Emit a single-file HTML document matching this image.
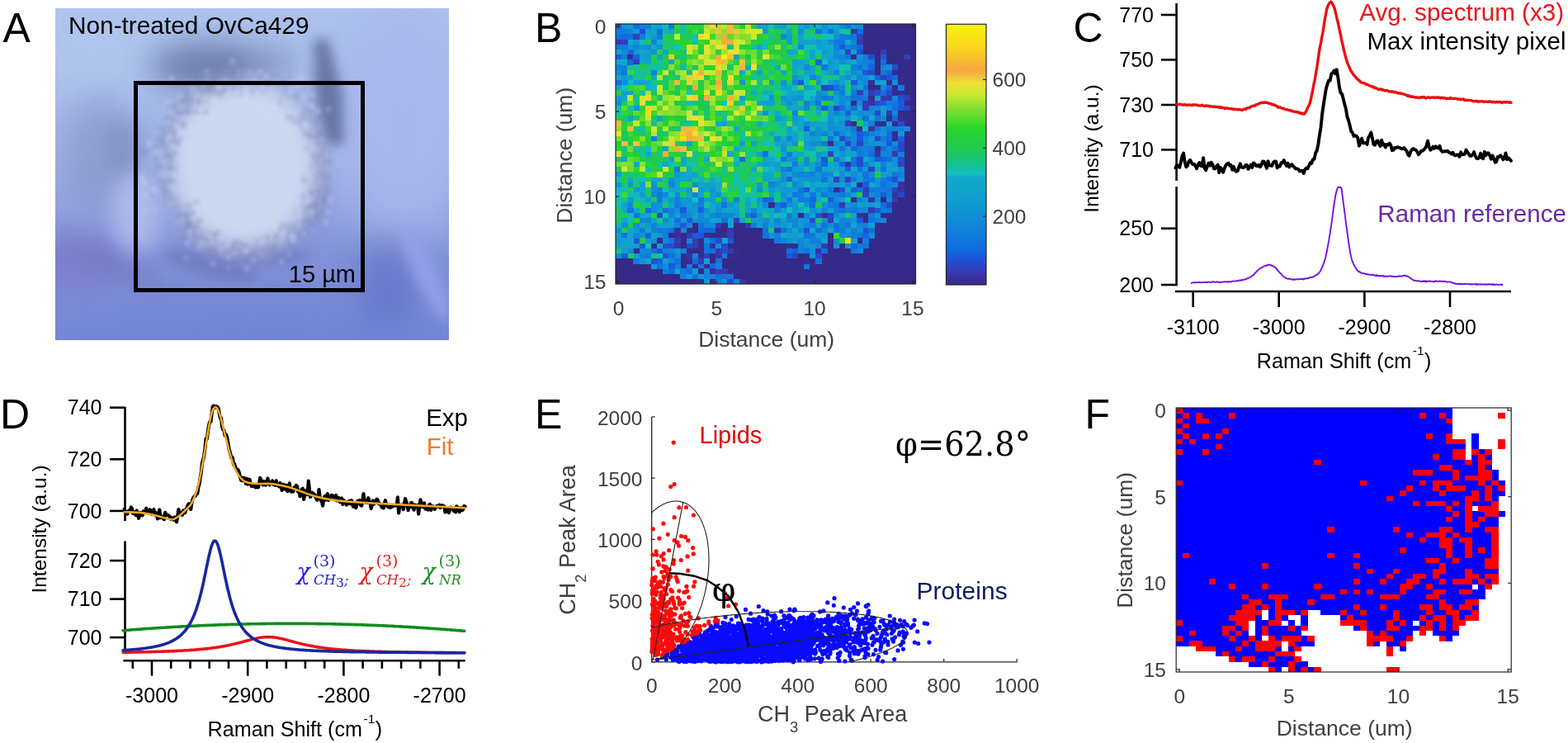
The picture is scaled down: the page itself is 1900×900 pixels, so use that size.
<!DOCTYPE html>
<html><head><meta charset="utf-8"><title>Figure</title>
<style>html,body{margin:0;padding:0;background:#fff;} svg{display:block;}</style>
</head><body>
<svg width="1900" height="900" viewBox="0 0 1900 900">
<rect width="1900" height="900" fill="#fff"/>
<defs><linearGradient id="agv" x1="0" y1="0" x2="0" y2="1"><stop offset="0" stop-color="rgb(172,195,236)"/><stop offset="0.45" stop-color="rgb(160,178,230)"/><stop offset="0.75" stop-color="rgb(130,145,216)"/><stop offset="1" stop-color="rgb(114,134,212)"/></linearGradient><filter id="b30" x="-50%" y="-50%" width="200%" height="200%"><feGaussianBlur stdDeviation="30"/></filter><filter id="b18" x="-50%" y="-50%" width="200%" height="200%"><feGaussianBlur stdDeviation="18"/></filter><filter id="b12" x="-50%" y="-50%" width="200%" height="200%"><feGaussianBlur stdDeviation="12"/></filter><filter id="b7" x="-50%" y="-50%" width="200%" height="200%"><feGaussianBlur stdDeviation="7"/></filter><filter id="b3" x="-50%" y="-50%" width="200%" height="200%"><feGaussianBlur stdDeviation="2.5"/></filter><clipPath id="aclip"><rect x="67" y="10" width="477" height="402"/></clipPath></defs>
<g clip-path="url(#aclip)">
<rect x="67" y="10" width="477" height="402" fill="url(#agv)"/>
<ellipse cx="490" cy="140" rx="80" ry="150" fill="rgb(170,184,238)" opacity="0.9" filter="url(#b30)"/>
<ellipse cx="115" cy="65" rx="90" ry="70" fill="rgb(178,198,238)" opacity="0.75" filter="url(#b30)"/>
<ellipse cx="95" cy="318" rx="70" ry="30" fill="rgb(124,116,202)" opacity="0.7" filter="url(#b18)"/>
<ellipse cx="320" cy="395" rx="170" ry="30" fill="rgb(112,130,212)" opacity="0.5" filter="url(#b30)"/>
<ellipse cx="112" cy="185" rx="40" ry="60" fill="rgb(146,160,210)" opacity="0.55" filter="url(#b18)"/>
<ellipse cx="125" cy="190" rx="42" ry="75" fill="rgb(134,148,200)" opacity="0.5" filter="url(#b18)"/>
<ellipse cx="384" cy="225" rx="12" ry="48" fill="rgb(120,130,182)" opacity="0.6" filter="url(#b7)"/>
<ellipse cx="150" cy="180" rx="20" ry="36" fill="rgb(122,134,188)" opacity="0.55" filter="url(#b12)"/>
<ellipse cx="252" cy="80" rx="70" ry="26" fill="rgb(98,110,158)" opacity="0.85" filter="url(#b18)"/>
<ellipse cx="330" cy="75" rx="30" ry="18" fill="rgb(130,140,185)" opacity="0.5" filter="url(#b12)"/>
<path d="M380,48 L398,48 L416,116 L417,174 L392,176 L382,118 Z" fill="rgb(92,102,150)" opacity="0.8" filter="url(#b7)"/>
<ellipse cx="135" cy="318" rx="75" ry="13" fill="rgb(112,120,186)" opacity="0.5" filter="url(#b12)" transform="rotate(24 135 318)"/>
<ellipse cx="255" cy="322" rx="60" ry="14" fill="rgb(106,114,182)" opacity="0.6" filter="url(#b7)" transform="rotate(14 255 322)"/>
<ellipse cx="315" cy="310" rx="60" ry="11" fill="rgb(104,112,180)" opacity="0.6" filter="url(#b7)"/>
<ellipse cx="470" cy="345" rx="38" ry="55" fill="rgb(100,114,198)" opacity="0.7" filter="url(#b18)"/>
<ellipse cx="296" cy="205" rx="102" ry="112" fill="rgb(158,168,212)" opacity="0.5" filter="url(#b7)"/>
<ellipse cx="295" cy="200" rx="88" ry="100" fill="rgb(208,218,242)" opacity="0.95" filter="url(#b12)"/>
<ellipse cx="515" cy="330" rx="14" ry="65" fill="rgb(150,160,236)" opacity="0.85" filter="url(#b7)" transform="rotate(-25 515 330)"/>
<ellipse cx="165" cy="258" rx="30" ry="48" fill="rgb(182,192,236)" opacity="0.8" filter="url(#b12)"/>
<g fill="rgb(112,122,172)" opacity="0.45" filter="url(#b3)"><circle cx="255.7" cy="117.5" r="2.1"/><circle cx="191.7" cy="219.7" r="1.9"/><circle cx="205.8" cy="187.8" r="1.3"/><circle cx="294.8" cy="93.8" r="1.6"/><circle cx="188.5" cy="177.8" r="2.8"/><circle cx="259.6" cy="104.1" r="2.1"/><circle cx="229.5" cy="129.7" r="2.2"/><circle cx="201.5" cy="221.5" r="1.3"/><circle cx="222.7" cy="121.5" r="1.6"/><circle cx="272.7" cy="107.4" r="1.2"/><circle cx="232.0" cy="121.4" r="2.1"/><circle cx="208.8" cy="181.6" r="1.8"/><circle cx="256.0" cy="117.6" r="1.5"/><circle cx="224.4" cy="115.7" r="2.6"/><circle cx="201.2" cy="231.1" r="2.6"/><circle cx="205.0" cy="162.6" r="1.6"/><circle cx="232.0" cy="275.6" r="1.4"/><circle cx="257.4" cy="97.7" r="2.9"/><circle cx="206.0" cy="190.0" r="2.2"/><circle cx="184.8" cy="235.1" r="2.4"/><circle cx="223.5" cy="120.4" r="1.6"/><circle cx="213.1" cy="126.3" r="2.4"/><circle cx="220.5" cy="134.8" r="2.6"/><circle cx="207.6" cy="239.8" r="2.6"/><circle cx="205.8" cy="194.5" r="2.3"/><circle cx="282.5" cy="107.1" r="2.5"/><circle cx="253.0" cy="109.9" r="2.5"/><circle cx="258.9" cy="99.9" r="2.2"/><circle cx="198.7" cy="167.9" r="1.8"/><circle cx="199.6" cy="188.6" r="2.0"/><circle cx="211.6" cy="128.4" r="2.9"/><circle cx="213.4" cy="206.4" r="1.5"/><circle cx="253.9" cy="103.6" r="1.9"/><circle cx="225.4" cy="262.5" r="2.7"/><circle cx="214.7" cy="251.0" r="1.7"/><circle cx="200.6" cy="165.1" r="1.4"/><circle cx="262.9" cy="98.9" r="2.0"/><circle cx="223.5" cy="269.6" r="1.6"/><circle cx="206.7" cy="203.6" r="2.8"/><circle cx="205.7" cy="170.0" r="2.4"/><circle cx="265.7" cy="111.8" r="2.6"/><circle cx="207.6" cy="190.3" r="2.5"/><circle cx="201.7" cy="162.9" r="2.5"/><circle cx="228.6" cy="283.3" r="1.5"/><circle cx="201.5" cy="237.0" r="1.3"/><circle cx="200.0" cy="236.6" r="2.8"/><circle cx="206.1" cy="201.8" r="2.0"/><circle cx="223.9" cy="122.4" r="2.9"/><circle cx="210.4" cy="195.8" r="1.8"/><circle cx="258.4" cy="113.6" r="2.8"/><circle cx="218.3" cy="168.6" r="2.2"/><circle cx="187.2" cy="211.7" r="1.3"/><circle cx="227.4" cy="270.6" r="2.1"/><circle cx="256.2" cy="102.9" r="2.2"/><circle cx="210.9" cy="169.2" r="2.5"/><circle cx="211.9" cy="161.0" r="2.1"/><circle cx="205.2" cy="129.1" r="2.2"/><circle cx="221.0" cy="122.3" r="3.0"/><circle cx="241.7" cy="119.1" r="1.7"/><circle cx="202.0" cy="178.4" r="1.3"/><circle cx="220.6" cy="288.4" r="2.8"/><circle cx="215.9" cy="243.8" r="1.6"/><circle cx="228.1" cy="262.6" r="2.4"/><circle cx="201.4" cy="162.6" r="2.0"/><circle cx="207.6" cy="219.4" r="2.9"/><circle cx="192.3" cy="244.4" r="1.7"/><circle cx="214.0" cy="237.1" r="1.4"/><circle cx="282.5" cy="114.8" r="1.5"/><circle cx="227.3" cy="287.3" r="1.6"/><circle cx="193.9" cy="183.7" r="3.0"/><circle cx="266.0" cy="85.4" r="2.3"/><circle cx="276.2" cy="95.2" r="2.7"/><circle cx="200.1" cy="190.2" r="1.8"/><circle cx="219.4" cy="137.0" r="1.4"/><circle cx="236.4" cy="104.6" r="2.1"/><circle cx="190.2" cy="191.4" r="1.9"/><circle cx="265.2" cy="93.6" r="1.9"/><circle cx="190.8" cy="198.8" r="1.7"/><circle cx="206.4" cy="230.9" r="2.2"/><circle cx="197.6" cy="177.8" r="1.5"/><circle cx="276.1" cy="98.5" r="1.9"/><circle cx="282.2" cy="85.8" r="1.9"/><circle cx="250.7" cy="109.2" r="1.3"/><circle cx="277.8" cy="92.2" r="1.7"/><circle cx="215.3" cy="173.2" r="2.8"/><circle cx="283.6" cy="99.8" r="2.1"/><circle cx="205.3" cy="243.7" r="2.5"/><circle cx="226.4" cy="112.0" r="1.8"/><circle cx="200.7" cy="182.9" r="2.4"/><circle cx="245.4" cy="105.6" r="2.0"/><circle cx="232.5" cy="257.9" r="2.9"/><circle cx="199.8" cy="161.9" r="2.3"/><circle cx="206.3" cy="145.9" r="1.7"/><circle cx="198.6" cy="210.4" r="2.1"/><circle cx="285.7" cy="97.9" r="2.6"/><circle cx="193.4" cy="168.0" r="2.8"/><circle cx="212.7" cy="255.0" r="1.6"/><circle cx="194.9" cy="203.8" r="1.9"/><circle cx="246.4" cy="109.6" r="3.0"/><circle cx="285.3" cy="104.8" r="1.6"/><circle cx="228.8" cy="135.6" r="1.9"/><circle cx="223.1" cy="278.1" r="1.5"/><circle cx="200.1" cy="246.9" r="1.6"/><circle cx="255.4" cy="105.8" r="1.3"/><circle cx="220.4" cy="271.4" r="2.7"/><circle cx="225.6" cy="282.9" r="1.6"/><circle cx="210.1" cy="221.2" r="1.6"/><circle cx="289.4" cy="101.6" r="2.2"/><circle cx="208.4" cy="145.6" r="2.5"/><circle cx="292.9" cy="79.1" r="1.4"/><circle cx="250.0" cy="103.8" r="2.1"/><circle cx="222.7" cy="130.5" r="1.7"/><circle cx="211.3" cy="163.1" r="2.3"/><circle cx="207.9" cy="242.9" r="2.8"/><circle cx="222.5" cy="150.4" r="2.5"/><circle cx="294.2" cy="95.7" r="1.8"/><circle cx="204.5" cy="139.7" r="1.4"/><circle cx="230.9" cy="125.6" r="2.1"/><circle cx="239.7" cy="119.9" r="1.6"/><circle cx="292.1" cy="94.3" r="1.7"/><circle cx="227.0" cy="261.6" r="2.2"/><circle cx="228.8" cy="270.5" r="1.7"/><circle cx="207.9" cy="251.1" r="2.9"/><circle cx="276.4" cy="103.7" r="1.3"/><circle cx="200.5" cy="202.0" r="1.9"/><circle cx="249.2" cy="135.6" r="2.8"/><circle cx="192.1" cy="168.7" r="2.8"/><circle cx="268.2" cy="100.0" r="1.6"/><circle cx="227.6" cy="133.3" r="2.9"/><circle cx="228.1" cy="277.7" r="2.0"/><circle cx="212.2" cy="154.1" r="2.2"/><circle cx="194.4" cy="154.7" r="2.4"/><circle cx="207.7" cy="142.0" r="1.5"/><circle cx="221.0" cy="251.1" r="1.8"/><circle cx="198.8" cy="175.1" r="2.5"/><circle cx="254.8" cy="106.0" r="2.8"/><circle cx="225.3" cy="257.5" r="2.1"/><circle cx="212.1" cy="185.2" r="2.5"/><circle cx="256.7" cy="100.0" r="1.5"/><circle cx="208.0" cy="160.7" r="2.9"/><circle cx="258.3" cy="95.5" r="1.9"/><circle cx="248.0" cy="111.2" r="2.0"/><circle cx="218.6" cy="258.2" r="2.4"/><circle cx="201.4" cy="242.9" r="2.2"/><circle cx="214.9" cy="148.5" r="1.7"/><circle cx="240.0" cy="267.2" r="2.0"/><circle cx="207.8" cy="251.7" r="2.5"/><circle cx="188.7" cy="194.4" r="1.6"/><circle cx="202.6" cy="154.6" r="1.5"/><circle cx="260.1" cy="106.1" r="2.3"/><circle cx="207.1" cy="153.6" r="1.4"/><circle cx="202.7" cy="143.1" r="2.5"/><circle cx="196.1" cy="170.7" r="2.8"/><circle cx="228.2" cy="283.5" r="2.9"/><circle cx="229.7" cy="137.5" r="2.2"/><circle cx="229.8" cy="268.8" r="2.3"/><circle cx="225.2" cy="258.3" r="2.9"/><circle cx="225.3" cy="266.2" r="1.4"/><circle cx="227.2" cy="125.3" r="1.5"/><circle cx="257.5" cy="98.3" r="2.2"/><circle cx="249.2" cy="123.9" r="2.1"/><circle cx="262.2" cy="95.0" r="2.6"/><circle cx="205.8" cy="176.6" r="1.9"/><circle cx="253.4" cy="102.7" r="1.8"/><circle cx="208.4" cy="253.2" r="1.9"/><circle cx="199.4" cy="230.3" r="2.4"/><circle cx="222.4" cy="153.0" r="2.5"/><circle cx="227.5" cy="115.3" r="2.0"/><circle cx="202.7" cy="248.2" r="1.8"/><circle cx="195.0" cy="217.1" r="1.7"/><circle cx="206.9" cy="239.1" r="2.1"/><circle cx="216.9" cy="138.6" r="2.4"/><circle cx="227.8" cy="277.4" r="2.0"/><circle cx="198.2" cy="176.2" r="1.7"/><circle cx="252.3" cy="104.9" r="1.4"/><circle cx="211.8" cy="201.5" r="1.8"/><circle cx="218.6" cy="259.4" r="1.5"/><circle cx="240.5" cy="124.2" r="2.1"/><circle cx="225.4" cy="125.2" r="2.1"/><circle cx="207.5" cy="175.9" r="1.2"/><circle cx="225.5" cy="284.8" r="2.0"/><circle cx="188.7" cy="206.3" r="1.9"/><circle cx="219.8" cy="120.8" r="2.6"/><circle cx="242.9" cy="266.7" r="2.1"/><circle cx="251.7" cy="104.0" r="2.6"/><circle cx="238.1" cy="135.1" r="3.0"/><circle cx="199.0" cy="144.6" r="1.7"/><circle cx="274.5" cy="107.9" r="1.8"/><circle cx="208.4" cy="168.7" r="2.6"/><circle cx="224.9" cy="136.2" r="2.7"/><circle cx="204.9" cy="151.2" r="2.7"/><circle cx="237.9" cy="244.8" r="2.7"/><circle cx="227.5" cy="274.5" r="2.9"/><circle cx="252.4" cy="107.6" r="1.8"/><circle cx="226.9" cy="272.9" r="1.2"/><circle cx="223.3" cy="151.1" r="1.5"/><circle cx="260.5" cy="113.3" r="2.3"/><circle cx="230.1" cy="135.1" r="2.6"/><circle cx="208.2" cy="187.6" r="1.4"/><circle cx="196.0" cy="227.3" r="2.5"/><circle cx="195.0" cy="172.9" r="2.6"/><circle cx="201.3" cy="188.7" r="2.2"/><circle cx="281.7" cy="94.9" r="2.0"/><circle cx="211.5" cy="119.7" r="1.4"/><circle cx="209.5" cy="162.7" r="1.3"/><circle cx="203.3" cy="204.6" r="2.1"/><circle cx="281.1" cy="89.7" r="3.0"/><circle cx="192.6" cy="202.1" r="2.1"/><circle cx="236.2" cy="92.9" r="2.7"/><circle cx="210.1" cy="251.6" r="1.4"/><circle cx="240.5" cy="122.2" r="1.7"/><circle cx="206.8" cy="258.6" r="1.8"/><circle cx="202.6" cy="143.9" r="1.9"/><circle cx="270.7" cy="92.8" r="2.1"/><circle cx="238.8" cy="123.2" r="1.8"/><circle cx="202.5" cy="269.2" r="1.5"/><circle cx="175.7" cy="184.7" r="2.6"/><circle cx="220.1" cy="256.5" r="1.8"/><circle cx="257.2" cy="97.6" r="2.2"/><circle cx="202.8" cy="216.2" r="2.3"/><circle cx="207.7" cy="204.8" r="2.6"/><circle cx="194.8" cy="200.8" r="1.4"/><circle cx="196.2" cy="226.0" r="1.3"/><circle cx="218.4" cy="265.3" r="2.5"/><circle cx="218.6" cy="148.4" r="1.5"/><circle cx="205.1" cy="201.3" r="2.7"/><circle cx="208.4" cy="155.0" r="1.3"/><circle cx="227.8" cy="273.0" r="2.8"/><circle cx="216.7" cy="248.2" r="1.3"/><circle cx="259.1" cy="108.8" r="2.1"/><circle cx="213.9" cy="173.5" r="2.9"/><circle cx="199.8" cy="221.7" r="2.6"/><circle cx="210.4" cy="145.5" r="2.2"/><circle cx="228.9" cy="249.3" r="3.0"/><circle cx="228.9" cy="119.5" r="2.2"/><circle cx="204.5" cy="230.2" r="2.3"/><circle cx="234.5" cy="274.2" r="1.8"/><circle cx="219.5" cy="148.9" r="2.0"/><circle cx="203.2" cy="212.5" r="1.7"/><circle cx="213.6" cy="172.4" r="1.3"/><circle cx="215.5" cy="260.7" r="2.6"/><circle cx="204.8" cy="194.6" r="2.0"/><circle cx="196.2" cy="162.4" r="1.9"/><circle cx="213.1" cy="263.8" r="1.3"/><circle cx="193.6" cy="155.3" r="2.0"/><circle cx="240.4" cy="124.6" r="2.9"/><circle cx="242.3" cy="104.3" r="2.9"/><circle cx="206.5" cy="193.5" r="1.2"/><circle cx="198.6" cy="174.9" r="1.6"/><circle cx="203.1" cy="186.4" r="2.6"/><circle cx="186.8" cy="168.8" r="1.2"/><circle cx="233.7" cy="118.1" r="1.2"/><circle cx="198.1" cy="201.6" r="1.4"/><circle cx="248.9" cy="102.7" r="2.6"/><circle cx="214.4" cy="134.9" r="2.9"/><circle cx="284.1" cy="91.9" r="2.4"/><circle cx="220.1" cy="260.7" r="1.3"/><circle cx="193.9" cy="218.8" r="1.6"/><circle cx="193.3" cy="182.7" r="2.4"/><circle cx="198.5" cy="156.7" r="2.3"/></g>
<g fill="rgb(112,122,172)" opacity="0.45" filter="url(#b3)"><circle cx="267.3" cy="301.1" r="2.4"/><circle cx="234.9" cy="279.8" r="2.6"/><circle cx="259.4" cy="285.9" r="2.3"/><circle cx="340.8" cy="277.5" r="3.0"/><circle cx="297.4" cy="297.3" r="2.6"/><circle cx="332.8" cy="296.0" r="3.0"/><circle cx="367.5" cy="264.4" r="3.0"/><circle cx="315.0" cy="288.4" r="2.0"/><circle cx="303.5" cy="309.4" r="3.0"/><circle cx="362.6" cy="285.3" r="3.0"/><circle cx="377.7" cy="233.1" r="2.8"/><circle cx="237.6" cy="279.7" r="1.6"/><circle cx="292.3" cy="295.2" r="2.5"/><circle cx="371.9" cy="277.7" r="2.8"/><circle cx="293.8" cy="310.5" r="2.6"/><circle cx="374.9" cy="263.2" r="1.5"/><circle cx="395.9" cy="259.5" r="1.2"/><circle cx="379.2" cy="245.0" r="1.5"/><circle cx="279.3" cy="298.8" r="1.6"/><circle cx="301.6" cy="307.0" r="2.7"/><circle cx="253.1" cy="283.7" r="1.4"/><circle cx="380.8" cy="246.8" r="1.9"/><circle cx="383.2" cy="247.4" r="1.8"/><circle cx="360.6" cy="272.8" r="2.5"/><circle cx="356.9" cy="283.4" r="1.6"/><circle cx="239.7" cy="281.6" r="2.1"/><circle cx="357.1" cy="256.7" r="1.7"/><circle cx="256.6" cy="293.1" r="2.2"/><circle cx="331.9" cy="301.5" r="2.4"/><circle cx="299.0" cy="301.2" r="1.4"/><circle cx="290.8" cy="298.5" r="1.3"/><circle cx="333.0" cy="317.0" r="1.2"/><circle cx="286.0" cy="313.6" r="2.1"/><circle cx="253.5" cy="279.1" r="1.6"/><circle cx="230.1" cy="269.6" r="2.4"/><circle cx="374.9" cy="259.9" r="1.2"/><circle cx="349.2" cy="281.8" r="2.0"/><circle cx="251.7" cy="302.3" r="2.4"/><circle cx="318.6" cy="288.9" r="1.5"/><circle cx="234.5" cy="284.6" r="2.8"/><circle cx="229.7" cy="272.7" r="1.7"/><circle cx="230.5" cy="284.0" r="2.1"/><circle cx="366.0" cy="247.6" r="1.6"/><circle cx="365.2" cy="265.5" r="2.7"/><circle cx="348.6" cy="275.3" r="2.6"/><circle cx="298.9" cy="316.7" r="2.3"/><circle cx="252.8" cy="289.4" r="1.7"/><circle cx="335.0" cy="286.9" r="2.7"/><circle cx="304.1" cy="309.6" r="2.8"/><circle cx="342.6" cy="270.7" r="2.3"/><circle cx="263.1" cy="285.1" r="2.4"/><circle cx="372.4" cy="283.4" r="2.5"/><circle cx="296.2" cy="309.7" r="1.3"/><circle cx="215.8" cy="277.0" r="1.7"/><circle cx="382.7" cy="259.4" r="3.0"/><circle cx="257.0" cy="290.6" r="2.7"/><circle cx="327.2" cy="305.1" r="2.2"/><circle cx="356.2" cy="275.4" r="2.2"/><circle cx="297.8" cy="314.4" r="2.6"/><circle cx="384.9" cy="239.7" r="2.2"/><circle cx="265.9" cy="318.4" r="2.2"/><circle cx="318.0" cy="302.2" r="2.0"/><circle cx="245.4" cy="281.1" r="2.1"/><circle cx="222.6" cy="280.9" r="1.2"/><circle cx="353.1" cy="296.2" r="3.0"/><circle cx="252.5" cy="295.2" r="1.9"/><circle cx="276.5" cy="302.7" r="1.5"/><circle cx="250.3" cy="305.1" r="1.6"/><circle cx="237.8" cy="275.8" r="2.7"/><circle cx="255.4" cy="296.6" r="1.5"/><circle cx="271.7" cy="305.6" r="2.5"/><circle cx="275.7" cy="307.9" r="1.3"/><circle cx="369.8" cy="267.4" r="2.4"/><circle cx="236.9" cy="293.0" r="2.1"/><circle cx="379.6" cy="236.0" r="1.3"/><circle cx="365.9" cy="270.9" r="1.3"/><circle cx="282.6" cy="296.5" r="2.4"/><circle cx="223.0" cy="272.0" r="1.6"/><circle cx="350.4" cy="290.9" r="2.4"/><circle cx="260.4" cy="302.6" r="1.4"/><circle cx="316.7" cy="299.3" r="1.7"/><circle cx="265.3" cy="281.5" r="1.9"/><circle cx="272.4" cy="298.4" r="1.6"/><circle cx="354.4" cy="280.2" r="1.6"/><circle cx="335.6" cy="309.1" r="2.7"/><circle cx="277.8" cy="308.3" r="2.9"/><circle cx="371.9" cy="276.2" r="1.9"/><circle cx="225.0" cy="283.2" r="1.7"/><circle cx="383.9" cy="264.3" r="2.4"/><circle cx="349.2" cy="283.9" r="2.6"/><circle cx="359.4" cy="290.8" r="2.4"/><circle cx="368.9" cy="259.0" r="2.3"/><circle cx="241.7" cy="283.9" r="1.4"/><circle cx="303.5" cy="310.8" r="1.4"/><circle cx="368.5" cy="279.2" r="3.0"/><circle cx="257.3" cy="305.0" r="2.7"/><circle cx="324.9" cy="302.0" r="1.3"/><circle cx="354.8" cy="276.6" r="1.5"/><circle cx="381.3" cy="248.8" r="1.4"/><circle cx="322.9" cy="287.8" r="2.6"/><circle cx="306.7" cy="312.3" r="2.9"/><circle cx="380.9" cy="249.3" r="2.5"/><circle cx="286.4" cy="304.0" r="1.7"/><circle cx="225.4" cy="299.5" r="1.3"/><circle cx="228.1" cy="272.9" r="2.7"/><circle cx="317.2" cy="308.4" r="2.8"/><circle cx="237.3" cy="280.9" r="1.5"/><circle cx="282.8" cy="296.7" r="2.7"/><circle cx="320.7" cy="298.1" r="1.9"/><circle cx="229.2" cy="270.0" r="1.5"/><circle cx="366.7" cy="271.2" r="2.9"/><circle cx="308.0" cy="300.0" r="1.6"/><circle cx="351.5" cy="272.1" r="1.6"/><circle cx="370.9" cy="252.8" r="2.4"/><circle cx="292.6" cy="303.6" r="2.0"/><circle cx="238.5" cy="285.6" r="2.0"/><circle cx="374.8" cy="253.5" r="1.4"/><circle cx="255.1" cy="304.6" r="1.3"/><circle cx="335.5" cy="286.9" r="1.4"/><circle cx="243.6" cy="307.9" r="2.0"/><circle cx="256.3" cy="294.1" r="2.6"/><circle cx="343.7" cy="287.3" r="1.4"/><circle cx="226.0" cy="264.4" r="1.9"/><circle cx="312.1" cy="297.9" r="1.8"/><circle cx="343.2" cy="289.1" r="1.5"/><circle cx="230.8" cy="271.8" r="2.0"/><circle cx="317.9" cy="302.7" r="1.8"/><circle cx="320.9" cy="306.7" r="1.2"/><circle cx="373.7" cy="232.3" r="1.2"/><circle cx="227.9" cy="274.3" r="2.5"/><circle cx="382.5" cy="244.2" r="1.6"/><circle cx="225.1" cy="288.8" r="1.6"/><circle cx="324.0" cy="294.7" r="1.5"/><circle cx="261.5" cy="283.1" r="2.8"/><circle cx="261.3" cy="309.6" r="2.5"/><circle cx="237.0" cy="285.8" r="1.2"/><circle cx="356.4" cy="282.1" r="2.2"/><circle cx="239.1" cy="270.6" r="1.8"/><circle cx="246.3" cy="291.7" r="1.9"/><circle cx="248.8" cy="289.5" r="2.4"/><circle cx="376.7" cy="269.6" r="3.0"/><circle cx="361.8" cy="267.9" r="1.2"/><circle cx="380.6" cy="251.9" r="2.3"/><circle cx="231.6" cy="295.1" r="1.8"/><circle cx="312.6" cy="303.7" r="2.0"/><circle cx="241.9" cy="290.0" r="2.5"/><circle cx="244.9" cy="284.3" r="1.8"/><circle cx="374.3" cy="251.4" r="2.6"/><circle cx="285.0" cy="301.8" r="2.5"/><circle cx="358.1" cy="272.9" r="2.9"/><circle cx="338.9" cy="279.4" r="2.0"/><circle cx="344.1" cy="291.7" r="1.8"/><circle cx="254.3" cy="293.9" r="1.4"/><circle cx="247.8" cy="290.6" r="1.9"/><circle cx="321.6" cy="296.7" r="2.0"/><circle cx="262.9" cy="292.7" r="1.5"/><circle cx="259.5" cy="301.5" r="2.2"/><circle cx="366.4" cy="266.6" r="2.3"/><circle cx="285.2" cy="295.8" r="1.3"/><circle cx="308.4" cy="307.9" r="1.9"/><circle cx="281.7" cy="314.6" r="1.7"/><circle cx="239.0" cy="279.0" r="2.9"/><circle cx="323.8" cy="299.2" r="2.1"/><circle cx="380.8" cy="249.7" r="2.7"/><circle cx="363.2" cy="265.9" r="2.4"/><circle cx="329.9" cy="301.0" r="2.2"/><circle cx="375.4" cy="261.9" r="2.1"/><circle cx="285.9" cy="292.4" r="3.0"/><circle cx="379.1" cy="271.9" r="2.7"/><circle cx="241.3" cy="277.1" r="2.8"/><circle cx="333.4" cy="301.4" r="2.3"/><circle cx="297.4" cy="300.1" r="2.7"/><circle cx="259.4" cy="292.9" r="2.8"/><circle cx="323.5" cy="287.4" r="2.9"/><circle cx="281.5" cy="302.7" r="2.3"/><circle cx="323.4" cy="292.9" r="1.5"/><circle cx="256.1" cy="304.2" r="2.0"/><circle cx="333.9" cy="282.2" r="2.3"/><circle cx="258.0" cy="285.0" r="2.3"/><circle cx="311.4" cy="311.7" r="2.8"/><circle cx="290.2" cy="294.1" r="2.1"/><circle cx="307.3" cy="306.0" r="2.1"/><circle cx="248.6" cy="290.7" r="2.6"/><circle cx="392.3" cy="241.4" r="2.5"/><circle cx="281.5" cy="296.8" r="1.8"/><circle cx="324.3" cy="303.8" r="1.4"/><circle cx="374.4" cy="268.0" r="1.9"/><circle cx="271.3" cy="297.6" r="2.5"/><circle cx="368.9" cy="287.2" r="2.6"/><circle cx="325.0" cy="300.3" r="2.0"/><circle cx="378.3" cy="254.8" r="1.3"/><circle cx="373.8" cy="269.0" r="2.5"/><circle cx="219.1" cy="278.1" r="1.6"/><circle cx="360.3" cy="285.8" r="2.0"/><circle cx="306.2" cy="300.9" r="1.4"/><circle cx="290.6" cy="304.0" r="2.3"/><circle cx="362.6" cy="280.6" r="2.3"/><circle cx="310.5" cy="291.2" r="1.7"/><circle cx="350.0" cy="280.6" r="2.1"/><circle cx="312.4" cy="323.2" r="1.8"/></g>
<g fill="rgb(116,124,176)" opacity="0.35" filter="url(#b3)"><circle cx="367.6" cy="106.8" r="2.2"/><circle cx="364.2" cy="122.7" r="1.5"/><circle cx="384.0" cy="148.4" r="2.2"/><circle cx="369.9" cy="157.9" r="1.8"/><circle cx="345.0" cy="105.9" r="1.6"/><circle cx="322.3" cy="105.0" r="1.6"/><circle cx="379.7" cy="117.7" r="1.2"/><circle cx="380.7" cy="165.7" r="2.6"/><circle cx="333.1" cy="109.9" r="1.3"/><circle cx="302.1" cy="99.1" r="2.2"/><circle cx="358.3" cy="116.6" r="2.8"/><circle cx="371.5" cy="162.9" r="1.8"/><circle cx="292.0" cy="107.4" r="2.4"/><circle cx="381.8" cy="117.9" r="2.1"/><circle cx="325.5" cy="88.3" r="1.3"/><circle cx="344.2" cy="96.2" r="2.5"/><circle cx="311.1" cy="94.5" r="2.9"/><circle cx="374.6" cy="162.4" r="1.5"/><circle cx="310.3" cy="94.8" r="1.9"/><circle cx="342.7" cy="100.0" r="3.0"/><circle cx="369.2" cy="127.6" r="2.0"/><circle cx="305.0" cy="109.0" r="1.9"/><circle cx="380.1" cy="160.5" r="1.8"/><circle cx="292.1" cy="79.3" r="2.4"/><circle cx="344.4" cy="114.1" r="1.7"/><circle cx="382.4" cy="150.3" r="2.8"/><circle cx="359.1" cy="146.7" r="1.5"/><circle cx="280.2" cy="75.8" r="2.9"/><circle cx="279.8" cy="87.0" r="1.6"/><circle cx="299.6" cy="97.7" r="1.4"/><circle cx="378.8" cy="119.5" r="2.3"/><circle cx="361.3" cy="148.3" r="2.9"/><circle cx="331.4" cy="99.7" r="2.6"/><circle cx="316.9" cy="102.4" r="1.3"/><circle cx="342.2" cy="104.0" r="1.4"/><circle cx="340.5" cy="119.0" r="2.4"/><circle cx="311.9" cy="81.9" r="2.6"/><circle cx="353.3" cy="142.6" r="2.6"/><circle cx="318.5" cy="113.3" r="2.1"/><circle cx="313.0" cy="104.9" r="3.0"/><circle cx="349.6" cy="142.4" r="3.0"/><circle cx="359.6" cy="112.0" r="2.4"/><circle cx="329.1" cy="91.1" r="2.0"/><circle cx="299.4" cy="85.6" r="2.5"/><circle cx="279.8" cy="100.0" r="1.3"/><circle cx="355.3" cy="147.6" r="1.8"/><circle cx="287.2" cy="96.3" r="2.3"/><circle cx="280.4" cy="86.7" r="1.7"/><circle cx="388.9" cy="162.9" r="2.4"/><circle cx="381.4" cy="154.6" r="2.4"/><circle cx="335.6" cy="91.4" r="2.8"/><circle cx="320.3" cy="94.2" r="2.2"/><circle cx="268.2" cy="115.5" r="2.7"/><circle cx="374.2" cy="147.9" r="1.6"/><circle cx="332.9" cy="110.7" r="1.5"/><circle cx="259.4" cy="90.4" r="1.5"/><circle cx="337.2" cy="103.3" r="1.3"/><circle cx="261.4" cy="73.1" r="1.2"/><circle cx="291.8" cy="114.7" r="2.3"/><circle cx="322.7" cy="104.7" r="1.4"/><circle cx="339.7" cy="124.4" r="2.8"/><circle cx="274.2" cy="88.4" r="1.6"/><circle cx="319.4" cy="79.5" r="1.4"/><circle cx="374.6" cy="165.7" r="2.0"/><circle cx="360.9" cy="119.4" r="2.7"/><circle cx="349.1" cy="118.6" r="1.7"/><circle cx="365.5" cy="144.4" r="2.5"/><circle cx="375.8" cy="121.5" r="2.4"/><circle cx="380.6" cy="162.1" r="2.1"/><circle cx="305.7" cy="111.0" r="2.6"/><circle cx="370.8" cy="135.5" r="1.4"/><circle cx="289.8" cy="95.1" r="2.4"/><circle cx="370.7" cy="133.9" r="2.3"/><circle cx="306.2" cy="87.5" r="1.4"/><circle cx="322.3" cy="101.1" r="2.4"/><circle cx="346.3" cy="86.8" r="1.4"/><circle cx="269.3" cy="98.4" r="1.6"/><circle cx="354.4" cy="102.0" r="2.9"/><circle cx="346.9" cy="104.8" r="2.3"/><circle cx="312.5" cy="103.9" r="1.4"/><circle cx="307.1" cy="113.7" r="2.0"/><circle cx="326.4" cy="91.7" r="1.3"/><circle cx="381.4" cy="143.4" r="1.9"/><circle cx="321.6" cy="106.0" r="2.3"/><circle cx="311.4" cy="94.3" r="3.0"/><circle cx="349.8" cy="97.7" r="1.9"/><circle cx="320.0" cy="82.5" r="2.1"/><circle cx="378.8" cy="137.2" r="2.2"/><circle cx="347.9" cy="103.1" r="1.3"/><circle cx="350.7" cy="93.5" r="2.5"/><circle cx="346.6" cy="111.5" r="2.3"/><circle cx="351.6" cy="115.8" r="1.6"/><circle cx="383.0" cy="143.3" r="1.7"/><circle cx="379.3" cy="145.9" r="1.5"/><circle cx="293.9" cy="91.3" r="2.5"/><circle cx="302.3" cy="102.6" r="1.4"/><circle cx="325.1" cy="96.5" r="3.0"/><circle cx="385.1" cy="130.1" r="1.8"/><circle cx="263.1" cy="92.8" r="1.4"/><circle cx="361.8" cy="112.6" r="1.3"/><circle cx="371.3" cy="127.8" r="2.3"/><circle cx="270.9" cy="109.6" r="3.0"/><circle cx="306.5" cy="102.3" r="2.3"/><circle cx="374.5" cy="129.2" r="2.2"/><circle cx="315.7" cy="93.1" r="2.8"/><circle cx="386.4" cy="163.0" r="1.7"/><circle cx="369.3" cy="115.4" r="1.5"/><circle cx="264.2" cy="84.5" r="2.9"/><circle cx="344.7" cy="101.0" r="2.1"/><circle cx="373.8" cy="135.0" r="1.9"/><circle cx="328.6" cy="98.7" r="3.0"/><circle cx="370.1" cy="115.5" r="1.4"/><circle cx="303.5" cy="94.6" r="2.1"/><circle cx="341.6" cy="97.1" r="2.5"/><circle cx="329.7" cy="102.6" r="1.4"/><circle cx="374.8" cy="155.5" r="1.4"/><circle cx="302.7" cy="82.6" r="2.3"/><circle cx="263.0" cy="97.2" r="1.7"/><circle cx="388.4" cy="142.3" r="2.9"/><circle cx="287.6" cy="70.9" r="1.6"/></g>
<g fill="rgb(116,124,176)" opacity="0.35" filter="url(#b3)"><circle cx="398.2" cy="216.6" r="2.0"/><circle cx="386.2" cy="161.6" r="2.9"/><circle cx="367.0" cy="139.1" r="2.7"/><circle cx="381.7" cy="173.6" r="1.8"/><circle cx="394.6" cy="214.3" r="1.8"/><circle cx="378.5" cy="188.9" r="1.5"/><circle cx="371.5" cy="145.2" r="1.8"/><circle cx="367.8" cy="141.3" r="1.5"/><circle cx="375.9" cy="163.8" r="2.3"/><circle cx="384.1" cy="172.1" r="2.5"/><circle cx="390.4" cy="182.2" r="2.6"/><circle cx="376.6" cy="133.7" r="2.5"/><circle cx="393.5" cy="243.4" r="2.4"/><circle cx="378.5" cy="156.9" r="1.3"/><circle cx="365.4" cy="139.0" r="1.7"/><circle cx="383.5" cy="159.1" r="1.2"/><circle cx="391.5" cy="256.1" r="1.7"/><circle cx="384.1" cy="148.7" r="1.7"/><circle cx="364.2" cy="138.4" r="1.8"/><circle cx="390.2" cy="138.1" r="2.6"/><circle cx="394.0" cy="197.8" r="2.2"/><circle cx="367.8" cy="162.5" r="2.2"/><circle cx="372.5" cy="139.6" r="1.9"/><circle cx="395.4" cy="226.8" r="3.0"/><circle cx="390.9" cy="211.8" r="2.4"/><circle cx="367.3" cy="236.3" r="2.1"/><circle cx="391.7" cy="161.3" r="2.0"/><circle cx="394.0" cy="151.1" r="2.8"/><circle cx="384.6" cy="150.9" r="1.3"/><circle cx="360.4" cy="141.9" r="1.7"/><circle cx="395.7" cy="226.9" r="1.8"/><circle cx="382.1" cy="195.6" r="2.6"/><circle cx="383.6" cy="170.1" r="2.4"/><circle cx="378.4" cy="189.1" r="2.3"/><circle cx="394.2" cy="239.1" r="2.8"/><circle cx="399.9" cy="227.0" r="1.2"/><circle cx="400.2" cy="195.4" r="2.9"/><circle cx="389.4" cy="185.1" r="1.2"/><circle cx="382.3" cy="192.8" r="2.2"/><circle cx="369.2" cy="240.5" r="2.4"/><circle cx="399.5" cy="182.7" r="2.2"/><circle cx="392.4" cy="255.5" r="1.4"/><circle cx="385.4" cy="141.5" r="1.7"/><circle cx="393.7" cy="172.3" r="1.3"/><circle cx="368.0" cy="162.3" r="2.3"/><circle cx="381.3" cy="186.9" r="2.4"/><circle cx="383.3" cy="153.6" r="1.2"/><circle cx="365.2" cy="140.3" r="1.5"/><circle cx="398.9" cy="215.1" r="2.3"/><circle cx="371.7" cy="179.8" r="2.7"/><circle cx="368.5" cy="218.9" r="3.0"/><circle cx="387.6" cy="227.5" r="2.1"/><circle cx="393.2" cy="194.3" r="2.6"/><circle cx="388.5" cy="158.8" r="3.0"/><circle cx="378.4" cy="145.0" r="2.4"/><circle cx="392.7" cy="179.4" r="1.4"/><circle cx="384.3" cy="164.9" r="2.8"/><circle cx="397.6" cy="233.6" r="2.0"/><circle cx="376.2" cy="164.3" r="2.9"/><circle cx="389.3" cy="209.6" r="2.3"/><circle cx="385.1" cy="234.4" r="2.1"/><circle cx="384.0" cy="216.3" r="1.8"/><circle cx="383.0" cy="214.4" r="2.1"/><circle cx="395.8" cy="174.5" r="1.9"/><circle cx="389.2" cy="211.3" r="2.2"/><circle cx="371.6" cy="162.0" r="2.0"/><circle cx="375.5" cy="142.5" r="1.6"/><circle cx="367.4" cy="213.7" r="1.8"/><circle cx="363.9" cy="150.4" r="1.3"/><circle cx="367.9" cy="144.5" r="1.8"/><circle cx="366.0" cy="153.7" r="2.7"/><circle cx="378.9" cy="185.6" r="1.6"/><circle cx="388.8" cy="233.9" r="1.7"/><circle cx="377.9" cy="201.8" r="2.2"/><circle cx="388.2" cy="207.9" r="2.7"/><circle cx="388.4" cy="174.5" r="2.7"/><circle cx="394.6" cy="233.0" r="1.3"/><circle cx="390.6" cy="199.7" r="2.0"/><circle cx="393.0" cy="217.7" r="1.6"/><circle cx="390.9" cy="188.1" r="2.2"/><circle cx="386.5" cy="191.0" r="2.5"/><circle cx="383.4" cy="134.6" r="1.8"/><circle cx="385.5" cy="200.5" r="1.7"/><circle cx="394.6" cy="211.6" r="2.2"/><circle cx="380.2" cy="223.1" r="1.5"/><circle cx="390.6" cy="166.4" r="1.4"/><circle cx="385.9" cy="232.7" r="2.1"/><circle cx="388.2" cy="184.9" r="1.4"/><circle cx="374.0" cy="171.0" r="1.5"/><circle cx="408.7" cy="176.2" r="1.7"/></g>
<g fill="rgb(214,222,246)" opacity="0.45" filter="url(#b3)"><circle cx="354.7" cy="284.9" r="3.5"/><circle cx="397.5" cy="257.0" r="3.0"/><circle cx="342.8" cy="287.8" r="3.0"/><circle cx="380.0" cy="116.0" r="2.9"/><circle cx="181.1" cy="173.6" r="3.0"/><circle cx="258.4" cy="319.7" r="2.8"/><circle cx="366.0" cy="260.9" r="2.7"/><circle cx="284.3" cy="305.8" r="2.0"/><circle cx="206.9" cy="228.2" r="2.3"/><circle cx="195.5" cy="185.2" r="3.0"/><circle cx="206.9" cy="250.8" r="2.6"/><circle cx="314.4" cy="86.3" r="2.7"/><circle cx="311.4" cy="130.1" r="1.9"/><circle cx="363.6" cy="230.5" r="2.0"/><circle cx="275.3" cy="297.6" r="2.8"/><circle cx="273.2" cy="97.4" r="2.2"/><circle cx="355.6" cy="110.2" r="1.6"/><circle cx="212.3" cy="178.5" r="1.6"/><circle cx="256.0" cy="288.3" r="3.1"/><circle cx="235.2" cy="107.3" r="3.3"/><circle cx="350.4" cy="112.4" r="1.9"/><circle cx="205.6" cy="244.2" r="3.4"/><circle cx="318.4" cy="104.4" r="3.2"/><circle cx="369.2" cy="283.1" r="2.5"/><circle cx="198.9" cy="202.6" r="2.2"/><circle cx="281.9" cy="74.4" r="3.1"/><circle cx="176.6" cy="254.1" r="2.4"/><circle cx="371.0" cy="114.7" r="2.1"/><circle cx="262.6" cy="125.5" r="1.9"/><circle cx="178.1" cy="235.9" r="3.0"/><circle cx="188.0" cy="230.6" r="3.1"/><circle cx="169.8" cy="169.6" r="1.6"/><circle cx="350.5" cy="307.7" r="2.5"/><circle cx="243.8" cy="293.4" r="2.6"/><circle cx="258.2" cy="114.8" r="2.6"/><circle cx="302.7" cy="87.6" r="1.6"/><circle cx="264.7" cy="104.8" r="2.8"/><circle cx="206.4" cy="164.0" r="2.8"/><circle cx="257.0" cy="293.4" r="3.2"/><circle cx="209.6" cy="227.4" r="3.0"/><circle cx="318.3" cy="119.2" r="3.0"/><circle cx="229.5" cy="100.8" r="1.9"/><circle cx="239.5" cy="280.4" r="2.9"/><circle cx="229.9" cy="179.6" r="3.4"/><circle cx="309.9" cy="95.4" r="2.5"/><circle cx="240.9" cy="132.5" r="2.4"/><circle cx="341.8" cy="289.8" r="2.6"/><circle cx="317.1" cy="308.5" r="2.4"/><circle cx="232.4" cy="158.1" r="2.8"/><circle cx="359.8" cy="138.2" r="2.1"/><circle cx="398.0" cy="132.3" r="2.7"/><circle cx="333.2" cy="281.2" r="1.9"/><circle cx="224.9" cy="158.8" r="2.8"/><circle cx="224.5" cy="173.6" r="2.4"/><circle cx="399.7" cy="241.9" r="3.2"/><circle cx="231.4" cy="152.5" r="2.1"/><circle cx="224.5" cy="271.8" r="1.6"/><circle cx="362.6" cy="92.2" r="2.0"/><circle cx="235.1" cy="106.7" r="1.8"/><circle cx="196.6" cy="209.2" r="1.6"/><circle cx="339.0" cy="119.1" r="1.9"/><circle cx="346.4" cy="98.4" r="2.0"/><circle cx="372.6" cy="126.4" r="1.9"/><circle cx="266.0" cy="287.4" r="2.4"/><circle cx="276.9" cy="324.8" r="2.0"/><circle cx="171.7" cy="215.5" r="3.2"/><circle cx="365.4" cy="264.3" r="2.6"/><circle cx="353.3" cy="99.2" r="2.8"/><circle cx="221.6" cy="226.3" r="1.6"/><circle cx="219.2" cy="268.6" r="2.4"/><circle cx="268.3" cy="300.6" r="3.1"/><circle cx="340.6" cy="120.7" r="2.6"/><circle cx="218.2" cy="150.7" r="1.8"/><circle cx="187.7" cy="254.5" r="2.3"/><circle cx="377.6" cy="257.6" r="3.0"/><circle cx="208.4" cy="94.7" r="3.0"/><circle cx="251.2" cy="95.3" r="1.7"/><circle cx="246.2" cy="105.8" r="2.9"/><circle cx="377.6" cy="128.9" r="3.3"/><circle cx="244.8" cy="277.8" r="2.5"/><circle cx="229.2" cy="151.8" r="1.7"/><circle cx="241.3" cy="249.9" r="2.7"/><circle cx="298.3" cy="304.0" r="3.3"/><circle cx="284.7" cy="285.2" r="2.5"/><circle cx="204.5" cy="146.8" r="3.1"/><circle cx="174.6" cy="207.8" r="2.0"/><circle cx="360.4" cy="104.5" r="2.1"/><circle cx="302.6" cy="85.3" r="1.7"/><circle cx="216.9" cy="118.3" r="2.6"/><circle cx="258.4" cy="120.3" r="3.4"/><circle cx="355.1" cy="291.1" r="3.4"/><circle cx="318.8" cy="130.6" r="1.9"/><circle cx="227.4" cy="295.1" r="2.7"/><circle cx="222.0" cy="191.6" r="2.0"/><circle cx="249.0" cy="295.9" r="1.6"/><circle cx="256.8" cy="118.0" r="1.9"/><circle cx="361.9" cy="270.6" r="3.5"/><circle cx="332.4" cy="130.5" r="3.1"/><circle cx="240.3" cy="301.1" r="2.3"/><circle cx="385.3" cy="134.6" r="3.3"/><circle cx="221.8" cy="117.1" r="2.0"/><circle cx="229.0" cy="285.0" r="2.5"/><circle cx="350.5" cy="284.9" r="2.0"/><circle cx="277.1" cy="311.0" r="3.2"/><circle cx="298.7" cy="325.4" r="3.0"/><circle cx="201.1" cy="211.8" r="3.2"/><circle cx="373.0" cy="242.3" r="2.9"/><circle cx="250.4" cy="86.9" r="2.5"/><circle cx="214.0" cy="152.8" r="3.4"/><circle cx="218.3" cy="161.0" r="2.5"/><circle cx="366.7" cy="118.4" r="2.7"/><circle cx="298.1" cy="303.3" r="2.3"/><circle cx="189.7" cy="183.3" r="3.0"/><circle cx="186.0" cy="229.6" r="3.0"/><circle cx="268.4" cy="305.3" r="1.6"/><circle cx="353.4" cy="257.2" r="2.4"/><circle cx="246.7" cy="103.5" r="1.6"/><circle cx="198.5" cy="211.1" r="2.6"/><circle cx="175.8" cy="222.0" r="3.4"/><circle cx="341.2" cy="317.0" r="2.8"/><circle cx="235.3" cy="154.1" r="3.1"/><circle cx="365.1" cy="95.2" r="2.7"/><circle cx="377.7" cy="115.8" r="2.4"/><circle cx="230.6" cy="153.4" r="1.6"/><circle cx="333.5" cy="128.6" r="3.0"/><circle cx="200.9" cy="202.6" r="1.7"/><circle cx="295.6" cy="121.6" r="3.2"/><circle cx="238.6" cy="118.1" r="3.0"/><circle cx="370.1" cy="152.2" r="3.1"/><circle cx="319.7" cy="289.9" r="3.1"/><circle cx="330.2" cy="113.4" r="2.5"/><circle cx="343.1" cy="280.2" r="3.5"/><circle cx="229.8" cy="280.8" r="2.7"/><circle cx="343.7" cy="118.3" r="1.6"/><circle cx="316.3" cy="296.6" r="2.3"/><circle cx="361.1" cy="262.7" r="3.0"/><circle cx="320.4" cy="295.4" r="1.6"/><circle cx="331.7" cy="102.0" r="2.7"/><circle cx="209.3" cy="121.9" r="1.9"/><circle cx="263.2" cy="101.9" r="2.1"/><circle cx="233.2" cy="149.9" r="2.1"/><circle cx="205.4" cy="167.2" r="3.5"/><circle cx="208.1" cy="177.0" r="2.2"/><circle cx="394.4" cy="269.0" r="3.1"/><circle cx="307.4" cy="314.3" r="2.7"/><circle cx="215.8" cy="233.2" r="2.3"/><circle cx="203.0" cy="123.8" r="2.5"/><circle cx="322.4" cy="93.0" r="3.0"/><circle cx="225.3" cy="312.4" r="2.4"/><circle cx="334.0" cy="278.6" r="3.4"/></g>
</g>
<text x="3.5" y="50.9" font-size="50" fill="#000" text-anchor="start" font-family="'Liberation Sans', Arial, sans-serif" >A</text>
<rect x="164.5" y="100.5" width="275" height="251" fill="none" stroke="#000" stroke-width="5"/>
<text x="83.0" y="40.5" font-size="29.8" fill="#000" text-anchor="start" font-family="'Liberation Sans', Arial, sans-serif" >Non-treated OvCa429</text>
<text x="431.0" y="342.0" font-size="29" fill="#000" text-anchor="end" font-family="'Liberation Sans', Arial, sans-serif" >15 µm</text>
<rect x="746.0" y="29.0" width="363.5" height="315.0" fill="#352a87"/>
<g transform="translate(746.0 29.0) scale(7.1275 6.1765)" shape-rendering="crispEdges"><path fill="#1d55d9" d="M0 0h1.04v1.04h-1.04zM46 10h1.04v1.04h-1.04zM44 36h1.04v1.04h-1.04zM3 42h1.04v1.04h-1.04zM19 42h1.04v1.04h-1.04zM8 45h1.04v1.04h-1.04zM29 45h1.04v1.04h-1.04z"/><path fill="#1094d4" d="M1 0h1.04v1.04h-1.04zM34 11h1.04v1.04h-1.04zM37 13h1.04v1.04h-1.04zM3 16h1.04v1.04h-1.04zM42 17h1.04v1.04h-1.04zM29 26h1.04v1.04h-1.04zM32 30h1.04v1.04h-1.04zM34 30h1.04v1.04h-1.04zM44 31h1.04v1.04h-1.04zM16 32h1.04v1.04h-1.04zM44 37h1.04v1.04h-1.04zM33 45h1.04v1.04h-1.04z"/><path fill="#1099d2" d="M2 0h1.04v1.04h-1.04zM28 0h1.04v1.04h-1.04zM32 0h1.04v1.04h-1.04zM36 7h1.04v1.04h-1.04zM21 11h1.04v1.04h-1.04zM32 23h1.04v1.04h-1.04zM39 24h1.04v1.04h-1.04zM38 28h1.04v1.04h-1.04zM31 31h1.04v1.04h-1.04zM29 32h1.04v1.04h-1.04zM13 36h1.04v1.04h-1.04zM40 38h1.04v1.04h-1.04zM5 39h1.04v1.04h-1.04zM0 42h1.04v1.04h-1.04zM10 44h1.04v1.04h-1.04zM12 49h1.04v1.04h-1.04z"/><path fill="#0f6fe0" d="M3 0h1.04v1.04h-1.04zM41 1h1.04v1.04h-1.04zM0 2h1.04v1.04h-1.04zM41 8h1.04v1.04h-1.04zM47 16h1.04v1.04h-1.04zM37 21h1.04v1.04h-1.04zM45 24h1.04v1.04h-1.04zM41 28h1.04v1.04h-1.04zM45 35h1.04v1.04h-1.04zM8 36h1.04v1.04h-1.04zM38 36h1.04v1.04h-1.04zM28 40h1.04v1.04h-1.04zM6 44h1.04v1.04h-1.04z"/><path fill="#107edb" d="M4 0h1.04v1.04h-1.04zM7 2h1.04v1.04h-1.04zM38 13h1.04v1.04h-1.04zM42 14h1.04v1.04h-1.04zM41 24h1.04v1.04h-1.04zM33 29h1.04v1.04h-1.04zM45 30h1.04v1.04h-1.04zM7 34h1.04v1.04h-1.04zM14 35h1.04v1.04h-1.04zM45 36h1.04v1.04h-1.04zM29 37h1.04v1.04h-1.04zM23 39h1.04v1.04h-1.04zM4 40h1.04v1.04h-1.04zM34 42h1.04v1.04h-1.04zM8 48h1.04v1.04h-1.04z"/><path fill="#1080da" d="M5 0h1.04v1.04h-1.04zM1 1h1.04v1.04h-1.04zM1 6h1.04v1.04h-1.04zM1 8h1.04v1.04h-1.04zM36 14h1.04v1.04h-1.04zM46 20h1.04v1.04h-1.04zM47 20h1.04v1.04h-1.04zM48 25h1.04v1.04h-1.04zM44 33h1.04v1.04h-1.04zM10 34h1.04v1.04h-1.04zM9 36h1.04v1.04h-1.04zM25 39h1.04v1.04h-1.04zM42 39h1.04v1.04h-1.04zM11 49h1.04v1.04h-1.04z"/><path fill="#10a4cd" d="M6 0h1.04v1.04h-1.04zM31 2h1.04v1.04h-1.04zM33 3h1.04v1.04h-1.04zM33 8h1.04v1.04h-1.04zM37 8h1.04v1.04h-1.04zM33 9h1.04v1.04h-1.04zM31 10h1.04v1.04h-1.04zM21 14h1.04v1.04h-1.04zM28 15h1.04v1.04h-1.04zM41 16h1.04v1.04h-1.04zM43 18h1.04v1.04h-1.04zM31 20h1.04v1.04h-1.04zM28 25h1.04v1.04h-1.04zM26 27h1.04v1.04h-1.04zM33 27h1.04v1.04h-1.04zM40 28h1.04v1.04h-1.04zM27 30h1.04v1.04h-1.04zM1 35h1.04v1.04h-1.04zM40 37h1.04v1.04h-1.04zM16 38h1.04v1.04h-1.04zM5 40h1.04v1.04h-1.04zM1 43h1.04v1.04h-1.04zM5 46h1.04v1.04h-1.04z"/><path fill="#109ed1" d="M7 0h1.04v1.04h-1.04zM38 10h1.04v1.04h-1.04zM0 14h1.04v1.04h-1.04zM29 14h1.04v1.04h-1.04zM45 16h1.04v1.04h-1.04zM45 17h1.04v1.04h-1.04zM18 19h1.04v1.04h-1.04zM37 19h1.04v1.04h-1.04zM34 22h1.04v1.04h-1.04zM36 24h1.04v1.04h-1.04zM46 28h1.04v1.04h-1.04zM32 33h1.04v1.04h-1.04zM40 33h1.04v1.04h-1.04zM3 45h1.04v1.04h-1.04z"/><path fill="#10c0ac" d="M8 0h1.04v1.04h-1.04z"/><path fill="#0f79dd" d="M9 0h1.04v1.04h-1.04zM35 14h1.04v1.04h-1.04zM47 15h1.04v1.04h-1.04zM35 23h1.04v1.04h-1.04zM43 24h1.04v1.04h-1.04zM40 30h1.04v1.04h-1.04zM7 33h1.04v1.04h-1.04zM7 40h1.04v1.04h-1.04zM1 41h1.04v1.04h-1.04zM33 41h1.04v1.04h-1.04zM41 41h1.04v1.04h-1.04zM41 43h1.04v1.04h-1.04zM18 45h1.04v1.04h-1.04zM3 46h1.04v1.04h-1.04z"/><path fill="#2dd62c" d="M10 0h1.04v1.04h-1.04zM13 24h1.04v1.04h-1.04z"/><path fill="#15c28d" d="M11 0h1.04v1.04h-1.04zM28 1h1.04v1.04h-1.04zM2 8h1.04v1.04h-1.04zM24 10h1.04v1.04h-1.04z"/><path fill="#2ad62c" d="M12 0h1.04v1.04h-1.04zM20 22h1.04v1.04h-1.04zM3 28h1.04v1.04h-1.04zM9 28h1.04v1.04h-1.04z"/><path fill="#24cf3f" d="M13 0h1.04v1.04h-1.04zM23 3h1.04v1.04h-1.04zM30 3h1.04v1.04h-1.04zM28 10h1.04v1.04h-1.04zM32 17h1.04v1.04h-1.04zM15 28h1.04v1.04h-1.04zM4 29h1.04v1.04h-1.04z"/><path fill="#25d139" d="M14 0h1.04v1.04h-1.04zM18 22h1.04v1.04h-1.04zM10 23h1.04v1.04h-1.04zM20 33h1.04v1.04h-1.04z"/><path fill="#a8e430" d="M15 0h1.04v1.04h-1.04zM20 8h1.04v1.04h-1.04zM5 13h1.04v1.04h-1.04zM7 15h1.04v1.04h-1.04z"/><path fill="#f0d436" d="M16 0h1.04v1.04h-1.04zM13 10h1.04v1.04h-1.04z"/><path fill="#ace530" d="M17 0h1.04v1.04h-1.04z"/><path fill="#bbe630" d="M18 0h1.04v1.04h-1.04zM7 13h1.04v1.04h-1.04z"/><path fill="#f3b340" d="M19 0h1.04v1.04h-1.04z"/><path fill="#57db2e" d="M20 0h1.04v1.04h-1.04zM19 7h1.04v1.04h-1.04zM7 19h1.04v1.04h-1.04zM10 19h1.04v1.04h-1.04zM24 28h1.04v1.04h-1.04z"/><path fill="#25d03b" d="M21 0h1.04v1.04h-1.04zM11 3h1.04v1.04h-1.04zM22 4h1.04v1.04h-1.04zM28 5h1.04v1.04h-1.04zM11 16h1.04v1.04h-1.04zM1 19h1.04v1.04h-1.04zM21 20h1.04v1.04h-1.04zM25 24h1.04v1.04h-1.04zM14 26h1.04v1.04h-1.04zM6 37h1.04v1.04h-1.04z"/><path fill="#bde730" d="M22 0h1.04v1.04h-1.04z"/><path fill="#22cb48" d="M23 0h1.04v1.04h-1.04zM30 0h1.04v1.04h-1.04zM18 9h1.04v1.04h-1.04zM28 17h1.04v1.04h-1.04zM9 20h1.04v1.04h-1.04zM7 22h1.04v1.04h-1.04zM6 25h1.04v1.04h-1.04zM14 25h1.04v1.04h-1.04zM19 29h1.04v1.04h-1.04zM20 32h1.04v1.04h-1.04z"/><path fill="#10a1d0" d="M24 0h1.04v1.04h-1.04zM4 6h1.04v1.04h-1.04zM44 11h1.04v1.04h-1.04zM29 29h1.04v1.04h-1.04zM10 37h1.04v1.04h-1.04z"/><path fill="#10a8ca" d="M25 0h1.04v1.04h-1.04zM24 4h1.04v1.04h-1.04zM35 6h1.04v1.04h-1.04zM0 7h1.04v1.04h-1.04zM4 7h1.04v1.04h-1.04zM6 10h1.04v1.04h-1.04zM40 10h1.04v1.04h-1.04zM29 12h1.04v1.04h-1.04zM34 17h1.04v1.04h-1.04zM34 19h1.04v1.04h-1.04zM33 20h1.04v1.04h-1.04zM26 21h1.04v1.04h-1.04zM20 24h1.04v1.04h-1.04zM37 28h1.04v1.04h-1.04zM25 29h1.04v1.04h-1.04zM26 30h1.04v1.04h-1.04zM34 31h1.04v1.04h-1.04zM22 34h1.04v1.04h-1.04zM1 36h1.04v1.04h-1.04zM28 41h1.04v1.04h-1.04z"/><path fill="#10c0bc" d="M26 0h1.04v1.04h-1.04zM32 11h1.04v1.04h-1.04zM35 11h1.04v1.04h-1.04z"/><path fill="#10a1cf" d="M27 0h1.04v1.04h-1.04zM5 1h1.04v1.04h-1.04zM8 5h1.04v1.04h-1.04zM43 10h1.04v1.04h-1.04zM2 13h1.04v1.04h-1.04zM38 18h1.04v1.04h-1.04zM30 22h1.04v1.04h-1.04zM12 23h1.04v1.04h-1.04zM27 23h1.04v1.04h-1.04zM44 28h1.04v1.04h-1.04zM7 30h1.04v1.04h-1.04zM12 30h1.04v1.04h-1.04zM25 30h1.04v1.04h-1.04zM30 30h1.04v1.04h-1.04zM28 31h1.04v1.04h-1.04zM38 31h1.04v1.04h-1.04zM15 34h1.04v1.04h-1.04zM22 35h1.04v1.04h-1.04zM28 36h1.04v1.04h-1.04zM34 36h1.04v1.04h-1.04zM36 36h1.04v1.04h-1.04zM38 37h1.04v1.04h-1.04zM17 38h1.04v1.04h-1.04zM19 38h1.04v1.04h-1.04zM9 39h1.04v1.04h-1.04zM24 39h1.04v1.04h-1.04zM34 39h1.04v1.04h-1.04zM36 40h1.04v1.04h-1.04zM35 42h1.04v1.04h-1.04zM7 43h1.04v1.04h-1.04zM8 46h1.04v1.04h-1.04z"/><path fill="#15c38c" d="M29 0h1.04v1.04h-1.04zM32 2h1.04v1.04h-1.04zM3 9h1.04v1.04h-1.04zM13 17h1.04v1.04h-1.04zM27 19h1.04v1.04h-1.04zM19 32h1.04v1.04h-1.04z"/><path fill="#10a7cb" d="M31 0h1.04v1.04h-1.04zM1 7h1.04v1.04h-1.04zM29 13h1.04v1.04h-1.04zM29 23h1.04v1.04h-1.04zM37 25h1.04v1.04h-1.04zM31 27h1.04v1.04h-1.04zM23 28h1.04v1.04h-1.04zM43 31h1.04v1.04h-1.04zM34 34h1.04v1.04h-1.04z"/><path fill="#10a9c9" d="M33 0h1.04v1.04h-1.04zM5 2h1.04v1.04h-1.04zM2 3h1.04v1.04h-1.04zM36 4h1.04v1.04h-1.04zM9 7h1.04v1.04h-1.04zM22 8h1.04v1.04h-1.04zM35 9h1.04v1.04h-1.04zM5 11h1.04v1.04h-1.04zM25 13h1.04v1.04h-1.04zM30 16h1.04v1.04h-1.04zM27 17h1.04v1.04h-1.04zM7 18h1.04v1.04h-1.04zM24 19h1.04v1.04h-1.04zM11 27h1.04v1.04h-1.04zM20 27h1.04v1.04h-1.04zM12 28h1.04v1.04h-1.04zM12 29h1.04v1.04h-1.04zM2 30h1.04v1.04h-1.04zM17 32h1.04v1.04h-1.04zM8 34h1.04v1.04h-1.04zM16 36h1.04v1.04h-1.04zM25 36h1.04v1.04h-1.04zM26 37h1.04v1.04h-1.04zM30 40h1.04v1.04h-1.04z"/><path fill="#10afc6" d="M34 0h1.04v1.04h-1.04z"/><path fill="#1093d4" d="M35 0h1.04v1.04h-1.04zM31 1h1.04v1.04h-1.04zM37 2h1.04v1.04h-1.04zM25 17h1.04v1.04h-1.04zM36 18h1.04v1.04h-1.04zM36 19h1.04v1.04h-1.04zM45 21h1.04v1.04h-1.04zM44 23h1.04v1.04h-1.04zM30 26h1.04v1.04h-1.04zM9 30h1.04v1.04h-1.04zM15 36h1.04v1.04h-1.04zM33 36h1.04v1.04h-1.04zM32 38h1.04v1.04h-1.04zM6 42h1.04v1.04h-1.04z"/><path fill="#10a3ce" d="M36 0h1.04v1.04h-1.04zM0 5h1.04v1.04h-1.04zM7 6h1.04v1.04h-1.04zM32 9h1.04v1.04h-1.04zM38 11h1.04v1.04h-1.04zM28 12h1.04v1.04h-1.04zM30 19h1.04v1.04h-1.04zM32 22h1.04v1.04h-1.04zM9 26h1.04v1.04h-1.04zM33 28h1.04v1.04h-1.04zM35 28h1.04v1.04h-1.04zM47 28h1.04v1.04h-1.04zM34 33h1.04v1.04h-1.04zM15 37h1.04v1.04h-1.04zM33 37h1.04v1.04h-1.04zM26 38h1.04v1.04h-1.04zM37 38h1.04v1.04h-1.04zM4 39h1.04v1.04h-1.04zM40 39h1.04v1.04h-1.04zM18 42h1.04v1.04h-1.04zM0 43h1.04v1.04h-1.04z"/><path fill="#10a7ca" d="M37 0h1.04v1.04h-1.04zM9 1h1.04v1.04h-1.04zM39 3h1.04v1.04h-1.04zM35 4h1.04v1.04h-1.04zM4 5h1.04v1.04h-1.04zM30 5h1.04v1.04h-1.04zM37 7h1.04v1.04h-1.04zM21 9h1.04v1.04h-1.04zM39 9h1.04v1.04h-1.04zM31 19h1.04v1.04h-1.04zM11 26h1.04v1.04h-1.04zM24 27h1.04v1.04h-1.04zM11 30h1.04v1.04h-1.04zM16 30h1.04v1.04h-1.04zM40 31h1.04v1.04h-1.04zM9 32h1.04v1.04h-1.04zM27 32h1.04v1.04h-1.04zM16 35h1.04v1.04h-1.04zM22 36h1.04v1.04h-1.04zM26 36h1.04v1.04h-1.04zM1 38h1.04v1.04h-1.04zM2 41h1.04v1.04h-1.04zM31 41h1.04v1.04h-1.04z"/><path fill="#1089d8" d="M38 0h1.04v1.04h-1.04zM42 11h1.04v1.04h-1.04zM45 12h1.04v1.04h-1.04zM38 14h1.04v1.04h-1.04zM47 14h1.04v1.04h-1.04zM46 16h1.04v1.04h-1.04zM40 22h1.04v1.04h-1.04zM37 23h1.04v1.04h-1.04zM36 33h1.04v1.04h-1.04zM25 35h1.04v1.04h-1.04zM16 37h1.04v1.04h-1.04zM4 38h1.04v1.04h-1.04zM14 38h1.04v1.04h-1.04zM34 43h1.04v1.04h-1.04z"/><path fill="#0f75de" d="M39 0h1.04v1.04h-1.04zM39 2h1.04v1.04h-1.04zM45 9h1.04v1.04h-1.04zM38 24h1.04v1.04h-1.04zM25 25h1.04v1.04h-1.04zM43 32h1.04v1.04h-1.04zM14 39h1.04v1.04h-1.04zM14 47h1.04v1.04h-1.04z"/><path fill="#1096d3" d="M40 0h1.04v1.04h-1.04zM35 1h1.04v1.04h-1.04zM6 2h1.04v1.04h-1.04zM2 4h1.04v1.04h-1.04zM3 5h1.04v1.04h-1.04zM30 10h1.04v1.04h-1.04zM35 13h1.04v1.04h-1.04zM30 14h1.04v1.04h-1.04zM48 21h1.04v1.04h-1.04zM43 22h1.04v1.04h-1.04zM47 27h1.04v1.04h-1.04zM34 29h1.04v1.04h-1.04zM0 31h1.04v1.04h-1.04zM2 31h1.04v1.04h-1.04zM30 32h1.04v1.04h-1.04zM24 34h1.04v1.04h-1.04zM12 36h1.04v1.04h-1.04zM20 37h1.04v1.04h-1.04zM39 40h1.04v1.04h-1.04zM7 41h1.04v1.04h-1.04zM37 43h1.04v1.04h-1.04z"/><path fill="#108cd7" d="M41 0h1.04v1.04h-1.04zM37 5h1.04v1.04h-1.04zM39 18h1.04v1.04h-1.04zM43 26h1.04v1.04h-1.04zM34 27h1.04v1.04h-1.04zM38 29h1.04v1.04h-1.04zM6 33h1.04v1.04h-1.04zM43 33h1.04v1.04h-1.04zM44 34h1.04v1.04h-1.04zM6 36h1.04v1.04h-1.04zM45 38h1.04v1.04h-1.04zM36 39h1.04v1.04h-1.04zM11 40h1.04v1.04h-1.04zM38 41h1.04v1.04h-1.04zM43 41h1.04v1.04h-1.04zM0 45h1.04v1.04h-1.04z"/><path fill="#107ddb" d="M0 1h1.04v1.04h-1.04zM42 6h1.04v1.04h-1.04zM45 32h1.04v1.04h-1.04zM37 36h1.04v1.04h-1.04zM39 36h1.04v1.04h-1.04zM11 37h1.04v1.04h-1.04zM8 41h1.04v1.04h-1.04zM27 41h1.04v1.04h-1.04zM12 47h1.04v1.04h-1.04z"/><path fill="#1082da" d="M2 1h1.04v1.04h-1.04zM43 21h1.04v1.04h-1.04zM42 23h1.04v1.04h-1.04zM40 40h1.04v1.04h-1.04zM11 44h1.04v1.04h-1.04zM4 45h1.04v1.04h-1.04zM20 50h1.04v1.04h-1.04z"/><path fill="#109bd2" d="M3 1h1.04v1.04h-1.04zM37 1h1.04v1.04h-1.04zM38 5h1.04v1.04h-1.04zM5 6h1.04v1.04h-1.04zM33 15h1.04v1.04h-1.04zM34 16h1.04v1.04h-1.04zM36 17h1.04v1.04h-1.04zM46 19h1.04v1.04h-1.04zM36 21h1.04v1.04h-1.04zM25 27h1.04v1.04h-1.04zM14 32h1.04v1.04h-1.04zM11 34h1.04v1.04h-1.04zM12 35h1.04v1.04h-1.04zM17 35h1.04v1.04h-1.04zM24 38h1.04v1.04h-1.04zM5 42h1.04v1.04h-1.04z"/><path fill="#234dd2" d="M4 1h1.04v1.04h-1.04zM42 40h1.04v1.04h-1.04z"/><path fill="#10a5cc" d="M6 1h1.04v1.04h-1.04zM33 5h1.04v1.04h-1.04zM20 6h1.04v1.04h-1.04zM33 6h1.04v1.04h-1.04zM5 7h1.04v1.04h-1.04zM27 8h1.04v1.04h-1.04zM0 12h1.04v1.04h-1.04zM28 18h1.04v1.04h-1.04zM37 22h1.04v1.04h-1.04zM24 25h1.04v1.04h-1.04zM31 25h1.04v1.04h-1.04zM1 26h1.04v1.04h-1.04zM26 29h1.04v1.04h-1.04zM6 30h1.04v1.04h-1.04zM39 32h1.04v1.04h-1.04zM12 33h1.04v1.04h-1.04zM14 33h1.04v1.04h-1.04zM9 35h1.04v1.04h-1.04zM41 35h1.04v1.04h-1.04zM4 37h1.04v1.04h-1.04zM6 38h1.04v1.04h-1.04zM21 38h1.04v1.04h-1.04zM6 41h1.04v1.04h-1.04zM10 48h1.04v1.04h-1.04z"/><path fill="#0f70e0" d="M7 1h1.04v1.04h-1.04zM33 35h1.04v1.04h-1.04z"/><path fill="#10b4c4" d="M8 1h1.04v1.04h-1.04zM4 34h1.04v1.04h-1.04z"/><path fill="#23cd44" d="M10 1h1.04v1.04h-1.04zM24 5h1.04v1.04h-1.04zM24 12h1.04v1.04h-1.04zM10 18h1.04v1.04h-1.04zM21 18h1.04v1.04h-1.04zM24 24h1.04v1.04h-1.04zM41 33h1.04v1.04h-1.04zM2 39h1.04v1.04h-1.04z"/><path fill="#12c19f" d="M11 1h1.04v1.04h-1.04zM7 8h1.04v1.04h-1.04zM32 28h1.04v1.04h-1.04z"/><path fill="#22cb47" d="M12 1h1.04v1.04h-1.04zM28 7h1.04v1.04h-1.04zM26 12h1.04v1.04h-1.04zM2 23h1.04v1.04h-1.04zM20 25h1.04v1.04h-1.04zM9 29h1.04v1.04h-1.04z"/><path fill="#40d92d" d="M13 1h1.04v1.04h-1.04zM2 19h1.04v1.04h-1.04z"/><path fill="#21c94e" d="M14 1h1.04v1.04h-1.04zM17 21h1.04v1.04h-1.04zM22 31h1.04v1.04h-1.04zM24 33h1.04v1.04h-1.04z"/><path fill="#c8e830" d="M15 1h1.04v1.04h-1.04zM5 18h1.04v1.04h-1.04z"/><path fill="#98e230" d="M16 1h1.04v1.04h-1.04zM7 17h1.04v1.04h-1.04zM15 23h1.04v1.04h-1.04zM18 24h1.04v1.04h-1.04z"/><path fill="#f0c140" d="M17 1h1.04v1.04h-1.04zM21 7h1.04v1.04h-1.04z"/><path fill="#90e130" d="M18 1h1.04v1.04h-1.04z"/><path fill="#f6ba32" d="M19 1h1.04v1.04h-1.04z"/><path fill="#f0c33f" d="M20 1h1.04v1.04h-1.04zM3 23h1.04v1.04h-1.04z"/><path fill="#a6e430" d="M21 1h1.04v1.04h-1.04zM9 15h1.04v1.04h-1.04z"/><path fill="#d1e630" d="M22 1h1.04v1.04h-1.04zM12 18h1.04v1.04h-1.04zM22 18h1.04v1.04h-1.04z"/><path fill="#dbe430" d="M23 1h1.04v1.04h-1.04zM4 14h1.04v1.04h-1.04z"/><path fill="#dde430" d="M24 1h1.04v1.04h-1.04z"/><path fill="#109dd1" d="M25 1h1.04v1.04h-1.04zM36 8h1.04v1.04h-1.04zM26 11h1.04v1.04h-1.04zM33 19h1.04v1.04h-1.04zM42 19h1.04v1.04h-1.04zM33 22h1.04v1.04h-1.04zM21 23h1.04v1.04h-1.04zM27 27h1.04v1.04h-1.04zM41 29h1.04v1.04h-1.04zM37 31h1.04v1.04h-1.04zM16 34h1.04v1.04h-1.04zM28 34h1.04v1.04h-1.04zM38 34h1.04v1.04h-1.04zM20 36h1.04v1.04h-1.04zM30 41h1.04v1.04h-1.04zM15 50h1.04v1.04h-1.04z"/><path fill="#27d431" d="M26 1h1.04v1.04h-1.04zM14 4h1.04v1.04h-1.04zM22 10h1.04v1.04h-1.04zM9 18h1.04v1.04h-1.04zM31 24h1.04v1.04h-1.04zM5 27h1.04v1.04h-1.04zM19 33h1.04v1.04h-1.04z"/><path fill="#22cb49" d="M27 1h1.04v1.04h-1.04zM18 12h1.04v1.04h-1.04zM15 18h1.04v1.04h-1.04zM0 23h1.04v1.04h-1.04zM18 27h1.04v1.04h-1.04z"/><path fill="#10a3cd" d="M29 1h1.04v1.04h-1.04zM30 15h1.04v1.04h-1.04zM37 15h1.04v1.04h-1.04zM39 25h1.04v1.04h-1.04zM3 27h1.04v1.04h-1.04zM46 27h1.04v1.04h-1.04zM10 30h1.04v1.04h-1.04zM16 31h1.04v1.04h-1.04zM24 35h1.04v1.04h-1.04zM18 36h1.04v1.04h-1.04zM5 37h1.04v1.04h-1.04zM26 39h1.04v1.04h-1.04zM43 39h1.04v1.04h-1.04zM2 42h1.04v1.04h-1.04z"/><path fill="#26d333" d="M30 1h1.04v1.04h-1.04zM33 7h1.04v1.04h-1.04zM29 10h1.04v1.04h-1.04zM9 13h1.04v1.04h-1.04zM1 20h1.04v1.04h-1.04zM7 20h1.04v1.04h-1.04zM7 31h1.04v1.04h-1.04z"/><path fill="#13c198" d="M32 1h1.04v1.04h-1.04zM11 5h1.04v1.04h-1.04zM37 10h1.04v1.04h-1.04zM23 33h1.04v1.04h-1.04z"/><path fill="#1fc756" d="M33 1h1.04v1.04h-1.04zM5 3h1.04v1.04h-1.04z"/><path fill="#0f76de" d="M34 1h1.04v1.04h-1.04zM40 26h1.04v1.04h-1.04zM40 27h1.04v1.04h-1.04zM46 32h1.04v1.04h-1.04zM33 33h1.04v1.04h-1.04zM27 35h1.04v1.04h-1.04zM42 43h1.04v1.04h-1.04zM13 49h1.04v1.04h-1.04zM18 49h1.04v1.04h-1.04z"/><path fill="#0f73df" d="M36 1h1.04v1.04h-1.04zM42 12h1.04v1.04h-1.04zM47 24h1.04v1.04h-1.04zM25 40h1.04v1.04h-1.04z"/><path fill="#10c0b0" d="M38 1h1.04v1.04h-1.04zM32 4h1.04v1.04h-1.04zM5 28h1.04v1.04h-1.04zM20 30h1.04v1.04h-1.04z"/><path fill="#17c47f" d="M39 1h1.04v1.04h-1.04zM28 21h1.04v1.04h-1.04z"/><path fill="#3836aa" d="M40 1h1.04v1.04h-1.04zM17 45h1.04v1.04h-1.04z"/><path fill="#352c8d" d="M49 1h1.04v1.04h-1.04zM40 6h1.04v1.04h-1.04zM49 7h1.04v1.04h-1.04zM47 9h1.04v1.04h-1.04zM46 11h1.04v1.04h-1.04zM43 12h1.04v1.04h-1.04zM44 12h1.04v1.04h-1.04zM47 12h1.04v1.04h-1.04zM47 13h1.04v1.04h-1.04zM48 13h1.04v1.04h-1.04zM43 14h1.04v1.04h-1.04zM40 15h1.04v1.04h-1.04zM49 15h1.04v1.04h-1.04zM48 17h1.04v1.04h-1.04zM46 18h1.04v1.04h-1.04zM40 19h1.04v1.04h-1.04zM44 19h1.04v1.04h-1.04zM47 19h1.04v1.04h-1.04zM47 21h1.04v1.04h-1.04zM47 22h1.04v1.04h-1.04zM44 24h1.04v1.04h-1.04zM41 31h1.04v1.04h-1.04zM40 34h1.04v1.04h-1.04zM26 35h1.04v1.04h-1.04zM31 37h1.04v1.04h-1.04zM42 37h1.04v1.04h-1.04zM45 37h1.04v1.04h-1.04zM42 38h1.04v1.04h-1.04zM44 39h1.04v1.04h-1.04zM45 39h1.04v1.04h-1.04zM12 40h1.04v1.04h-1.04zM44 40h1.04v1.04h-1.04zM45 40h1.04v1.04h-1.04zM9 41h1.04v1.04h-1.04zM15 41h1.04v1.04h-1.04zM17 41h1.04v1.04h-1.04zM14 42h1.04v1.04h-1.04zM36 42h1.04v1.04h-1.04zM41 42h1.04v1.04h-1.04zM6 43h1.04v1.04h-1.04zM14 43h1.04v1.04h-1.04zM29 43h1.04v1.04h-1.04zM30 43h1.04v1.04h-1.04zM3 44h1.04v1.04h-1.04zM12 44h1.04v1.04h-1.04zM14 44h1.04v1.04h-1.04zM20 44h1.04v1.04h-1.04zM11 45h1.04v1.04h-1.04zM19 45h1.04v1.04h-1.04zM20 45h1.04v1.04h-1.04zM32 45h1.04v1.04h-1.04zM11 46h1.04v1.04h-1.04zM18 46h1.04v1.04h-1.04zM11 47h1.04v1.04h-1.04zM13 47h1.04v1.04h-1.04zM15 47h1.04v1.04h-1.04zM14 48h1.04v1.04h-1.04zM14 50h1.04v1.04h-1.04zM32 50h1.04v1.04h-1.04zM33 50h1.04v1.04h-1.04z"/><path fill="#1269df" d="M1 2h1.04v1.04h-1.04zM2 7h1.04v1.04h-1.04zM40 24h1.04v1.04h-1.04zM35 27h1.04v1.04h-1.04z"/><path fill="#0f71df" d="M2 2h1.04v1.04h-1.04zM46 21h1.04v1.04h-1.04zM29 28h1.04v1.04h-1.04zM5 36h1.04v1.04h-1.04zM29 44h1.04v1.04h-1.04z"/><path fill="#2f41bf" d="M3 2h1.04v1.04h-1.04zM45 10h1.04v1.04h-1.04zM47 32h1.04v1.04h-1.04z"/><path fill="#0f7adc" d="M4 2h1.04v1.04h-1.04zM37 3h1.04v1.04h-1.04zM1 4h1.04v1.04h-1.04zM40 20h1.04v1.04h-1.04zM39 22h1.04v1.04h-1.04zM30 27h1.04v1.04h-1.04zM35 33h1.04v1.04h-1.04zM14 34h1.04v1.04h-1.04zM29 34h1.04v1.04h-1.04zM22 37h1.04v1.04h-1.04zM27 42h1.04v1.04h-1.04zM11 48h1.04v1.04h-1.04z"/><path fill="#23ce41" d="M8 2h1.04v1.04h-1.04zM24 6h1.04v1.04h-1.04zM27 15h1.04v1.04h-1.04zM5 22h1.04v1.04h-1.04zM19 23h1.04v1.04h-1.04zM1 40h1.04v1.04h-1.04z"/><path fill="#1ec75c" d="M9 2h1.04v1.04h-1.04zM8 12h1.04v1.04h-1.04zM20 15h1.04v1.04h-1.04z"/><path fill="#c0e730" d="M10 2h1.04v1.04h-1.04z"/><path fill="#21ca4c" d="M11 2h1.04v1.04h-1.04zM8 31h1.04v1.04h-1.04z"/><path fill="#1dc661" d="M12 2h1.04v1.04h-1.04zM34 2h1.04v1.04h-1.04zM21 19h1.04v1.04h-1.04zM4 21h1.04v1.04h-1.04z"/><path fill="#10c0bb" d="M13 2h1.04v1.04h-1.04zM36 2h1.04v1.04h-1.04zM32 14h1.04v1.04h-1.04zM26 17h1.04v1.04h-1.04zM25 19h1.04v1.04h-1.04z"/><path fill="#f0db32" d="M14 2h1.04v1.04h-1.04z"/><path fill="#f8e616" d="M15 2h1.04v1.04h-1.04z"/><path fill="#45d92d" d="M16 2h1.04v1.04h-1.04zM2 21h1.04v1.04h-1.04zM1 33h1.04v1.04h-1.04z"/><path fill="#8fe130" d="M17 2h1.04v1.04h-1.04zM9 17h1.04v1.04h-1.04zM0 20h1.04v1.04h-1.04z"/><path fill="#f4ae40" d="M18 2h1.04v1.04h-1.04zM12 21h1.04v1.04h-1.04z"/><path fill="#5fdc2e" d="M19 2h1.04v1.04h-1.04zM1 16h1.04v1.04h-1.04zM31 23h1.04v1.04h-1.04zM19 24h1.04v1.04h-1.04z"/><path fill="#9ae230" d="M20 2h1.04v1.04h-1.04zM27 4h1.04v1.04h-1.04zM21 25h1.04v1.04h-1.04z"/><path fill="#7ddf30" d="M21 2h1.04v1.04h-1.04zM10 16h1.04v1.04h-1.04z"/><path fill="#8be030" d="M22 2h1.04v1.04h-1.04zM1 27h1.04v1.04h-1.04z"/><path fill="#c9e830" d="M23 2h1.04v1.04h-1.04zM7 12h1.04v1.04h-1.04zM17 22h1.04v1.04h-1.04z"/><path fill="#24cf3e" d="M24 2h1.04v1.04h-1.04zM29 7h1.04v1.04h-1.04zM7 11h1.04v1.04h-1.04zM27 25h1.04v1.04h-1.04z"/><path fill="#32d72c" d="M25 2h1.04v1.04h-1.04zM11 4h1.04v1.04h-1.04z"/><path fill="#12c19e" d="M26 2h1.04v1.04h-1.04zM7 7h1.04v1.04h-1.04zM18 18h1.04v1.04h-1.04zM3 34h1.04v1.04h-1.04z"/><path fill="#21c94c" d="M27 2h1.04v1.04h-1.04z"/><path fill="#108ad7" d="M28 2h1.04v1.04h-1.04zM37 6h1.04v1.04h-1.04zM42 8h1.04v1.04h-1.04zM41 15h1.04v1.04h-1.04zM44 16h1.04v1.04h-1.04zM45 18h1.04v1.04h-1.04zM48 28h1.04v1.04h-1.04zM36 29h1.04v1.04h-1.04zM13 31h1.04v1.04h-1.04zM37 34h1.04v1.04h-1.04zM12 37h1.04v1.04h-1.04zM4 44h1.04v1.04h-1.04zM41 44h1.04v1.04h-1.04zM9 46h1.04v1.04h-1.04z"/><path fill="#109cd1" d="M29 2h1.04v1.04h-1.04zM35 5h1.04v1.04h-1.04zM34 10h1.04v1.04h-1.04zM41 18h1.04v1.04h-1.04zM39 21h1.04v1.04h-1.04zM34 26h1.04v1.04h-1.04zM43 27h1.04v1.04h-1.04zM30 28h1.04v1.04h-1.04zM28 32h1.04v1.04h-1.04zM4 33h1.04v1.04h-1.04zM16 33h1.04v1.04h-1.04zM30 35h1.04v1.04h-1.04zM42 35h1.04v1.04h-1.04zM7 36h1.04v1.04h-1.04zM23 38h1.04v1.04h-1.04zM3 43h1.04v1.04h-1.04zM13 48h1.04v1.04h-1.04z"/><path fill="#22cc47" d="M30 2h1.04v1.04h-1.04zM11 18h1.04v1.04h-1.04zM4 26h1.04v1.04h-1.04z"/><path fill="#10c0ad" d="M33 2h1.04v1.04h-1.04zM4 13h1.04v1.04h-1.04zM21 15h1.04v1.04h-1.04zM0 17h1.04v1.04h-1.04zM2 33h1.04v1.04h-1.04z"/><path fill="#10c0be" d="M35 2h1.04v1.04h-1.04zM34 5h1.04v1.04h-1.04zM2 11h1.04v1.04h-1.04z"/><path fill="#107cdc" d="M38 2h1.04v1.04h-1.04zM45 22h1.04v1.04h-1.04zM29 25h1.04v1.04h-1.04zM42 27h1.04v1.04h-1.04zM42 30h1.04v1.04h-1.04zM36 32h1.04v1.04h-1.04zM44 32h1.04v1.04h-1.04zM31 33h1.04v1.04h-1.04zM31 34h1.04v1.04h-1.04zM32 34h1.04v1.04h-1.04zM36 35h1.04v1.04h-1.04zM43 37h1.04v1.04h-1.04zM44 38h1.04v1.04h-1.04zM5 45h1.04v1.04h-1.04z"/><path fill="#0f76dd" d="M40 2h1.04v1.04h-1.04zM34 15h1.04v1.04h-1.04zM44 18h1.04v1.04h-1.04zM18 35h1.04v1.04h-1.04zM43 38h1.04v1.04h-1.04zM32 44h1.04v1.04h-1.04z"/><path fill="#2e42c1" d="M41 2h1.04v1.04h-1.04zM1 3h1.04v1.04h-1.04zM49 16h1.04v1.04h-1.04z"/><path fill="#3837ae" d="M0 3h1.04v1.04h-1.04zM47 34h1.04v1.04h-1.04z"/><path fill="#1098d3" d="M3 3h1.04v1.04h-1.04zM42 28h1.04v1.04h-1.04zM10 29h1.04v1.04h-1.04zM31 30h1.04v1.04h-1.04zM44 30h1.04v1.04h-1.04zM24 31h1.04v1.04h-1.04zM3 32h1.04v1.04h-1.04zM12 32h1.04v1.04h-1.04zM2 34h1.04v1.04h-1.04zM9 34h1.04v1.04h-1.04zM12 34h1.04v1.04h-1.04zM11 35h1.04v1.04h-1.04zM19 35h1.04v1.04h-1.04zM11 38h1.04v1.04h-1.04zM31 38h1.04v1.04h-1.04zM30 42h1.04v1.04h-1.04zM6 47h1.04v1.04h-1.04z"/><path fill="#11c1a1" d="M4 3h1.04v1.04h-1.04zM3 30h1.04v1.04h-1.04zM4 30h1.04v1.04h-1.04z"/><path fill="#1086d9" d="M6 3h1.04v1.04h-1.04zM31 4h1.04v1.04h-1.04zM38 15h1.04v1.04h-1.04zM43 16h1.04v1.04h-1.04zM47 17h1.04v1.04h-1.04zM35 21h1.04v1.04h-1.04zM29 22h1.04v1.04h-1.04zM32 29h1.04v1.04h-1.04zM30 31h1.04v1.04h-1.04zM5 38h1.04v1.04h-1.04zM6 39h1.04v1.04h-1.04zM10 39h1.04v1.04h-1.04zM30 39h1.04v1.04h-1.04zM32 39h1.04v1.04h-1.04zM8 42h1.04v1.04h-1.04zM15 48h1.04v1.04h-1.04z"/><path fill="#10b2c5" d="M7 3h1.04v1.04h-1.04zM26 13h1.04v1.04h-1.04zM44 27h1.04v1.04h-1.04zM0 39h1.04v1.04h-1.04z"/><path fill="#18c47d" d="M8 3h1.04v1.04h-1.04zM8 11h1.04v1.04h-1.04zM24 14h1.04v1.04h-1.04zM13 30h1.04v1.04h-1.04z"/><path fill="#23cc45" d="M9 3h1.04v1.04h-1.04zM24 22h1.04v1.04h-1.04zM7 26h1.04v1.04h-1.04zM22 28h1.04v1.04h-1.04z"/><path fill="#26d236" d="M10 3h1.04v1.04h-1.04zM9 10h1.04v1.04h-1.04zM6 15h1.04v1.04h-1.04z"/><path fill="#27d530" d="M12 3h1.04v1.04h-1.04zM22 23h1.04v1.04h-1.04z"/><path fill="#10c0b7" d="M13 3h1.04v1.04h-1.04zM27 26h1.04v1.04h-1.04zM12 27h1.04v1.04h-1.04zM31 35h1.04v1.04h-1.04z"/><path fill="#41d92d" d="M14 3h1.04v1.04h-1.04zM31 5h1.04v1.04h-1.04zM24 7h1.04v1.04h-1.04z"/><path fill="#28d62c" d="M15 3h1.04v1.04h-1.04zM16 8h1.04v1.04h-1.04zM27 13h1.04v1.04h-1.04zM35 17h1.04v1.04h-1.04zM4 19h1.04v1.04h-1.04zM2 25h1.04v1.04h-1.04zM17 28h1.04v1.04h-1.04z"/><path fill="#d2e630" d="M16 3h1.04v1.04h-1.04z"/><path fill="#bae630" d="M17 3h1.04v1.04h-1.04zM18 25h1.04v1.04h-1.04z"/><path fill="#f5aa3e" d="M18 3h1.04v1.04h-1.04z"/><path fill="#f5ab3e" d="M19 3h1.04v1.04h-1.04z"/><path fill="#dce430" d="M20 3h1.04v1.04h-1.04z"/><path fill="#cae830" d="M21 3h1.04v1.04h-1.04zM7 29h1.04v1.04h-1.04z"/><path fill="#74de2f" d="M22 3h1.04v1.04h-1.04z"/><path fill="#22cc45" d="M24 3h1.04v1.04h-1.04zM27 7h1.04v1.04h-1.04zM29 8h1.04v1.04h-1.04zM16 20h1.04v1.04h-1.04zM30 24h1.04v1.04h-1.04zM19 30h1.04v1.04h-1.04z"/><path fill="#14c294" d="M25 3h1.04v1.04h-1.04zM28 27h1.04v1.04h-1.04zM8 32h1.04v1.04h-1.04zM25 32h1.04v1.04h-1.04zM35 34h1.04v1.04h-1.04z"/><path fill="#23cd42" d="M26 3h1.04v1.04h-1.04zM14 11h1.04v1.04h-1.04zM2 32h1.04v1.04h-1.04zM17 34h1.04v1.04h-1.04z"/><path fill="#1cc665" d="M27 3h1.04v1.04h-1.04zM1 21h1.04v1.04h-1.04zM22 22h1.04v1.04h-1.04z"/><path fill="#24ce40" d="M28 3h1.04v1.04h-1.04zM26 22h1.04v1.04h-1.04zM20 28h1.04v1.04h-1.04zM12 31h1.04v1.04h-1.04z"/><path fill="#10a0d0" d="M29 3h1.04v1.04h-1.04zM32 3h1.04v1.04h-1.04zM34 4h1.04v1.04h-1.04zM40 5h1.04v1.04h-1.04zM30 7h1.04v1.04h-1.04zM36 11h1.04v1.04h-1.04zM41 12h1.04v1.04h-1.04zM1 13h1.04v1.04h-1.04zM44 14h1.04v1.04h-1.04zM40 17h1.04v1.04h-1.04zM29 20h1.04v1.04h-1.04zM8 24h1.04v1.04h-1.04zM33 24h1.04v1.04h-1.04zM31 28h1.04v1.04h-1.04zM45 29h1.04v1.04h-1.04zM26 33h1.04v1.04h-1.04zM5 34h1.04v1.04h-1.04zM44 35h1.04v1.04h-1.04zM9 38h1.04v1.04h-1.04zM8 39h1.04v1.04h-1.04zM1 44h1.04v1.04h-1.04z"/><path fill="#10a2ce" d="M31 3h1.04v1.04h-1.04zM36 6h1.04v1.04h-1.04zM24 9h1.04v1.04h-1.04zM3 11h1.04v1.04h-1.04zM4 11h1.04v1.04h-1.04zM45 11h1.04v1.04h-1.04zM26 15h1.04v1.04h-1.04zM2 18h1.04v1.04h-1.04zM32 24h1.04v1.04h-1.04zM42 26h1.04v1.04h-1.04zM11 29h1.04v1.04h-1.04zM33 31h1.04v1.04h-1.04zM29 33h1.04v1.04h-1.04zM13 37h1.04v1.04h-1.04zM28 38h1.04v1.04h-1.04zM1 42h1.04v1.04h-1.04zM15 46h1.04v1.04h-1.04z"/><path fill="#109ad2" d="M34 3h1.04v1.04h-1.04zM39 7h1.04v1.04h-1.04zM1 10h1.04v1.04h-1.04zM32 12h1.04v1.04h-1.04zM39 15h1.04v1.04h-1.04zM27 18h1.04v1.04h-1.04zM28 23h1.04v1.04h-1.04zM0 29h1.04v1.04h-1.04zM46 29h1.04v1.04h-1.04zM36 30h1.04v1.04h-1.04zM26 32h1.04v1.04h-1.04zM30 36h1.04v1.04h-1.04zM28 39h1.04v1.04h-1.04zM31 39h1.04v1.04h-1.04zM3 40h1.04v1.04h-1.04z"/><path fill="#10a6cb" d="M35 3h1.04v1.04h-1.04zM36 5h1.04v1.04h-1.04zM31 7h1.04v1.04h-1.04zM30 8h1.04v1.04h-1.04zM28 9h1.04v1.04h-1.04zM30 9h1.04v1.04h-1.04zM33 12h1.04v1.04h-1.04zM1 14h1.04v1.04h-1.04zM33 14h1.04v1.04h-1.04zM24 15h1.04v1.04h-1.04zM31 16h1.04v1.04h-1.04zM31 18h1.04v1.04h-1.04zM37 18h1.04v1.04h-1.04zM35 19h1.04v1.04h-1.04zM29 21h1.04v1.04h-1.04zM32 21h1.04v1.04h-1.04zM5 25h1.04v1.04h-1.04zM15 26h1.04v1.04h-1.04zM25 26h1.04v1.04h-1.04zM8 27h1.04v1.04h-1.04zM27 28h1.04v1.04h-1.04zM36 28h1.04v1.04h-1.04zM14 31h1.04v1.04h-1.04zM35 31h1.04v1.04h-1.04zM15 32h1.04v1.04h-1.04zM33 32h1.04v1.04h-1.04zM30 34h1.04v1.04h-1.04zM3 36h1.04v1.04h-1.04zM24 36h1.04v1.04h-1.04zM29 39h1.04v1.04h-1.04zM2 40h1.04v1.04h-1.04zM33 40h1.04v1.04h-1.04zM40 42h1.04v1.04h-1.04z"/><path fill="#108fd6" d="M36 3h1.04v1.04h-1.04zM0 9h1.04v1.04h-1.04zM34 13h1.04v1.04h-1.04zM0 15h1.04v1.04h-1.04zM37 20h1.04v1.04h-1.04zM43 23h1.04v1.04h-1.04zM32 27h1.04v1.04h-1.04zM30 29h1.04v1.04h-1.04zM28 33h1.04v1.04h-1.04zM18 34h1.04v1.04h-1.04zM8 38h1.04v1.04h-1.04zM27 39h1.04v1.04h-1.04zM8 47h1.04v1.04h-1.04z"/><path fill="#0f78dd" d="M38 3h1.04v1.04h-1.04zM43 7h1.04v1.04h-1.04zM48 12h1.04v1.04h-1.04zM28 26h1.04v1.04h-1.04zM34 28h1.04v1.04h-1.04zM47 29h1.04v1.04h-1.04zM35 30h1.04v1.04h-1.04zM43 30h1.04v1.04h-1.04zM30 33h1.04v1.04h-1.04zM38 33h1.04v1.04h-1.04zM37 35h1.04v1.04h-1.04zM3 37h1.04v1.04h-1.04zM15 44h1.04v1.04h-1.04zM40 44h1.04v1.04h-1.04z"/><path fill="#1083da" d="M40 3h1.04v1.04h-1.04zM37 4h1.04v1.04h-1.04zM37 9h1.04v1.04h-1.04zM30 11h1.04v1.04h-1.04zM33 21h1.04v1.04h-1.04zM42 25h1.04v1.04h-1.04zM31 29h1.04v1.04h-1.04zM27 38h1.04v1.04h-1.04z"/><path fill="#3838b0" d="M41 3h1.04v1.04h-1.04zM45 14h1.04v1.04h-1.04zM17 39h1.04v1.04h-1.04zM13 43h1.04v1.04h-1.04zM35 43h1.04v1.04h-1.04zM19 44h1.04v1.04h-1.04z"/><path fill="#0f77dd" d="M0 4h1.04v1.04h-1.04zM40 4h1.04v1.04h-1.04zM39 6h1.04v1.04h-1.04zM31 32h1.04v1.04h-1.04zM2 36h1.04v1.04h-1.04zM46 36h1.04v1.04h-1.04zM39 39h1.04v1.04h-1.04zM32 47h1.04v1.04h-1.04zM19 49h1.04v1.04h-1.04z"/><path fill="#1088d8" d="M3 4h1.04v1.04h-1.04zM33 10h1.04v1.04h-1.04zM38 12h1.04v1.04h-1.04zM42 13h1.04v1.04h-1.04zM34 14h1.04v1.04h-1.04zM39 14h1.04v1.04h-1.04zM32 16h1.04v1.04h-1.04zM38 21h1.04v1.04h-1.04zM46 24h1.04v1.04h-1.04zM45 25h1.04v1.04h-1.04zM2 35h1.04v1.04h-1.04zM40 35h1.04v1.04h-1.04zM42 36h1.04v1.04h-1.04zM14 37h1.04v1.04h-1.04zM37 37h1.04v1.04h-1.04zM30 38h1.04v1.04h-1.04zM3 41h1.04v1.04h-1.04zM5 44h1.04v1.04h-1.04zM13 45h1.04v1.04h-1.04zM16 49h1.04v1.04h-1.04z"/><path fill="#1095d4" d="M4 4h1.04v1.04h-1.04zM7 4h1.04v1.04h-1.04zM41 9h1.04v1.04h-1.04zM41 11h1.04v1.04h-1.04zM26 14h1.04v1.04h-1.04zM28 14h1.04v1.04h-1.04zM38 20h1.04v1.04h-1.04zM38 23h1.04v1.04h-1.04zM34 25h1.04v1.04h-1.04zM33 30h1.04v1.04h-1.04zM27 31h1.04v1.04h-1.04zM36 31h1.04v1.04h-1.04zM35 32h1.04v1.04h-1.04zM7 35h1.04v1.04h-1.04zM43 35h1.04v1.04h-1.04zM4 41h1.04v1.04h-1.04zM32 42h1.04v1.04h-1.04zM4 46h1.04v1.04h-1.04z"/><path fill="#1090d5" d="M5 4h1.04v1.04h-1.04zM46 8h1.04v1.04h-1.04zM1 11h1.04v1.04h-1.04zM37 11h1.04v1.04h-1.04zM34 21h1.04v1.04h-1.04zM45 23h1.04v1.04h-1.04zM48 30h1.04v1.04h-1.04zM6 31h1.04v1.04h-1.04zM6 35h1.04v1.04h-1.04zM10 36h1.04v1.04h-1.04zM13 38h1.04v1.04h-1.04zM1 39h1.04v1.04h-1.04zM26 41h1.04v1.04h-1.04zM29 42h1.04v1.04h-1.04z"/><path fill="#10a8c9" d="M6 4h1.04v1.04h-1.04zM40 7h1.04v1.04h-1.04zM30 13h1.04v1.04h-1.04zM29 16h1.04v1.04h-1.04zM36 27h1.04v1.04h-1.04zM10 31h1.04v1.04h-1.04zM19 36h1.04v1.04h-1.04z"/><path fill="#22cc46" d="M8 4h1.04v1.04h-1.04zM26 5h1.04v1.04h-1.04zM8 7h1.04v1.04h-1.04zM26 8h1.04v1.04h-1.04zM10 15h1.04v1.04h-1.04zM35 15h1.04v1.04h-1.04zM22 20h1.04v1.04h-1.04zM3 21h1.04v1.04h-1.04zM3 25h1.04v1.04h-1.04zM6 27h1.04v1.04h-1.04zM44 29h1.04v1.04h-1.04zM25 31h1.04v1.04h-1.04zM1 37h1.04v1.04h-1.04z"/><path fill="#13c297" d="M9 4h1.04v1.04h-1.04z"/><path fill="#10c0bf" d="M10 4h1.04v1.04h-1.04zM35 7h1.04v1.04h-1.04z"/><path fill="#f0de31" d="M12 4h1.04v1.04h-1.04zM20 5h1.04v1.04h-1.04z"/><path fill="#b5e630" d="M13 4h1.04v1.04h-1.04zM7 10h1.04v1.04h-1.04z"/><path fill="#ede130" d="M15 4h1.04v1.04h-1.04zM13 9h1.04v1.04h-1.04z"/><path fill="#93e130" d="M16 4h1.04v1.04h-1.04zM21 5h1.04v1.04h-1.04z"/><path fill="#ece130" d="M17 4h1.04v1.04h-1.04zM15 5h1.04v1.04h-1.04zM19 5h1.04v1.04h-1.04zM20 17h1.04v1.04h-1.04zM13 21h1.04v1.04h-1.04zM16 22h1.04v1.04h-1.04z"/><path fill="#f0dc32" d="M18 4h1.04v1.04h-1.04zM14 10h1.04v1.04h-1.04zM5 14h1.04v1.04h-1.04z"/><path fill="#18c47c" d="M19 4h1.04v1.04h-1.04zM31 21h1.04v1.04h-1.04z"/><path fill="#cbe730" d="M20 4h1.04v1.04h-1.04z"/><path fill="#25d13a" d="M21 4h1.04v1.04h-1.04zM18 11h1.04v1.04h-1.04zM10 25h1.04v1.04h-1.04z"/><path fill="#10c0ab" d="M23 4h1.04v1.04h-1.04zM13 27h1.04v1.04h-1.04z"/><path fill="#10b8c3" d="M25 4h1.04v1.04h-1.04zM32 10h1.04v1.04h-1.04z"/><path fill="#33d72c" d="M26 4h1.04v1.04h-1.04zM7 9h1.04v1.04h-1.04zM26 10h1.04v1.04h-1.04z"/><path fill="#1bc56c" d="M28 4h1.04v1.04h-1.04zM13 8h1.04v1.04h-1.04zM34 8h1.04v1.04h-1.04zM6 18h1.04v1.04h-1.04zM23 24h1.04v1.04h-1.04zM8 35h1.04v1.04h-1.04z"/><path fill="#34d72d" d="M29 4h1.04v1.04h-1.04zM16 11h1.04v1.04h-1.04zM17 23h1.04v1.04h-1.04z"/><path fill="#10c0b1" d="M30 4h1.04v1.04h-1.04zM21 31h1.04v1.04h-1.04z"/><path fill="#11c0a3" d="M33 4h1.04v1.04h-1.04zM5 9h1.04v1.04h-1.04z"/><path fill="#1a5bdb" d="M38 4h1.04v1.04h-1.04zM42 9h1.04v1.04h-1.04zM48 15h1.04v1.04h-1.04zM35 26h1.04v1.04h-1.04zM4 43h1.04v1.04h-1.04z"/><path fill="#1081da" d="M39 4h1.04v1.04h-1.04zM42 7h1.04v1.04h-1.04zM41 10h1.04v1.04h-1.04zM48 20h1.04v1.04h-1.04zM42 24h1.04v1.04h-1.04zM28 28h1.04v1.04h-1.04zM37 33h1.04v1.04h-1.04zM41 34h1.04v1.04h-1.04zM35 36h1.04v1.04h-1.04zM17 37h1.04v1.04h-1.04z"/><path fill="#1662dd" d="M41 4h1.04v1.04h-1.04zM2 5h1.04v1.04h-1.04zM35 16h1.04v1.04h-1.04zM7 46h1.04v1.04h-1.04z"/><path fill="#108bd7" d="M1 5h1.04v1.04h-1.04zM38 7h1.04v1.04h-1.04zM40 9h1.04v1.04h-1.04zM39 20h1.04v1.04h-1.04zM49 20h1.04v1.04h-1.04zM44 21h1.04v1.04h-1.04zM38 30h1.04v1.04h-1.04zM34 32h1.04v1.04h-1.04zM8 33h1.04v1.04h-1.04zM18 37h1.04v1.04h-1.04zM15 38h1.04v1.04h-1.04zM29 38h1.04v1.04h-1.04zM39 38h1.04v1.04h-1.04zM15 42h1.04v1.04h-1.04zM31 42h1.04v1.04h-1.04zM37 42h1.04v1.04h-1.04zM2 44h1.04v1.04h-1.04zM10 45h1.04v1.04h-1.04z"/><path fill="#109fd0" d="M5 5h1.04v1.04h-1.04zM36 9h1.04v1.04h-1.04zM25 15h1.04v1.04h-1.04zM38 26h1.04v1.04h-1.04zM37 27h1.04v1.04h-1.04zM4 31h1.04v1.04h-1.04zM15 31h1.04v1.04h-1.04zM7 39h1.04v1.04h-1.04zM0 41h1.04v1.04h-1.04zM29 41h1.04v1.04h-1.04z"/><path fill="#1092d5" d="M6 5h1.04v1.04h-1.04zM28 11h1.04v1.04h-1.04zM29 15h1.04v1.04h-1.04zM38 19h1.04v1.04h-1.04zM36 20h1.04v1.04h-1.04zM47 26h1.04v1.04h-1.04zM28 29h1.04v1.04h-1.04zM13 35h1.04v1.04h-1.04zM32 35h1.04v1.04h-1.04zM35 35h1.04v1.04h-1.04zM17 36h1.04v1.04h-1.04zM33 43h1.04v1.04h-1.04zM18 50h1.04v1.04h-1.04z"/><path fill="#26d335" d="M7 5h1.04v1.04h-1.04zM22 12h1.04v1.04h-1.04zM19 21h1.04v1.04h-1.04z"/><path fill="#2bd62c" d="M9 5h1.04v1.04h-1.04zM15 33h1.04v1.04h-1.04z"/><path fill="#26d237" d="M10 5h1.04v1.04h-1.04zM15 8h1.04v1.04h-1.04zM4 16h1.04v1.04h-1.04z"/><path fill="#d0e630" d="M12 5h1.04v1.04h-1.04zM8 9h1.04v1.04h-1.04zM10 14h1.04v1.04h-1.04zM17 27h1.04v1.04h-1.04zM8 28h1.04v1.04h-1.04z"/><path fill="#6add2f" d="M13 5h1.04v1.04h-1.04zM18 13h1.04v1.04h-1.04zM25 18h1.04v1.04h-1.04zM22 32h1.04v1.04h-1.04z"/><path fill="#21c94d" d="M14 5h1.04v1.04h-1.04zM36 13h1.04v1.04h-1.04z"/><path fill="#a5e430" d="M16 5h1.04v1.04h-1.04zM16 14h1.04v1.04h-1.04z"/><path fill="#27d432" d="M17 5h1.04v1.04h-1.04zM20 7h1.04v1.04h-1.04zM24 26h1.04v1.04h-1.04zM24 30h1.04v1.04h-1.04zM3 38h1.04v1.04h-1.04z"/><path fill="#a0e330" d="M18 5h1.04v1.04h-1.04zM18 16h1.04v1.04h-1.04zM19 26h1.04v1.04h-1.04z"/><path fill="#5adb2e" d="M22 5h1.04v1.04h-1.04zM26 6h1.04v1.04h-1.04zM8 13h1.04v1.04h-1.04z"/><path fill="#6bdd2f" d="M23 5h1.04v1.04h-1.04z"/><path fill="#7ade2f" d="M25 5h1.04v1.04h-1.04z"/><path fill="#23cd43" d="M27 5h1.04v1.04h-1.04zM22 14h1.04v1.04h-1.04zM27 16h1.04v1.04h-1.04zM0 18h1.04v1.04h-1.04zM23 20h1.04v1.04h-1.04zM18 23h1.04v1.04h-1.04zM7 24h1.04v1.04h-1.04zM10 27h1.04v1.04h-1.04z"/><path fill="#10a6cc" d="M29 5h1.04v1.04h-1.04zM30 21h1.04v1.04h-1.04zM39 29h1.04v1.04h-1.04zM4 32h1.04v1.04h-1.04zM10 32h1.04v1.04h-1.04zM20 35h1.04v1.04h-1.04z"/><path fill="#15c28e" d="M32 5h1.04v1.04h-1.04zM26 7h1.04v1.04h-1.04zM23 25h1.04v1.04h-1.04zM0 44h1.04v1.04h-1.04z"/><path fill="#343cb7" d="M39 5h1.04v1.04h-1.04zM22 39h1.04v1.04h-1.04zM15 45h1.04v1.04h-1.04z"/><path fill="#244cd2" d="M41 5h1.04v1.04h-1.04zM18 44h1.04v1.04h-1.04z"/><path fill="#333db8" d="M45 5h1.04v1.04h-1.04zM49 6h1.04v1.04h-1.04z"/><path fill="#1760dc" d="M0 6h1.04v1.04h-1.04zM36 34h1.04v1.04h-1.04zM41 38h1.04v1.04h-1.04z"/><path fill="#362f96" d="M2 6h1.04v1.04h-1.04zM35 37h1.04v1.04h-1.04z"/><path fill="#1563dd" d="M3 6h1.04v1.04h-1.04zM43 8h1.04v1.04h-1.04zM46 12h1.04v1.04h-1.04zM32 20h1.04v1.04h-1.04zM38 27h1.04v1.04h-1.04zM29 30h1.04v1.04h-1.04zM12 38h1.04v1.04h-1.04zM16 40h1.04v1.04h-1.04z"/><path fill="#23ce42" d="M6 6h1.04v1.04h-1.04zM14 12h1.04v1.04h-1.04zM20 19h1.04v1.04h-1.04zM16 27h1.04v1.04h-1.04z"/><path fill="#20c852" d="M8 6h1.04v1.04h-1.04zM27 14h1.04v1.04h-1.04z"/><path fill="#f8ca25" d="M9 6h1.04v1.04h-1.04z"/><path fill="#1dc760" d="M10 6h1.04v1.04h-1.04zM25 7h1.04v1.04h-1.04zM39 12h1.04v1.04h-1.04z"/><path fill="#1cc664" d="M11 6h1.04v1.04h-1.04zM1 15h1.04v1.04h-1.04zM2 29h1.04v1.04h-1.04z"/><path fill="#36d72d" d="M12 6h1.04v1.04h-1.04zM14 13h1.04v1.04h-1.04z"/><path fill="#43d92d" d="M13 6h1.04v1.04h-1.04zM27 6h1.04v1.04h-1.04zM33 11h1.04v1.04h-1.04z"/><path fill="#e1e330" d="M14 6h1.04v1.04h-1.04z"/><path fill="#bee730" d="M15 6h1.04v1.04h-1.04zM2 14h1.04v1.04h-1.04z"/><path fill="#79de2f" d="M16 6h1.04v1.04h-1.04zM0 22h1.04v1.04h-1.04z"/><path fill="#f4ad40" d="M17 6h1.04v1.04h-1.04z"/><path fill="#f8f310" d="M18 6h1.04v1.04h-1.04z"/><path fill="#f7bf2e" d="M19 6h1.04v1.04h-1.04zM17 7h1.04v1.04h-1.04z"/><path fill="#48d92d" d="M21 6h1.04v1.04h-1.04zM3 12h1.04v1.04h-1.04zM16 24h1.04v1.04h-1.04z"/><path fill="#20c850" d="M22 6h1.04v1.04h-1.04zM6 7h1.04v1.04h-1.04zM21 10h1.04v1.04h-1.04zM26 24h1.04v1.04h-1.04zM6 26h1.04v1.04h-1.04zM31 26h1.04v1.04h-1.04zM7 28h1.04v1.04h-1.04zM34 35h1.04v1.04h-1.04z"/><path fill="#77de2f" d="M23 6h1.04v1.04h-1.04zM10 17h1.04v1.04h-1.04z"/><path fill="#e9e130" d="M25 6h1.04v1.04h-1.04zM19 10h1.04v1.04h-1.04z"/><path fill="#21ca4b" d="M28 6h1.04v1.04h-1.04zM25 8h1.04v1.04h-1.04zM0 13h1.04v1.04h-1.04zM14 14h1.04v1.04h-1.04zM8 18h1.04v1.04h-1.04zM23 19h1.04v1.04h-1.04zM36 26h1.04v1.04h-1.04zM21 27h1.04v1.04h-1.04z"/><path fill="#1ac571" d="M29 6h1.04v1.04h-1.04zM34 12h1.04v1.04h-1.04zM15 15h1.04v1.04h-1.04zM13 26h1.04v1.04h-1.04zM6 34h1.04v1.04h-1.04zM21 35h1.04v1.04h-1.04z"/><path fill="#1ec75a" d="M30 6h1.04v1.04h-1.04zM17 24h1.04v1.04h-1.04z"/><path fill="#28d52e" d="M31 6h1.04v1.04h-1.04zM5 10h1.04v1.04h-1.04zM21 12h1.04v1.04h-1.04z"/><path fill="#1ac573" d="M32 6h1.04v1.04h-1.04zM3 18h1.04v1.04h-1.04zM15 25h1.04v1.04h-1.04zM18 29h1.04v1.04h-1.04zM5 33h1.04v1.04h-1.04zM7 38h1.04v1.04h-1.04z"/><path fill="#21ca4a" d="M34 6h1.04v1.04h-1.04zM15 10h1.04v1.04h-1.04zM10 13h1.04v1.04h-1.04zM24 20h1.04v1.04h-1.04zM20 21h1.04v1.04h-1.04zM15 22h1.04v1.04h-1.04zM12 24h1.04v1.04h-1.04zM11 25h1.04v1.04h-1.04z"/><path fill="#1085d9" d="M38 6h1.04v1.04h-1.04zM45 8h1.04v1.04h-1.04zM30 17h1.04v1.04h-1.04zM37 17h1.04v1.04h-1.04zM40 21h1.04v1.04h-1.04zM46 25h1.04v1.04h-1.04zM26 31h1.04v1.04h-1.04zM7 32h1.04v1.04h-1.04zM23 36h1.04v1.04h-1.04zM9 37h1.04v1.04h-1.04zM38 38h1.04v1.04h-1.04zM15 39h1.04v1.04h-1.04zM38 39h1.04v1.04h-1.04zM6 40h1.04v1.04h-1.04zM31 40h1.04v1.04h-1.04zM9 44h1.04v1.04h-1.04zM15 49h1.04v1.04h-1.04z"/><path fill="#1091d5" d="M41 6h1.04v1.04h-1.04zM39 10h1.04v1.04h-1.04zM47 11h1.04v1.04h-1.04zM31 14h1.04v1.04h-1.04zM36 16h1.04v1.04h-1.04zM30 23h1.04v1.04h-1.04zM28 24h1.04v1.04h-1.04zM38 25h1.04v1.04h-1.04zM6 32h1.04v1.04h-1.04zM17 33h1.04v1.04h-1.04zM42 34h1.04v1.04h-1.04zM39 35h1.04v1.04h-1.04zM35 38h1.04v1.04h-1.04zM0 40h1.04v1.04h-1.04zM32 43h1.04v1.04h-1.04zM39 43h1.04v1.04h-1.04z"/><path fill="#264ace" d="M43 6h1.04v1.04h-1.04zM48 19h1.04v1.04h-1.04z"/><path fill="#1c58da" d="M45 6h1.04v1.04h-1.04zM31 11h1.04v1.04h-1.04z"/><path fill="#363ab4" d="M3 7h1.04v1.04h-1.04zM43 13h1.04v1.04h-1.04zM43 36h1.04v1.04h-1.04zM14 46h1.04v1.04h-1.04z"/><path fill="#60dc2e" d="M10 7h1.04v1.04h-1.04zM23 18h1.04v1.04h-1.04zM29 19h1.04v1.04h-1.04z"/><path fill="#24cf3d" d="M11 7h1.04v1.04h-1.04zM27 10h1.04v1.04h-1.04zM38 42h1.04v1.04h-1.04z"/><path fill="#76de2f" d="M12 7h1.04v1.04h-1.04zM23 15h1.04v1.04h-1.04z"/><path fill="#97e230" d="M13 7h1.04v1.04h-1.04zM19 28h1.04v1.04h-1.04z"/><path fill="#6fdd2f" d="M14 7h1.04v1.04h-1.04zM14 24h1.04v1.04h-1.04zM10 26h1.04v1.04h-1.04z"/><path fill="#d5e530" d="M15 7h1.04v1.04h-1.04zM16 7h1.04v1.04h-1.04zM24 16h1.04v1.04h-1.04z"/><path fill="#f1bc40" d="M18 7h1.04v1.04h-1.04z"/><path fill="#26d334" d="M22 7h1.04v1.04h-1.04zM5 21h1.04v1.04h-1.04zM16 25h1.04v1.04h-1.04z"/><path fill="#9ce330" d="M23 7h1.04v1.04h-1.04z"/><path fill="#10adc7" d="M32 7h1.04v1.04h-1.04z"/><path fill="#1366de" d="M34 7h1.04v1.04h-1.04zM45 26h1.04v1.04h-1.04zM25 34h1.04v1.04h-1.04z"/><path fill="#1087d8" d="M41 7h1.04v1.04h-1.04zM42 22h1.04v1.04h-1.04zM9 31h1.04v1.04h-1.04zM10 33h1.04v1.04h-1.04zM46 34h1.04v1.04h-1.04zM41 36h1.04v1.04h-1.04zM19 37h1.04v1.04h-1.04zM16 39h1.04v1.04h-1.04zM41 39h1.04v1.04h-1.04zM12 42h1.04v1.04h-1.04z"/><path fill="#0f6ee0" d="M45 7h1.04v1.04h-1.04zM47 10h1.04v1.04h-1.04zM0 11h1.04v1.04h-1.04zM46 30h1.04v1.04h-1.04z"/><path fill="#1084d9" d="M0 8h1.04v1.04h-1.04zM6 9h1.04v1.04h-1.04zM40 23h1.04v1.04h-1.04zM35 29h1.04v1.04h-1.04zM39 31h1.04v1.04h-1.04zM46 31h1.04v1.04h-1.04zM39 33h1.04v1.04h-1.04zM20 34h1.04v1.04h-1.04zM27 36h1.04v1.04h-1.04zM32 37h1.04v1.04h-1.04zM35 40h1.04v1.04h-1.04zM31 43h1.04v1.04h-1.04z"/><path fill="#12c19d" d="M3 8h1.04v1.04h-1.04zM20 31h1.04v1.04h-1.04zM29 31h1.04v1.04h-1.04z"/><path fill="#20c84f" d="M4 8h1.04v1.04h-1.04zM14 15h1.04v1.04h-1.04zM19 34h1.04v1.04h-1.04z"/><path fill="#19c477" d="M5 8h1.04v1.04h-1.04zM25 10h1.04v1.04h-1.04zM7 21h1.04v1.04h-1.04zM26 40h1.04v1.04h-1.04z"/><path fill="#10c0a6" d="M6 8h1.04v1.04h-1.04zM23 10h1.04v1.04h-1.04zM23 32h1.04v1.04h-1.04zM5 43h1.04v1.04h-1.04z"/><path fill="#1dc75f" d="M8 8h1.04v1.04h-1.04zM10 12h1.04v1.04h-1.04z"/><path fill="#8de130" d="M9 8h1.04v1.04h-1.04zM10 9h1.04v1.04h-1.04zM21 17h1.04v1.04h-1.04zM10 21h1.04v1.04h-1.04z"/><path fill="#3ad82d" d="M10 8h1.04v1.04h-1.04z"/><path fill="#12c19b" d="M11 8h1.04v1.04h-1.04zM14 28h1.04v1.04h-1.04zM18 28h1.04v1.04h-1.04zM15 35h1.04v1.04h-1.04z"/><path fill="#4fda2e" d="M12 8h1.04v1.04h-1.04z"/><path fill="#a1e330" d="M14 8h1.04v1.04h-1.04z"/><path fill="#f0d536" d="M17 8h1.04v1.04h-1.04z"/><path fill="#bce630" d="M18 8h1.04v1.04h-1.04z"/><path fill="#1ac572" d="M19 8h1.04v1.04h-1.04zM22 27h1.04v1.04h-1.04zM16 29h1.04v1.04h-1.04z"/><path fill="#f2b840" d="M21 8h1.04v1.04h-1.04zM11 20h1.04v1.04h-1.04z"/><path fill="#f0dd31" d="M23 8h1.04v1.04h-1.04z"/><path fill="#1dc663" d="M24 8h1.04v1.04h-1.04zM9 9h1.04v1.04h-1.04zM12 26h1.04v1.04h-1.04zM23 31h1.04v1.04h-1.04z"/><path fill="#6edd2f" d="M28 8h1.04v1.04h-1.04zM19 20h1.04v1.04h-1.04zM19 22h1.04v1.04h-1.04z"/><path fill="#10aac8" d="M31 8h1.04v1.04h-1.04zM23 13h1.04v1.04h-1.04zM17 19h1.04v1.04h-1.04zM20 20h1.04v1.04h-1.04zM35 20h1.04v1.04h-1.04zM28 22h1.04v1.04h-1.04zM19 25h1.04v1.04h-1.04zM30 25h1.04v1.04h-1.04zM31 36h1.04v1.04h-1.04z"/><path fill="#108dd6" d="M32 8h1.04v1.04h-1.04zM39 16h1.04v1.04h-1.04zM41 17h1.04v1.04h-1.04zM32 19h1.04v1.04h-1.04zM45 20h1.04v1.04h-1.04zM27 22h1.04v1.04h-1.04zM33 23h1.04v1.04h-1.04zM34 23h1.04v1.04h-1.04zM47 23h1.04v1.04h-1.04zM43 29h1.04v1.04h-1.04zM3 39h1.04v1.04h-1.04zM12 39h1.04v1.04h-1.04zM41 40h1.04v1.04h-1.04zM39 41h1.04v1.04h-1.04zM17 43h1.04v1.04h-1.04z"/><path fill="#0f7bdc" d="M35 8h1.04v1.04h-1.04zM1 9h1.04v1.04h-1.04zM10 28h1.04v1.04h-1.04zM40 36h1.04v1.04h-1.04zM38 40h1.04v1.04h-1.04zM15 43h1.04v1.04h-1.04z"/><path fill="#10c0b2" d="M38 8h1.04v1.04h-1.04zM24 17h1.04v1.04h-1.04zM30 20h1.04v1.04h-1.04zM7 27h1.04v1.04h-1.04zM9 27h1.04v1.04h-1.04zM13 34h1.04v1.04h-1.04z"/><path fill="#10c0ae" d="M39 8h1.04v1.04h-1.04zM20 29h1.04v1.04h-1.04zM39 34h1.04v1.04h-1.04z"/><path fill="#1080db" d="M40 8h1.04v1.04h-1.04zM43 19h1.04v1.04h-1.04zM45 27h1.04v1.04h-1.04zM42 42h1.04v1.04h-1.04zM10 47h1.04v1.04h-1.04z"/><path fill="#254bcf" d="M47 8h1.04v1.04h-1.04z"/><path fill="#38d82d" d="M2 9h1.04v1.04h-1.04zM11 12h1.04v1.04h-1.04zM19 27h1.04v1.04h-1.04z"/><path fill="#10c0a7" d="M4 9h1.04v1.04h-1.04zM8 37h1.04v1.04h-1.04z"/><path fill="#ace430" d="M11 9h1.04v1.04h-1.04z"/><path fill="#17c384" d="M12 9h1.04v1.04h-1.04zM22 30h1.04v1.04h-1.04z"/><path fill="#f6b039" d="M14 9h1.04v1.04h-1.04z"/><path fill="#cfe730" d="M15 9h1.04v1.04h-1.04zM12 17h1.04v1.04h-1.04zM9 22h1.04v1.04h-1.04zM8 23h1.04v1.04h-1.04zM1 28h1.04v1.04h-1.04z"/><path fill="#c5e830" d="M16 9h1.04v1.04h-1.04z"/><path fill="#f6b337" d="M17 9h1.04v1.04h-1.04z"/><path fill="#71de2f" d="M19 9h1.04v1.04h-1.04zM9 19h1.04v1.04h-1.04zM14 20h1.04v1.04h-1.04z"/><path fill="#abe430" d="M20 9h1.04v1.04h-1.04z"/><path fill="#69dd2f" d="M22 9h1.04v1.04h-1.04zM31 17h1.04v1.04h-1.04zM2 28h1.04v1.04h-1.04z"/><path fill="#1fc854" d="M23 9h1.04v1.04h-1.04zM14 29h1.04v1.04h-1.04z"/><path fill="#27d430" d="M25 9h1.04v1.04h-1.04zM9 25h1.04v1.04h-1.04zM11 31h1.04v1.04h-1.04z"/><path fill="#15c28f" d="M26 9h1.04v1.04h-1.04zM3 15h1.04v1.04h-1.04zM21 22h1.04v1.04h-1.04zM4 25h1.04v1.04h-1.04z"/><path fill="#26d235" d="M27 9h1.04v1.04h-1.04zM6 28h1.04v1.04h-1.04zM13 28h1.04v1.04h-1.04z"/><path fill="#2cd62c" d="M29 9h1.04v1.04h-1.04zM20 10h1.04v1.04h-1.04zM19 17h1.04v1.04h-1.04z"/><path fill="#18c47b" d="M31 9h1.04v1.04h-1.04zM7 14h1.04v1.04h-1.04z"/><path fill="#20c94e" d="M34 9h1.04v1.04h-1.04zM5 15h1.04v1.04h-1.04zM1 25h1.04v1.04h-1.04zM22 26h1.04v1.04h-1.04zM0 28h1.04v1.04h-1.04zM8 29h1.04v1.04h-1.04zM21 29h1.04v1.04h-1.04zM1 30h1.04v1.04h-1.04z"/><path fill="#14c291" d="M38 9h1.04v1.04h-1.04zM28 20h1.04v1.04h-1.04zM32 25h1.04v1.04h-1.04z"/><path fill="#2848cb" d="M43 9h1.04v1.04h-1.04zM44 17h1.04v1.04h-1.04zM36 25h1.04v1.04h-1.04zM19 50h1.04v1.04h-1.04z"/><path fill="#1368de" d="M46 9h1.04v1.04h-1.04z"/><path fill="#10a9c8" d="M0 10h1.04v1.04h-1.04zM26 26h1.04v1.04h-1.04z"/><path fill="#10a4cc" d="M2 10h1.04v1.04h-1.04zM19 39h1.04v1.04h-1.04zM2 43h1.04v1.04h-1.04z"/><path fill="#17c383" d="M3 10h1.04v1.04h-1.04zM35 10h1.04v1.04h-1.04z"/><path fill="#14c293" d="M4 10h1.04v1.04h-1.04z"/><path fill="#1ac574" d="M8 10h1.04v1.04h-1.04z"/><path fill="#14c295" d="M10 10h1.04v1.04h-1.04zM35 24h1.04v1.04h-1.04z"/><path fill="#9fe330" d="M11 10h1.04v1.04h-1.04z"/><path fill="#f0cd39" d="M12 10h1.04v1.04h-1.04z"/><path fill="#58db2e" d="M16 10h1.04v1.04h-1.04zM11 14h1.04v1.04h-1.04zM6 23h1.04v1.04h-1.04z"/><path fill="#9ee330" d="M17 10h1.04v1.04h-1.04z"/><path fill="#28d62d" d="M18 10h1.04v1.04h-1.04zM5 23h1.04v1.04h-1.04zM0 24h1.04v1.04h-1.04zM14 27h1.04v1.04h-1.04z"/><path fill="#16c385" d="M36 10h1.04v1.04h-1.04zM25 12h1.04v1.04h-1.04zM21 24h1.04v1.04h-1.04zM29 24h1.04v1.04h-1.04z"/><path fill="#108ed6" d="M42 10h1.04v1.04h-1.04zM40 12h1.04v1.04h-1.04zM43 17h1.04v1.04h-1.04zM32 26h1.04v1.04h-1.04zM40 29h1.04v1.04h-1.04zM28 30h1.04v1.04h-1.04zM47 31h1.04v1.04h-1.04zM24 32h1.04v1.04h-1.04zM29 35h1.04v1.04h-1.04zM25 38h1.04v1.04h-1.04zM29 40h1.04v1.04h-1.04zM33 44h1.04v1.04h-1.04z"/><path fill="#1661dd" d="M44 10h1.04v1.04h-1.04zM44 26h1.04v1.04h-1.04zM40 32h1.04v1.04h-1.04zM28 35h1.04v1.04h-1.04zM23 37h1.04v1.04h-1.04z"/><path fill="#14c28f" d="M6 11h1.04v1.04h-1.04z"/><path fill="#51da2e" d="M9 11h1.04v1.04h-1.04zM7 16h1.04v1.04h-1.04z"/><path fill="#f2b740" d="M10 11h1.04v1.04h-1.04z"/><path fill="#3bd82d" d="M11 11h1.04v1.04h-1.04z"/><path fill="#f0d237" d="M12 11h1.04v1.04h-1.04z"/><path fill="#92e130" d="M13 11h1.04v1.04h-1.04z"/><path fill="#7bdf2f" d="M15 11h1.04v1.04h-1.04zM11 17h1.04v1.04h-1.04zM11 28h1.04v1.04h-1.04z"/><path fill="#f5a93f" d="M17 11h1.04v1.04h-1.04z"/><path fill="#f0ce39" d="M19 11h1.04v1.04h-1.04z"/><path fill="#64dc2f" d="M20 11h1.04v1.04h-1.04zM16 16h1.04v1.04h-1.04z"/><path fill="#3ed82d" d="M22 11h1.04v1.04h-1.04zM8 22h1.04v1.04h-1.04zM23 26h1.04v1.04h-1.04z"/><path fill="#afe530" d="M23 11h1.04v1.04h-1.04z"/><path fill="#13c19a" d="M24 11h1.04v1.04h-1.04z"/><path fill="#70dd2f" d="M25 11h1.04v1.04h-1.04z"/><path fill="#20c851" d="M27 11h1.04v1.04h-1.04z"/><path fill="#19c576" d="M29 11h1.04v1.04h-1.04zM24 23h1.04v1.04h-1.04zM0 26h1.04v1.04h-1.04zM5 30h1.04v1.04h-1.04z"/><path fill="#11c1a2" d="M39 11h1.04v1.04h-1.04zM23 30h1.04v1.04h-1.04z"/><path fill="#1b59da" d="M40 11h1.04v1.04h-1.04zM45 15h1.04v1.04h-1.04z"/><path fill="#363098" d="M43 11h1.04v1.04h-1.04z"/><path fill="#10c0bd" d="M1 12h1.04v1.04h-1.04zM33 13h1.04v1.04h-1.04zM18 15h1.04v1.04h-1.04zM0 33h1.04v1.04h-1.04z"/><path fill="#2fd72c" d="M2 12h1.04v1.04h-1.04zM1 17h1.04v1.04h-1.04zM29 17h1.04v1.04h-1.04z"/><path fill="#4ada2d" d="M4 12h1.04v1.04h-1.04zM31 12h1.04v1.04h-1.04zM6 14h1.04v1.04h-1.04zM22 17h1.04v1.04h-1.04z"/><path fill="#10b3c5" d="M5 12h1.04v1.04h-1.04z"/><path fill="#10bac2" d="M6 12h1.04v1.04h-1.04zM37 29h1.04v1.04h-1.04zM1 32h1.04v1.04h-1.04zM21 32h1.04v1.04h-1.04zM2 37h1.04v1.04h-1.04z"/><path fill="#54db2e" d="M9 12h1.04v1.04h-1.04zM16 18h1.04v1.04h-1.04zM24 18h1.04v1.04h-1.04z"/><path fill="#1bc66a" d="M12 12h1.04v1.04h-1.04zM24 13h1.04v1.04h-1.04zM3 31h1.04v1.04h-1.04z"/><path fill="#f5aa3f" d="M13 12h1.04v1.04h-1.04z"/><path fill="#82df30" d="M15 12h1.04v1.04h-1.04z"/><path fill="#96e230" d="M16 12h1.04v1.04h-1.04zM18 31h1.04v1.04h-1.04z"/><path fill="#f7c02d" d="M17 12h1.04v1.04h-1.04z"/><path fill="#55db2e" d="M19 12h1.04v1.04h-1.04zM17 14h1.04v1.04h-1.04zM8 15h1.04v1.04h-1.04zM12 16h1.04v1.04h-1.04zM16 17h1.04v1.04h-1.04z"/><path fill="#25d03c" d="M20 12h1.04v1.04h-1.04zM26 18h1.04v1.04h-1.04zM8 19h1.04v1.04h-1.04zM3 35h1.04v1.04h-1.04z"/><path fill="#16c387" d="M23 12h1.04v1.04h-1.04zM6 19h1.04v1.04h-1.04zM1 24h1.04v1.04h-1.04zM21 34h1.04v1.04h-1.04z"/><path fill="#11c0a4" d="M27 12h1.04v1.04h-1.04z"/><path fill="#10c0ba" d="M30 12h1.04v1.04h-1.04zM27 24h1.04v1.04h-1.04zM32 36h1.04v1.04h-1.04z"/><path fill="#2947c9" d="M35 12h1.04v1.04h-1.04zM42 33h1.04v1.04h-1.04zM48 33h1.04v1.04h-1.04z"/><path fill="#2050d7" d="M36 12h1.04v1.04h-1.04zM34 37h1.04v1.04h-1.04zM33 38h1.04v1.04h-1.04z"/><path fill="#106cdf" d="M37 12h1.04v1.04h-1.04zM46 22h1.04v1.04h-1.04zM33 34h1.04v1.04h-1.04z"/><path fill="#31d72c" d="M3 13h1.04v1.04h-1.04z"/><path fill="#1bc56d" d="M6 13h1.04v1.04h-1.04zM31 15h1.04v1.04h-1.04zM1 18h1.04v1.04h-1.04zM34 18h1.04v1.04h-1.04z"/><path fill="#72de2f" d="M11 13h1.04v1.04h-1.04z"/><path fill="#10c0c0" d="M12 13h1.04v1.04h-1.04zM35 18h1.04v1.04h-1.04z"/><path fill="#30d72c" d="M13 13h1.04v1.04h-1.04zM25 33h1.04v1.04h-1.04z"/><path fill="#dfe330" d="M15 13h1.04v1.04h-1.04z"/><path fill="#24d03c" d="M16 13h1.04v1.04h-1.04zM14 16h1.04v1.04h-1.04zM2 22h1.04v1.04h-1.04zM22 38h1.04v1.04h-1.04z"/><path fill="#f8d71d" d="M17 13h1.04v1.04h-1.04z"/><path fill="#1fc757" d="M19 13h1.04v1.04h-1.04zM0 38h1.04v1.04h-1.04zM2 45h1.04v1.04h-1.04z"/><path fill="#d7e530" d="M20 13h1.04v1.04h-1.04zM6 20h1.04v1.04h-1.04z"/><path fill="#c6e830" d="M21 13h1.04v1.04h-1.04z"/><path fill="#1dc662" d="M22 13h1.04v1.04h-1.04zM23 14h1.04v1.04h-1.04zM34 38h1.04v1.04h-1.04z"/><path fill="#10c0aa" d="M28 13h1.04v1.04h-1.04zM20 26h1.04v1.04h-1.04z"/><path fill="#10a2cf" d="M31 13h1.04v1.04h-1.04zM37 14h1.04v1.04h-1.04zM23 23h1.04v1.04h-1.04zM37 24h1.04v1.04h-1.04zM35 25h1.04v1.04h-1.04zM40 25h1.04v1.04h-1.04zM13 29h1.04v1.04h-1.04z"/><path fill="#10c0b3" d="M32 13h1.04v1.04h-1.04zM25 28h1.04v1.04h-1.04zM21 33h1.04v1.04h-1.04zM0 35h1.04v1.04h-1.04z"/><path fill="#10c0b6" d="M39 13h1.04v1.04h-1.04z"/><path fill="#107bdc" d="M40 13h1.04v1.04h-1.04zM46 15h1.04v1.04h-1.04zM41 25h1.04v1.04h-1.04z"/><path fill="#363ab3" d="M41 13h1.04v1.04h-1.04zM39 19h1.04v1.04h-1.04zM42 32h1.04v1.04h-1.04zM12 41h1.04v1.04h-1.04z"/><path fill="#254bd0" d="M44 13h1.04v1.04h-1.04zM48 24h1.04v1.04h-1.04zM41 26h1.04v1.04h-1.04zM46 35h1.04v1.04h-1.04z"/><path fill="#0f74de" d="M45 13h1.04v1.04h-1.04zM40 14h1.04v1.04h-1.04zM36 22h1.04v1.04h-1.04zM37 26h1.04v1.04h-1.04zM46 26h1.04v1.04h-1.04zM42 29h1.04v1.04h-1.04zM41 32h1.04v1.04h-1.04zM10 38h1.04v1.04h-1.04zM18 38h1.04v1.04h-1.04zM35 39h1.04v1.04h-1.04zM37 40h1.04v1.04h-1.04zM25 41h1.04v1.04h-1.04zM32 41h1.04v1.04h-1.04zM17 46h1.04v1.04h-1.04zM7 47h1.04v1.04h-1.04z"/><path fill="#234dd3" d="M46 13h1.04v1.04h-1.04zM8 43h1.04v1.04h-1.04zM34 45h1.04v1.04h-1.04z"/><path fill="#17c480" d="M3 14h1.04v1.04h-1.04zM33 17h1.04v1.04h-1.04zM3 20h1.04v1.04h-1.04zM34 24h1.04v1.04h-1.04zM15 30h1.04v1.04h-1.04z"/><path fill="#91e130" d="M8 14h1.04v1.04h-1.04z"/><path fill="#aae430" d="M9 14h1.04v1.04h-1.04zM20 14h1.04v1.04h-1.04z"/><path fill="#eae130" d="M12 14h1.04v1.04h-1.04zM13 18h1.04v1.04h-1.04z"/><path fill="#f0cd3a" d="M13 14h1.04v1.04h-1.04zM9 23h1.04v1.04h-1.04z"/><path fill="#f5a840" d="M15 14h1.04v1.04h-1.04z"/><path fill="#53db2e" d="M18 14h1.04v1.04h-1.04z"/><path fill="#f6b238" d="M19 14h1.04v1.04h-1.04z"/><path fill="#10bdc1" d="M25 14h1.04v1.04h-1.04z"/><path fill="#0f73de" d="M41 14h1.04v1.04h-1.04zM44 20h1.04v1.04h-1.04zM9 45h1.04v1.04h-1.04zM10 46h1.04v1.04h-1.04z"/><path fill="#3739b2" d="M46 14h1.04v1.04h-1.04zM42 15h1.04v1.04h-1.04zM19 40h1.04v1.04h-1.04zM17 44h1.04v1.04h-1.04zM18 48h1.04v1.04h-1.04z"/><path fill="#2050d8" d="M48 14h1.04v1.04h-1.04zM7 37h1.04v1.04h-1.04z"/><path fill="#353bb5" d="M49 14h1.04v1.04h-1.04zM38 35h1.04v1.04h-1.04zM13 42h1.04v1.04h-1.04z"/><path fill="#6cdd2f" d="M2 15h1.04v1.04h-1.04zM13 16h1.04v1.04h-1.04zM0 27h1.04v1.04h-1.04z"/><path fill="#e2e330" d="M4 15h1.04v1.04h-1.04z"/><path fill="#1fc758" d="M11 15h1.04v1.04h-1.04zM8 26h1.04v1.04h-1.04zM15 27h1.04v1.04h-1.04zM27 29h1.04v1.04h-1.04zM11 33h1.04v1.04h-1.04z"/><path fill="#10bcc1" d="M12 15h1.04v1.04h-1.04zM5 24h1.04v1.04h-1.04z"/><path fill="#1cc667" d="M13 15h1.04v1.04h-1.04z"/><path fill="#99e230" d="M16 15h1.04v1.04h-1.04z"/><path fill="#27d52f" d="M17 15h1.04v1.04h-1.04zM17 18h1.04v1.04h-1.04zM20 23h1.04v1.04h-1.04z"/><path fill="#f8d120" d="M19 15h1.04v1.04h-1.04z"/><path fill="#9ce230" d="M22 15h1.04v1.04h-1.04z"/><path fill="#107fdb" d="M32 15h1.04v1.04h-1.04zM6 22h1.04v1.04h-1.04zM48 29h1.04v1.04h-1.04zM46 33h1.04v1.04h-1.04zM33 39h1.04v1.04h-1.04zM8 40h1.04v1.04h-1.04zM40 41h1.04v1.04h-1.04z"/><path fill="#17c382" d="M36 15h1.04v1.04h-1.04zM35 22h1.04v1.04h-1.04zM25 37h1.04v1.04h-1.04z"/><path fill="#3734a5" d="M43 15h1.04v1.04h-1.04zM39 27h1.04v1.04h-1.04zM34 44h1.04v1.04h-1.04z"/><path fill="#244cd1" d="M44 15h1.04v1.04h-1.04zM38 22h1.04v1.04h-1.04zM9 43h1.04v1.04h-1.04z"/><path fill="#14c292" d="M0 16h1.04v1.04h-1.04zM0 30h1.04v1.04h-1.04z"/><path fill="#12c1a0" d="M2 16h1.04v1.04h-1.04z"/><path fill="#f8d31f" d="M5 16h1.04v1.04h-1.04z"/><path fill="#c1e730" d="M6 16h1.04v1.04h-1.04zM23 17h1.04v1.04h-1.04z"/><path fill="#cee730" d="M8 16h1.04v1.04h-1.04zM14 18h1.04v1.04h-1.04zM13 32h1.04v1.04h-1.04z"/><path fill="#85e030" d="M9 16h1.04v1.04h-1.04z"/><path fill="#1ec75b" d="M15 16h1.04v1.04h-1.04zM25 20h1.04v1.04h-1.04z"/><path fill="#d3e630" d="M17 16h1.04v1.04h-1.04zM15 21h1.04v1.04h-1.04z"/><path fill="#7fdf30" d="M19 16h1.04v1.04h-1.04z"/><path fill="#75de2f" d="M20 16h1.04v1.04h-1.04z"/><path fill="#f7c926" d="M21 16h1.04v1.04h-1.04z"/><path fill="#2dd72c" d="M22 16h1.04v1.04h-1.04z"/><path fill="#78de2f" d="M23 16h1.04v1.04h-1.04zM7 23h1.04v1.04h-1.04zM2 24h1.04v1.04h-1.04zM2 27h1.04v1.04h-1.04z"/><path fill="#1dc75e" d="M25 16h1.04v1.04h-1.04zM1 29h1.04v1.04h-1.04z"/><path fill="#1bc66b" d="M26 16h1.04v1.04h-1.04zM19 31h1.04v1.04h-1.04z"/><path fill="#27d333" d="M28 16h1.04v1.04h-1.04z"/><path fill="#1ac570" d="M33 16h1.04v1.04h-1.04zM29 18h1.04v1.04h-1.04z"/><path fill="#2c44c5" d="M37 16h1.04v1.04h-1.04z"/><path fill="#0f70df" d="M38 16h1.04v1.04h-1.04zM40 16h1.04v1.04h-1.04zM43 25h1.04v1.04h-1.04zM37 39h1.04v1.04h-1.04zM14 40h1.04v1.04h-1.04zM34 40h1.04v1.04h-1.04zM43 40h1.04v1.04h-1.04zM16 44h1.04v1.04h-1.04zM35 44h1.04v1.04h-1.04zM34 46h1.04v1.04h-1.04zM12 48h1.04v1.04h-1.04zM17 49h1.04v1.04h-1.04z"/><path fill="#333db9" d="M42 16h1.04v1.04h-1.04zM17 48h1.04v1.04h-1.04z"/><path fill="#1c56da" d="M48 16h1.04v1.04h-1.04z"/><path fill="#25d138" d="M2 17h1.04v1.04h-1.04zM18 30h1.04v1.04h-1.04z"/><path fill="#5edc2e" d="M3 17h1.04v1.04h-1.04zM4 18h1.04v1.04h-1.04z"/><path fill="#44d92d" d="M4 17h1.04v1.04h-1.04z"/><path fill="#f8d91c" d="M5 17h1.04v1.04h-1.04z"/><path fill="#39d82d" d="M6 17h1.04v1.04h-1.04zM20 18h1.04v1.04h-1.04z"/><path fill="#7edf30" d="M8 17h1.04v1.04h-1.04zM9 21h1.04v1.04h-1.04z"/><path fill="#4dda2e" d="M14 17h1.04v1.04h-1.04z"/><path fill="#18c47a" d="M15 17h1.04v1.04h-1.04zM11 23h1.04v1.04h-1.04zM0 36h1.04v1.04h-1.04zM0 37h1.04v1.04h-1.04z"/><path fill="#16c388" d="M17 17h1.04v1.04h-1.04zM21 21h1.04v1.04h-1.04z"/><path fill="#1bc669" d="M18 17h1.04v1.04h-1.04z"/><path fill="#1097d3" d="M38 17h1.04v1.04h-1.04zM30 18h1.04v1.04h-1.04zM34 20h1.04v1.04h-1.04zM41 30h1.04v1.04h-1.04zM24 37h1.04v1.04h-1.04zM30 37h1.04v1.04h-1.04zM34 41h1.04v1.04h-1.04zM35 41h1.04v1.04h-1.04zM14 49h1.04v1.04h-1.04z"/><path fill="#1564dd" d="M39 17h1.04v1.04h-1.04zM14 36h1.04v1.04h-1.04z"/><path fill="#3736a9" d="M46 17h1.04v1.04h-1.04z"/><path fill="#a9e430" d="M19 18h1.04v1.04h-1.04z"/><path fill="#10bbc2" d="M32 18h1.04v1.04h-1.04zM9 33h1.04v1.04h-1.04z"/><path fill="#21cb49" d="M33 18h1.04v1.04h-1.04zM19 19h1.04v1.04h-1.04zM22 24h1.04v1.04h-1.04z"/><path fill="#10b5c4" d="M40 18h1.04v1.04h-1.04zM32 31h1.04v1.04h-1.04z"/><path fill="#0f72df" d="M42 18h1.04v1.04h-1.04zM21 26h1.04v1.04h-1.04zM45 28h1.04v1.04h-1.04zM45 31h1.04v1.04h-1.04zM26 34h1.04v1.04h-1.04zM9 40h1.04v1.04h-1.04zM9 42h1.04v1.04h-1.04z"/><path fill="#116adf" d="M47 18h1.04v1.04h-1.04zM16 42h1.04v1.04h-1.04zM13 46h1.04v1.04h-1.04zM16 47h1.04v1.04h-1.04z"/><path fill="#362d8f" d="M48 18h1.04v1.04h-1.04zM37 32h1.04v1.04h-1.04zM12 46h1.04v1.04h-1.04z"/><path fill="#f2b440" d="M0 19h1.04v1.04h-1.04z"/><path fill="#c4e830" d="M3 19h1.04v1.04h-1.04z"/><path fill="#89e030" d="M5 19h1.04v1.04h-1.04zM9 24h1.04v1.04h-1.04zM4 27h1.04v1.04h-1.04z"/><path fill="#19c575" d="M11 19h1.04v1.04h-1.04zM5 32h1.04v1.04h-1.04zM18 33h1.04v1.04h-1.04z"/><path fill="#13c296" d="M12 19h1.04v1.04h-1.04zM0 34h1.04v1.04h-1.04zM27 34h1.04v1.04h-1.04zM2 38h1.04v1.04h-1.04z"/><path fill="#25d237" d="M13 19h1.04v1.04h-1.04z"/><path fill="#e6e230" d="M14 19h1.04v1.04h-1.04z"/><path fill="#b4e530" d="M15 19h1.04v1.04h-1.04z"/><path fill="#9de330" d="M16 19h1.04v1.04h-1.04zM10 22h1.04v1.04h-1.04z"/><path fill="#29d62c" d="M22 19h1.04v1.04h-1.04z"/><path fill="#1ec75d" d="M26 19h1.04v1.04h-1.04zM17 29h1.04v1.04h-1.04z"/><path fill="#10aec6" d="M28 19h1.04v1.04h-1.04z"/><path fill="#1cc668" d="M41 19h1.04v1.04h-1.04zM8 21h1.04v1.04h-1.04zM1 31h1.04v1.04h-1.04z"/><path fill="#f6bc30" d="M2 20h1.04v1.04h-1.04z"/><path fill="#10c0af" d="M4 20h1.04v1.04h-1.04zM26 23h1.04v1.04h-1.04zM13 25h1.04v1.04h-1.04zM33 25h1.04v1.04h-1.04z"/><path fill="#3cd82d" d="M5 20h1.04v1.04h-1.04zM37 41h1.04v1.04h-1.04z"/><path fill="#b0e530" d="M8 20h1.04v1.04h-1.04z"/><path fill="#19c574" d="M10 20h1.04v1.04h-1.04zM23 22h1.04v1.04h-1.04zM22 29h1.04v1.04h-1.04zM6 45h1.04v1.04h-1.04z"/><path fill="#f6ba31" d="M12 20h1.04v1.04h-1.04z"/><path fill="#f7c925" d="M13 20h1.04v1.04h-1.04z"/><path fill="#24d03d" d="M15 20h1.04v1.04h-1.04z"/><path fill="#4eda2e" d="M17 20h1.04v1.04h-1.04zM15 29h1.04v1.04h-1.04z"/><path fill="#9be230" d="M18 20h1.04v1.04h-1.04z"/><path fill="#25d03a" d="M26 20h1.04v1.04h-1.04zM4 42h1.04v1.04h-1.04z"/><path fill="#19c479" d="M27 20h1.04v1.04h-1.04zM21 28h1.04v1.04h-1.04zM23 35h1.04v1.04h-1.04z"/><path fill="#37319c" d="M41 20h1.04v1.04h-1.04z"/><path fill="#10b6c4" d="M42 20h1.04v1.04h-1.04zM3 33h1.04v1.04h-1.04z"/><path fill="#3733a1" d="M43 20h1.04v1.04h-1.04z"/><path fill="#f8e417" d="M0 21h1.04v1.04h-1.04z"/><path fill="#b4e630" d="M6 21h1.04v1.04h-1.04z"/><path fill="#f7c728" d="M11 21h1.04v1.04h-1.04z"/><path fill="#a4e430" d="M14 21h1.04v1.04h-1.04z"/><path fill="#86e030" d="M16 21h1.04v1.04h-1.04z"/><path fill="#59db2e" d="M18 21h1.04v1.04h-1.04z"/><path fill="#aee530" d="M22 21h1.04v1.04h-1.04z"/><path fill="#2ed72c" d="M23 21h1.04v1.04h-1.04zM13 23h1.04v1.04h-1.04z"/><path fill="#56db2e" d="M24 21h1.04v1.04h-1.04z"/><path fill="#16c386" d="M25 21h1.04v1.04h-1.04zM23 29h1.04v1.04h-1.04zM21 37h1.04v1.04h-1.04z"/><path fill="#11c1a0" d="M27 21h1.04v1.04h-1.04z"/><path fill="#1c57da" d="M41 21h1.04v1.04h-1.04z"/><path fill="#116bdf" d="M42 21h1.04v1.04h-1.04zM42 41h1.04v1.04h-1.04z"/><path fill="#1cc666" d="M1 22h1.04v1.04h-1.04zM5 26h1.04v1.04h-1.04zM33 26h1.04v1.04h-1.04z"/><path fill="#35d72d" d="M3 22h1.04v1.04h-1.04z"/><path fill="#88e030" d="M4 22h1.04v1.04h-1.04z"/><path fill="#f8d81c" d="M11 22h1.04v1.04h-1.04z"/><path fill="#f5ab3d" d="M12 22h1.04v1.04h-1.04z"/><path fill="#f6b535" d="M13 22h1.04v1.04h-1.04z"/><path fill="#f1bd40" d="M14 22h1.04v1.04h-1.04z"/><path fill="#16c384" d="M25 22h1.04v1.04h-1.04z"/><path fill="#10c0b8" d="M31 22h1.04v1.04h-1.04zM26 25h1.04v1.04h-1.04zM29 36h1.04v1.04h-1.04zM27 37h1.04v1.04h-1.04z"/><path fill="#195ddc" d="M41 22h1.04v1.04h-1.04zM42 31h1.04v1.04h-1.04z"/><path fill="#2848ca" d="M44 22h1.04v1.04h-1.04zM41 23h1.04v1.04h-1.04z"/><path fill="#1a5adb" d="M48 22h1.04v1.04h-1.04zM46 23h1.04v1.04h-1.04zM13 41h1.04v1.04h-1.04z"/><path fill="#f1ba40" d="M1 23h1.04v1.04h-1.04z"/><path fill="#46d92d" d="M4 23h1.04v1.04h-1.04z"/><path fill="#cde730" d="M14 23h1.04v1.04h-1.04z"/><path fill="#73de2f" d="M16 23h1.04v1.04h-1.04z"/><path fill="#10c0b9" d="M25 23h1.04v1.04h-1.04z"/><path fill="#362d91" d="M36 23h1.04v1.04h-1.04zM18 39h1.04v1.04h-1.04z"/><path fill="#2c44c4" d="M39 23h1.04v1.04h-1.04zM48 27h1.04v1.04h-1.04zM30 45h1.04v1.04h-1.04z"/><path fill="#2749cc" d="M48 23h1.04v1.04h-1.04zM12 43h1.04v1.04h-1.04z"/><path fill="#13c199" d="M3 24h1.04v1.04h-1.04zM5 35h1.04v1.04h-1.04z"/><path fill="#14c290" d="M4 24h1.04v1.04h-1.04z"/><path fill="#5ddb2e" d="M6 24h1.04v1.04h-1.04z"/><path fill="#f5ac3c" d="M10 24h1.04v1.04h-1.04z"/><path fill="#f0bf40" d="M11 24h1.04v1.04h-1.04z"/><path fill="#b1e530" d="M15 24h1.04v1.04h-1.04z"/><path fill="#c3e730" d="M0 25h1.04v1.04h-1.04z"/><path fill="#15c38a" d="M7 25h1.04v1.04h-1.04zM22 33h1.04v1.04h-1.04z"/><path fill="#f5a940" d="M8 25h1.04v1.04h-1.04z"/><path fill="#ebe130" d="M12 25h1.04v1.04h-1.04z"/><path fill="#37d82d" d="M17 25h1.04v1.04h-1.04z"/><path fill="#10c0a9" d="M22 25h1.04v1.04h-1.04z"/><path fill="#37329f" d="M44 25h1.04v1.04h-1.04zM48 32h1.04v1.04h-1.04z"/><path fill="#3739b1" d="M47 25h1.04v1.04h-1.04zM27 40h1.04v1.04h-1.04z"/><path fill="#63dc2e" d="M2 26h1.04v1.04h-1.04z"/><path fill="#47d92d" d="M3 26h1.04v1.04h-1.04zM16 28h1.04v1.04h-1.04z"/><path fill="#b6e630" d="M16 26h1.04v1.04h-1.04z"/><path fill="#83e030" d="M17 26h1.04v1.04h-1.04zM5 31h1.04v1.04h-1.04z"/><path fill="#7cdf2f" d="M18 26h1.04v1.04h-1.04z"/><path fill="#10c0b5" d="M39 26h1.04v1.04h-1.04zM23 34h1.04v1.04h-1.04z"/><path fill="#214fd7" d="M48 26h1.04v1.04h-1.04zM32 40h1.04v1.04h-1.04z"/><path fill="#18c47f" d="M23 27h1.04v1.04h-1.04z"/><path fill="#10b9c2" d="M29 27h1.04v1.04h-1.04z"/><path fill="#224ed4" d="M41 27h1.04v1.04h-1.04z"/><path fill="#bfe730" d="M4 28h1.04v1.04h-1.04z"/><path fill="#10b1c6" d="M26 28h1.04v1.04h-1.04zM14 30h1.04v1.04h-1.04z"/><path fill="#195ddb" d="M39 28h1.04v1.04h-1.04z"/><path fill="#2d43c2" d="M43 28h1.04v1.04h-1.04z"/><path fill="#1ec759" d="M3 29h1.04v1.04h-1.04z"/><path fill="#3fd82d" d="M5 29h1.04v1.04h-1.04z"/><path fill="#4cda2e" d="M6 29h1.04v1.04h-1.04z"/><path fill="#1cc669" d="M24 29h1.04v1.04h-1.04z"/><path fill="#17c481" d="M8 30h1.04v1.04h-1.04z"/><path fill="#10c0a8" d="M17 30h1.04v1.04h-1.04zM7 45h1.04v1.04h-1.04z"/><path fill="#1fc855" d="M21 30h1.04v1.04h-1.04z"/><path fill="#2e42c0" d="M37 30h1.04v1.04h-1.04z"/><path fill="#2d43c3" d="M39 30h1.04v1.04h-1.04z"/><path fill="#1e53d9" d="M47 30h1.04v1.04h-1.04z"/><path fill="#10abc8" d="M17 31h1.04v1.04h-1.04z"/><path fill="#3734a3" d="M48 31h1.04v1.04h-1.04z"/><path fill="#10b9c3" d="M0 32h1.04v1.04h-1.04z"/><path fill="#10acc7" d="M11 32h1.04v1.04h-1.04z"/><path fill="#4cda2d" d="M18 32h1.04v1.04h-1.04z"/><path fill="#1b58da" d="M32 32h1.04v1.04h-1.04zM9 47h1.04v1.04h-1.04z"/><path fill="#264acf" d="M38 32h1.04v1.04h-1.04z"/><path fill="#1083d9" d="M13 33h1.04v1.04h-1.04zM28 42h1.04v1.04h-1.04zM8 44h1.04v1.04h-1.04zM31 44h1.04v1.04h-1.04zM17 47h1.04v1.04h-1.04z"/><path fill="#16c38a" d="M27 33h1.04v1.04h-1.04z"/><path fill="#195cdb" d="M45 33h1.04v1.04h-1.04zM11 36h1.04v1.04h-1.04z"/><path fill="#3733a2" d="M47 33h1.04v1.04h-1.04zM16 48h1.04v1.04h-1.04z"/><path fill="#15c38b" d="M1 34h1.04v1.04h-1.04z"/><path fill="#3735a7" d="M43 34h1.04v1.04h-1.04z"/><path fill="#1ac56f" d="M4 35h1.04v1.04h-1.04z"/><path fill="#107ddc" d="M10 35h1.04v1.04h-1.04zM33 42h1.04v1.04h-1.04zM17 50h1.04v1.04h-1.04z"/><path fill="#20c94f" d="M4 36h1.04v1.04h-1.04z"/><path fill="#16c389" d="M21 36h1.04v1.04h-1.04z"/><path fill="#10b7c3" d="M28 37h1.04v1.04h-1.04z"/><path fill="#264acd" d="M36 37h1.04v1.04h-1.04z"/><path fill="#1bc56e" d="M39 37h1.04v1.04h-1.04z"/><path fill="#3732a0" d="M41 37h1.04v1.04h-1.04z"/><path fill="#323eba" d="M20 38h1.04v1.04h-1.04zM19 41h1.04v1.04h-1.04z"/><path fill="#343cb6" d="M36 38h1.04v1.04h-1.04z"/><path fill="#195bdb" d="M11 39h1.04v1.04h-1.04z"/><path fill="#36309a" d="M10 40h1.04v1.04h-1.04z"/><path fill="#1466de" d="M15 40h1.04v1.04h-1.04z"/><path fill="#1367de" d="M5 41h1.04v1.04h-1.04z"/><path fill="#36319a" d="M10 41h1.04v1.04h-1.04z"/><path fill="#1f51d8" d="M14 41h1.04v1.04h-1.04zM6 46h1.04v1.04h-1.04z"/><path fill="#362d90" d="M7 42h1.04v1.04h-1.04z"/><path fill="#353bb6" d="M10 42h1.04v1.04h-1.04z"/><path fill="#234dd4" d="M17 42h1.04v1.04h-1.04z"/><path fill="#f8de1a" d="M39 42h1.04v1.04h-1.04z"/><path fill="#3734a4" d="M10 43h1.04v1.04h-1.04z"/><path fill="#3735a6" d="M16 43h1.04v1.04h-1.04z"/><path fill="#2947c8" d="M18 43h1.04v1.04h-1.04z"/><path fill="#1465de" d="M40 43h1.04v1.04h-1.04z"/><path fill="#1e54d9" d="M7 44h1.04v1.04h-1.04z"/><path fill="#185edc" d="M30 44h1.04v1.04h-1.04zM1 45h1.04v1.04h-1.04z"/><path fill="#37329e" d="M12 45h1.04v1.04h-1.04z"/><path fill="#362f94" d="M14 45h1.04v1.04h-1.04z"/><path fill="#362e93" d="M32 46h1.04v1.04h-1.04z"/><path fill="#106de0" d="M9 48h1.04v1.04h-1.04z"/><path fill="#3836ab" d="M21 50h1.04v1.04h-1.04z"/></g>
<rect x="746.0" y="29.0" width="363.5" height="315.0" fill="none" stroke="#262626" stroke-width="1.2"/>
<text x="749.6" y="382.3" font-size="24.5" fill="#404040" text-anchor="middle" font-family="'Liberation Sans', Arial, sans-serif" >0</text>
<text x="734.5" y="40.9" font-size="24.5" fill="#404040" text-anchor="end" font-family="'Liberation Sans', Arial, sans-serif" >0</text>
<line x1="749.6" y1="344.0" x2="749.6" y2="340.0" stroke="#262626" stroke-width="1.2" />
<line x1="749.6" y1="29.0" x2="749.6" y2="33.0" stroke="#262626" stroke-width="1.2" />
<line x1="746.0" y1="32.1" x2="750.0" y2="32.1" stroke="#262626" stroke-width="1.2" />
<line x1="1109.5" y1="32.1" x2="1105.5" y2="32.1" stroke="#262626" stroke-width="1.2" />
<text x="868.4" y="382.3" font-size="24.5" fill="#404040" text-anchor="middle" font-family="'Liberation Sans', Arial, sans-serif" >5</text>
<text x="734.5" y="143.8" font-size="24.5" fill="#404040" text-anchor="end" font-family="'Liberation Sans', Arial, sans-serif" >5</text>
<line x1="868.4" y1="344.0" x2="868.4" y2="340.0" stroke="#262626" stroke-width="1.2" />
<line x1="868.4" y1="29.0" x2="868.4" y2="33.0" stroke="#262626" stroke-width="1.2" />
<line x1="746.0" y1="135.0" x2="750.0" y2="135.0" stroke="#262626" stroke-width="1.2" />
<line x1="1109.5" y1="135.0" x2="1105.5" y2="135.0" stroke="#262626" stroke-width="1.2" />
<text x="987.1" y="382.3" font-size="24.5" fill="#404040" text-anchor="middle" font-family="'Liberation Sans', Arial, sans-serif" >10</text>
<text x="734.5" y="246.8" font-size="24.5" fill="#404040" text-anchor="end" font-family="'Liberation Sans', Arial, sans-serif" >10</text>
<line x1="987.1" y1="344.0" x2="987.1" y2="340.0" stroke="#262626" stroke-width="1.2" />
<line x1="987.1" y1="29.0" x2="987.1" y2="33.0" stroke="#262626" stroke-width="1.2" />
<line x1="746.0" y1="238.0" x2="750.0" y2="238.0" stroke="#262626" stroke-width="1.2" />
<line x1="1109.5" y1="238.0" x2="1105.5" y2="238.0" stroke="#262626" stroke-width="1.2" />
<text x="1105.9" y="382.3" font-size="24.5" fill="#404040" text-anchor="middle" font-family="'Liberation Sans', Arial, sans-serif" >15</text>
<text x="734.5" y="349.7" font-size="24.5" fill="#404040" text-anchor="end" font-family="'Liberation Sans', Arial, sans-serif" >15</text>
<line x1="1105.9" y1="344.0" x2="1105.9" y2="340.0" stroke="#262626" stroke-width="1.2" />
<line x1="1105.9" y1="29.0" x2="1105.9" y2="33.0" stroke="#262626" stroke-width="1.2" />
<line x1="746.0" y1="340.9" x2="750.0" y2="340.9" stroke="#262626" stroke-width="1.2" />
<line x1="1109.5" y1="340.9" x2="1105.5" y2="340.9" stroke="#262626" stroke-width="1.2" />
<text x="928.7" y="419.9" font-size="26.5" fill="#404040" text-anchor="middle" font-family="'Liberation Sans', Arial, sans-serif" >Distance (um)</text>
<text x="692.7" y="188.2" font-size="26.5" fill="#404040" text-anchor="middle" font-family="'Liberation Sans', Arial, sans-serif" transform="rotate(-90 692.7 188.2)">Distance (um)</text>
<text x="648.0" y="51.0" font-size="50" fill="#000" text-anchor="start" font-family="'Liberation Sans', Arial, sans-serif" >B</text>
<defs><linearGradient id="cbg" x1="0" y1="0" x2="0" y2="1"><stop offset="0.000" stop-color="#f8f410"/><stop offset="0.100" stop-color="#f8d020"/><stop offset="0.175" stop-color="#f5a840"/><stop offset="0.200" stop-color="#f0c040"/><stop offset="0.225" stop-color="#f0e030"/><stop offset="0.270" stop-color="#c8e830"/><stop offset="0.320" stop-color="#88e030"/><stop offset="0.400" stop-color="#28d62c"/><stop offset="0.480" stop-color="#20c850"/><stop offset="0.557" stop-color="#10c0a8"/><stop offset="0.575" stop-color="#10c0c0"/><stop offset="0.585" stop-color="#10aac8"/><stop offset="0.670" stop-color="#10a0d0"/><stop offset="0.763" stop-color="#1088d8"/><stop offset="0.860" stop-color="#0f6ee0"/><stop offset="0.905" stop-color="#2050d8"/><stop offset="0.953" stop-color="#3838b0"/><stop offset="1.000" stop-color="#352a87"/></linearGradient></defs>
<rect x="1146.5" y="29.3" width="48.5" height="315.7" fill="url(#cbg)" stroke="#262626" stroke-width="1.2"/>
<line x1="1195.0" y1="262.1" x2="1191.0" y2="262.1" stroke="#262626" stroke-width="1.2" />
<text x="1202.5" y="270.9" font-size="24.5" fill="#404040" text-anchor="start" font-family="'Liberation Sans', Arial, sans-serif" >200</text>
<line x1="1195.0" y1="179.3" x2="1191.0" y2="179.3" stroke="#262626" stroke-width="1.2" />
<text x="1202.5" y="188.1" font-size="24.5" fill="#404040" text-anchor="start" font-family="'Liberation Sans', Arial, sans-serif" >400</text>
<line x1="1195.0" y1="96.4" x2="1191.0" y2="96.4" stroke="#262626" stroke-width="1.2" />
<text x="1202.5" y="105.2" font-size="24.5" fill="#404040" text-anchor="start" font-family="'Liberation Sans', Arial, sans-serif" >600</text>
<text x="1300.5" y="51.1" font-size="50" fill="#000" text-anchor="start" font-family="'Liberation Sans', Arial, sans-serif" >C</text>
<line x1="1425.6" y1="4.0" x2="1425.6" y2="219.0" stroke="#000" stroke-width="2.6" />
<line x1="1407.0" y1="18.0" x2="1425.6" y2="18.0" stroke="#000" stroke-width="2.6" />
<text x="1398.0" y="26.6" font-size="25" fill="#000" text-anchor="end" font-family="'Liberation Sans', Arial, sans-serif" >770</text>
<line x1="1407.0" y1="72.4" x2="1425.6" y2="72.4" stroke="#000" stroke-width="2.6" />
<text x="1398.0" y="81.0" font-size="25" fill="#000" text-anchor="end" font-family="'Liberation Sans', Arial, sans-serif" >750</text>
<line x1="1407.0" y1="127.0" x2="1425.6" y2="127.0" stroke="#000" stroke-width="2.6" />
<text x="1398.0" y="135.6" font-size="25" fill="#000" text-anchor="end" font-family="'Liberation Sans', Arial, sans-serif" >730</text>
<line x1="1407.0" y1="181.4" x2="1425.6" y2="181.4" stroke="#000" stroke-width="2.6" />
<text x="1398.0" y="190.0" font-size="25" fill="#000" text-anchor="end" font-family="'Liberation Sans', Arial, sans-serif" >710</text>
<line x1="1425.6" y1="226.0" x2="1425.6" y2="346.2" stroke="#000" stroke-width="2.6" />
<line x1="1407.0" y1="276.7" x2="1425.6" y2="276.7" stroke="#000" stroke-width="2.6" />
<text x="1398.0" y="285.3" font-size="25" fill="#000" text-anchor="end" font-family="'Liberation Sans', Arial, sans-serif" >250</text>
<line x1="1407.0" y1="345.0" x2="1425.6" y2="345.0" stroke="#000" stroke-width="2.6" />
<text x="1398.0" y="353.6" font-size="25" fill="#000" text-anchor="end" font-family="'Liberation Sans', Arial, sans-serif" >200</text>
<line x1="1424.0" y1="353.0" x2="1831.0" y2="353.0" stroke="#000" stroke-width="2.6" />
<line x1="1445.7" y1="353.0" x2="1445.7" y2="372.0" stroke="#000" stroke-width="2.6" />
<text x="1445.7" y="405.0" font-size="25" fill="#000" text-anchor="middle" font-family="'Liberation Sans', Arial, sans-serif" >-3100</text>
<line x1="1549.7" y1="353.0" x2="1549.7" y2="372.0" stroke="#000" stroke-width="2.6" />
<text x="1549.7" y="405.0" font-size="25" fill="#000" text-anchor="middle" font-family="'Liberation Sans', Arial, sans-serif" >-3000</text>
<line x1="1653.4" y1="353.0" x2="1653.4" y2="372.0" stroke="#000" stroke-width="2.6" />
<text x="1653.4" y="405.0" font-size="25" fill="#000" text-anchor="middle" font-family="'Liberation Sans', Arial, sans-serif" >-2900</text>
<line x1="1757.0" y1="353.0" x2="1757.0" y2="372.0" stroke="#000" stroke-width="2.6" />
<text x="1757.0" y="405.0" font-size="25" fill="#000" text-anchor="middle" font-family="'Liberation Sans', Arial, sans-serif" >-2800</text>
<text x="1522.7" y="446.1" font-size="25.2" fill="#000" text-anchor="start" font-family="'Liberation Sans', Arial, sans-serif" >Raman Shift (cm<tspan dx="1.5" dy="-16.5" font-size="15.5">-1</tspan><tspan dx="0.5" dy="16.5">)</tspan></text>
<text x="1330.8" y="180.0" font-size="24.5" fill="#000" text-anchor="middle" font-family="'Liberation Sans', Arial, sans-serif" transform="rotate(-90 1330.8 180)">Intensity (a.u.)</text>
<text x="1895.0" y="25.0" font-size="29.6" fill="#e8141c" text-anchor="end" font-family="'Liberation Sans', Arial, sans-serif" >Avg. spectrum (x3)</text>
<text x="1897.5" y="59.7" font-size="29.5" fill="#000" text-anchor="end" font-family="'Liberation Sans', Arial, sans-serif" >Max intensity pixel</text>
<text x="1898.0" y="269.2" font-size="29.6" fill="#6b2aa3" text-anchor="end" font-family="'Liberation Sans', Arial, sans-serif" >Raman reference</text>
<polyline points="1425.4,126.5 1426.6,126.6 1427.8,126.5 1429.0,126.3 1430.2,126.5 1431.4,126.4 1432.6,126.8 1433.8,127.3 1435.0,126.7 1436.2,126.7 1437.4,127.2 1438.6,127.2 1439.8,127.2 1441.0,126.9 1442.2,127.2 1443.4,127.5 1444.6,126.9 1445.8,127.3 1447.0,126.8 1448.2,127.1 1449.4,127.0 1450.6,127.6 1451.8,127.3 1453.0,127.9 1454.2,128.0 1455.4,127.9 1456.6,127.2 1457.8,128.0 1459.0,128.2 1460.2,128.4 1461.4,127.9 1462.6,128.3 1463.8,128.2 1465.0,128.4 1466.2,129.1 1467.4,128.6 1468.6,129.0 1469.8,129.4 1471.0,129.0 1472.2,129.3 1473.4,129.5 1474.6,129.6 1475.8,129.3 1477.0,129.9 1478.2,130.5 1479.4,129.6 1480.6,130.6 1481.8,130.5 1483.0,130.4 1484.2,131.5 1485.4,131.2 1486.6,130.7 1487.8,131.3 1489.0,131.6 1490.2,131.5 1491.4,131.9 1492.6,131.8 1493.8,132.2 1495.0,132.6 1496.2,132.1 1497.4,132.5 1498.6,132.4 1499.8,132.8 1501.0,132.4 1502.2,132.7 1503.4,132.9 1504.6,133.3 1505.8,133.3 1507.0,132.3 1508.2,132.2 1509.4,132.3 1510.6,130.9 1511.8,130.9 1513.0,130.5 1514.2,130.5 1515.4,129.7 1516.6,128.9 1517.8,128.4 1519.0,128.1 1520.2,128.3 1521.4,127.1 1522.6,126.7 1523.8,126.4 1525.0,125.8 1526.2,125.3 1527.4,124.6 1528.6,124.6 1529.8,124.2 1531.0,124.5 1532.2,124.2 1533.4,124.0 1534.6,124.4 1535.8,124.3 1537.0,125.1 1538.2,125.2 1539.4,125.9 1540.6,125.8 1541.8,126.9 1543.0,126.7 1544.2,127.0 1545.4,128.0 1546.6,128.2 1547.8,129.0 1549.0,130.2 1550.2,129.6 1551.4,130.1 1552.6,130.8 1553.8,131.3 1555.0,131.5 1556.2,131.9 1557.4,132.6 1558.6,132.9 1559.8,132.6 1561.0,133.3 1562.2,133.6 1563.4,133.5 1564.6,134.3 1565.8,134.2 1567.0,135.1 1568.2,135.1 1569.4,135.4 1570.6,135.5 1571.8,136.0 1573.0,135.7 1574.2,136.4 1575.4,137.3 1576.6,136.8 1577.8,138.1 1579.0,137.3 1580.2,138.2 1581.4,136.6 1582.6,135.1 1583.8,132.4 1585.0,129.4 1586.2,127.6 1587.4,124.3 1588.6,119.4 1589.8,113.6 1591.0,107.5 1592.2,101.1 1593.4,95.5 1594.6,88.3 1595.8,81.3 1597.0,73.0 1598.2,64.8 1599.4,57.2 1600.6,51.6 1601.8,44.9 1603.0,38.7 1604.2,31.0 1605.4,23.2 1606.6,16.6 1607.8,10.7 1609.0,7.4 1610.2,4.8 1611.4,3.3 1612.6,2.1 1613.8,3.0 1615.0,5.6 1616.2,7.5 1617.4,11.1 1618.6,16.2 1619.8,21.6 1621.0,26.0 1622.2,32.1 1623.4,37.7 1624.6,42.8 1625.8,49.1 1627.0,54.2 1628.2,59.5 1629.4,64.3 1630.6,69.3 1631.8,73.2 1633.0,76.9 1634.2,79.6 1635.4,82.2 1636.6,85.4 1637.8,86.8 1639.0,88.9 1640.2,90.5 1641.4,91.8 1642.6,93.2 1643.8,94.9 1645.0,95.8 1646.2,96.9 1647.4,97.9 1648.6,99.3 1649.8,99.9 1651.0,100.4 1652.2,100.6 1653.4,100.7 1654.6,101.9 1655.8,102.3 1657.0,102.4 1658.2,103.1 1659.4,103.7 1660.6,104.3 1661.8,104.8 1663.0,104.8 1664.2,106.0 1665.4,105.5 1666.6,106.7 1667.8,107.0 1669.0,107.6 1670.2,108.3 1671.4,108.5 1672.6,107.9 1673.8,108.0 1675.0,109.2 1676.2,108.8 1677.4,109.4 1678.6,110.0 1679.8,109.4 1681.0,109.5 1682.2,110.5 1683.4,110.7 1684.6,110.8 1685.8,111.1 1687.0,111.0 1688.2,111.0 1689.4,111.7 1690.6,111.7 1691.8,111.7 1693.0,112.7 1694.2,112.7 1695.4,113.1 1696.6,112.9 1697.8,113.3 1699.0,113.4 1700.2,113.7 1701.4,114.4 1702.6,114.4 1703.8,115.2 1705.0,115.6 1706.2,116.6 1707.4,115.8 1708.6,117.0 1709.8,117.0 1711.0,117.3 1712.2,117.0 1713.4,117.5 1714.6,118.0 1715.8,117.9 1717.0,118.0 1718.2,118.0 1719.4,118.6 1720.6,118.3 1721.8,117.6 1723.0,118.2 1724.2,117.8 1725.4,117.4 1726.6,118.3 1727.8,118.9 1729.0,118.4 1730.2,118.0 1731.4,118.0 1732.6,118.6 1733.8,118.2 1735.0,118.1 1736.2,118.0 1737.4,118.0 1738.6,118.3 1739.8,118.2 1741.0,118.1 1742.2,117.8 1743.4,118.4 1744.6,118.1 1745.8,118.8 1747.0,118.1 1748.2,118.6 1749.4,118.8 1750.6,118.4 1751.8,119.6 1753.0,119.6 1754.2,119.0 1755.4,119.4 1756.6,119.4 1757.8,118.4 1759.0,119.4 1760.2,119.4 1761.4,119.5 1762.6,119.1 1763.8,119.5 1765.0,119.6 1766.2,120.2 1767.4,120.0 1768.6,120.0 1769.8,120.7 1771.0,120.1 1772.2,120.3 1773.4,119.9 1774.6,121.3 1775.8,121.2 1777.0,121.3 1778.2,121.4 1779.4,121.4 1780.6,121.6 1781.8,121.6 1783.0,121.8 1784.2,122.1 1785.4,122.7 1786.6,122.6 1787.8,122.5 1789.0,122.4 1790.2,122.5 1791.4,123.3 1792.6,123.0 1793.8,122.9 1795.0,122.9 1796.2,122.6 1797.4,123.1 1798.6,123.4 1799.8,123.0 1801.0,123.1 1802.2,123.2 1803.4,123.3 1804.6,122.8 1805.8,123.3 1807.0,123.1 1808.2,123.8 1809.4,123.2 1810.6,123.7 1811.8,124.1 1813.0,123.5 1814.2,123.4 1815.4,123.7 1816.6,123.7 1817.8,123.4 1819.0,123.9 1820.2,124.5 1821.4,123.7 1822.6,123.8 1823.8,123.5 1825.0,124.0 1826.2,123.5 1827.4,123.6 1828.6,124.4 1829.8,123.7 1831.0,124.4" fill="none" stroke="#ec0f0f" stroke-width="3.4" stroke-linejoin="round" stroke-linecap="round" />
<polyline points="1424.5,203.5 1426.1,199.7 1427.7,201.5 1429.3,202.8 1430.9,196.6 1432.5,189.0 1434.1,185.5 1435.7,196.4 1437.3,202.3 1438.9,200.9 1440.5,195.6 1442.1,193.8 1443.7,196.7 1445.3,199.2 1446.9,198.7 1448.5,200.7 1450.1,204.2 1451.7,199.3 1453.3,197.0 1454.9,200.7 1456.5,201.3 1458.1,191.1 1459.7,204.1 1461.3,206.2 1462.9,201.4 1464.5,197.5 1466.1,200.7 1467.7,196.7 1469.3,199.2 1470.9,204.2 1472.5,204.4 1474.1,201.4 1475.7,199.6 1477.3,209.1 1478.9,202.8 1480.5,205.0 1482.1,208.8 1483.7,204.0 1485.3,200.3 1486.9,198.5 1488.5,197.6 1490.1,200.8 1491.7,200.0 1493.3,205.7 1494.9,201.9 1496.5,206.4 1498.1,207.7 1499.7,207.0 1501.3,202.3 1502.9,198.3 1504.5,202.6 1506.1,203.1 1507.7,202.6 1509.3,200.0 1510.9,200.0 1512.5,204.8 1514.1,202.4 1515.7,199.6 1517.3,203.0 1518.9,197.4 1520.5,198.3 1522.1,200.9 1523.7,201.2 1525.3,199.8 1526.9,202.2 1528.5,199.8 1530.1,195.5 1531.7,195.7 1533.3,199.4 1534.9,203.8 1536.5,195.2 1538.1,200.4 1539.7,200.7 1541.3,200.8 1542.9,196.7 1544.5,195.4 1546.1,195.4 1547.7,203.3 1549.3,201.1 1550.9,201.5 1552.5,197.1 1554.1,197.2 1555.7,194.1 1557.3,197.5 1558.9,200.9 1560.5,197.7 1562.1,202.4 1563.7,200.7 1565.3,199.1 1566.9,201.1 1568.5,202.6 1570.1,204.4 1571.7,204.4 1573.3,205.0 1574.9,207.3 1576.5,206.8 1578.1,206.6 1579.7,209.9 1581.3,205.3 1582.9,203.6 1584.5,204.3 1586.1,200.5 1587.7,197.3 1589.3,197.9 1590.9,193.1 1592.5,192.8 1594.1,185.3 1595.7,182.5 1597.3,175.1 1598.9,164.0 1600.5,154.5 1602.1,138.4 1603.7,127.3 1605.3,117.0 1606.9,107.2 1608.5,101.7 1610.1,97.4 1611.7,97.5 1613.3,89.4 1614.9,88.4 1616.5,85.5 1618.1,89.2 1619.7,84.3 1621.3,93.7 1622.9,105.2 1624.5,112.5 1626.1,113.8 1627.7,119.6 1629.3,126.2 1630.9,132.1 1632.5,141.5 1634.1,146.1 1635.7,152.3 1637.3,159.2 1638.9,160.6 1640.5,165.0 1642.1,164.3 1643.7,164.8 1645.3,167.2 1646.9,176.7 1648.5,172.8 1650.1,167.7 1651.7,173.3 1653.3,173.2 1654.9,172.9 1656.5,174.9 1658.1,166.5 1659.7,164.5 1661.3,160.4 1662.9,167.5 1664.5,174.9 1666.1,175.7 1667.7,171.4 1669.3,170.3 1670.9,174.1 1672.5,177.2 1674.1,169.7 1675.7,175.4 1677.3,174.7 1678.9,178.4 1680.5,175.0 1682.1,175.6 1683.7,173.6 1685.3,175.9 1686.9,182.2 1688.5,181.7 1690.1,178.8 1691.7,179.3 1693.3,178.1 1694.9,178.6 1696.5,179.1 1698.1,180.2 1699.7,180.2 1701.3,178.9 1702.9,181.0 1704.5,182.9 1706.1,187.4 1707.7,188.6 1709.3,183.8 1710.9,181.1 1712.5,180.0 1714.1,181.3 1715.7,181.6 1717.3,183.8 1718.9,187.3 1720.5,185.2 1722.1,182.8 1723.7,182.8 1725.3,181.4 1726.9,179.4 1728.5,176.8 1730.1,170.7 1731.7,178.0 1733.3,181.6 1734.9,180.5 1736.5,177.6 1738.1,179.7 1739.7,177.3 1741.3,178.8 1742.9,179.4 1744.5,176.8 1746.1,182.0 1747.7,183.8 1749.3,183.5 1750.9,183.3 1752.5,183.4 1754.1,182.8 1755.7,184.6 1757.3,185.2 1758.9,186.5 1760.5,184.7 1762.1,187.9 1763.7,188.4 1765.3,187.4 1766.9,187.4 1768.5,189.8 1770.1,184.3 1771.7,187.5 1773.3,187.0 1774.9,186.6 1776.5,181.6 1778.1,184.1 1779.7,186.4 1781.3,188.9 1782.9,188.8 1784.5,187.4 1786.1,184.1 1787.7,188.9 1789.3,191.8 1790.9,192.0 1792.5,191.1 1794.1,185.7 1795.7,191.1 1797.3,192.2 1798.9,183.8 1800.5,188.2 1802.1,185.4 1803.7,185.5 1805.3,188.6 1806.9,192.7 1808.5,188.4 1810.1,191.8 1811.7,196.7 1813.3,195.9 1814.9,189.9 1816.5,190.0 1818.1,188.2 1819.7,189.9 1821.3,193.2 1822.9,192.0 1824.5,185.5 1826.1,193.1 1827.7,191.3 1829.3,192.7 1830.9,194.8" fill="none" stroke="#000" stroke-width="3.9" stroke-linejoin="round" stroke-linecap="round" />
<polyline points="1443.8,343.0 1444.6,342.6 1445.4,342.4 1446.2,342.3 1447.0,342.2 1447.8,342.2 1448.6,342.1 1449.4,342.4 1450.2,342.1 1451.0,342.1 1451.8,341.9 1452.6,342.1 1453.4,341.9 1454.2,342.0 1455.0,342.3 1455.8,342.1 1456.6,342.1 1457.4,342.1 1458.2,342.0 1459.0,341.9 1459.8,341.9 1460.6,342.1 1461.4,341.6 1462.2,342.2 1463.0,341.9 1463.8,341.6 1464.6,341.7 1465.4,341.6 1466.2,341.8 1467.0,341.6 1467.8,342.0 1468.6,341.5 1469.4,341.1 1470.2,341.5 1471.0,341.2 1471.8,341.7 1472.6,341.9 1473.4,341.8 1474.2,341.3 1475.0,341.4 1475.8,342.0 1476.6,341.7 1477.4,341.6 1478.2,341.8 1479.0,342.2 1479.8,341.8 1480.6,341.5 1481.4,341.6 1482.2,341.6 1483.0,341.3 1483.8,341.2 1484.6,341.4 1485.4,341.1 1486.2,341.3 1487.0,341.4 1487.8,341.9 1488.6,341.1 1489.4,341.2 1490.2,341.1 1491.0,341.2 1491.8,341.3 1492.6,340.9 1493.4,340.7 1494.2,340.5 1495.0,340.6 1495.8,340.8 1496.6,340.6 1497.4,340.3 1498.2,340.3 1499.0,340.3 1499.8,340.4 1500.6,340.0 1501.4,339.9 1502.2,339.4 1503.0,339.5 1503.8,340.0 1504.6,338.9 1505.4,339.2 1506.2,339.2 1507.0,338.8 1507.8,338.5 1508.6,338.5 1509.4,338.2 1510.2,338.0 1511.0,337.3 1511.8,337.4 1512.6,336.8 1513.4,336.4 1514.2,336.2 1515.0,335.8 1515.8,335.3 1516.6,334.4 1517.4,334.2 1518.2,333.6 1519.0,333.0 1519.8,332.3 1520.6,331.0 1521.4,330.2 1522.2,329.6 1523.0,328.3 1523.8,327.9 1524.6,327.1 1525.4,326.5 1526.2,325.5 1527.0,325.0 1527.8,324.7 1528.6,324.3 1529.4,323.9 1530.2,323.1 1531.0,322.8 1531.8,322.3 1532.6,322.3 1533.4,321.8 1534.2,321.7 1535.0,321.8 1535.8,321.1 1536.6,320.6 1537.4,320.7 1538.2,320.6 1539.0,320.7 1539.8,321.6 1540.6,321.5 1541.4,321.4 1542.2,322.2 1543.0,322.8 1543.8,322.9 1544.6,323.4 1545.4,324.2 1546.2,325.0 1547.0,325.8 1547.8,326.8 1548.6,327.8 1549.4,328.7 1550.2,329.8 1551.0,330.6 1551.8,330.9 1552.6,332.1 1553.4,333.0 1554.2,333.7 1555.0,334.8 1555.8,335.2 1556.6,335.7 1557.4,336.8 1558.2,336.9 1559.0,337.1 1559.8,337.6 1560.6,337.8 1561.4,337.9 1562.2,337.4 1563.0,338.0 1563.8,338.2 1564.6,338.2 1565.4,338.5 1566.2,338.8 1567.0,338.4 1567.8,338.2 1568.6,339.0 1569.4,338.3 1570.2,338.1 1571.0,338.4 1571.8,338.4 1572.6,338.1 1573.4,338.5 1574.2,338.1 1575.0,337.9 1575.8,338.1 1576.6,338.2 1577.4,337.8 1578.2,338.0 1579.0,337.8 1579.8,338.5 1580.6,337.5 1581.4,337.9 1582.2,337.4 1583.0,337.2 1583.8,337.3 1584.6,337.2 1585.4,337.1 1586.2,336.6 1587.0,336.2 1587.8,336.0 1588.6,336.0 1589.4,335.8 1590.2,335.8 1591.0,335.3 1591.8,335.1 1592.6,334.9 1593.4,334.2 1594.2,333.3 1595.0,332.9 1595.8,332.4 1596.6,332.5 1597.4,331.2 1598.2,330.7 1599.0,329.5 1599.8,328.5 1600.6,327.0 1601.4,325.2 1602.2,323.5 1603.0,321.7 1603.8,319.6 1604.6,317.1 1605.4,314.7 1606.2,312.2 1607.0,307.8 1607.8,304.3 1608.6,299.9 1609.4,295.9 1610.2,291.6 1611.0,286.7 1611.8,281.9 1612.6,276.2 1613.4,271.2 1614.2,264.8 1615.0,259.2 1615.8,253.4 1616.6,247.3 1617.4,242.2 1618.2,237.4 1619.0,233.7 1619.8,230.6 1620.6,228.3 1621.4,226.6 1622.2,227.0 1623.0,227.0 1623.8,226.6 1624.6,226.8 1625.4,228.1 1626.2,233.5 1627.0,240.0 1627.8,245.3 1628.6,251.6 1629.4,257.9 1630.2,264.0 1631.0,270.7 1631.8,276.1 1632.6,282.2 1633.4,288.0 1634.2,293.5 1635.0,298.8 1635.8,304.1 1636.6,308.4 1637.4,311.9 1638.2,315.0 1639.0,317.2 1639.8,319.2 1640.6,320.9 1641.4,322.6 1642.2,323.6 1643.0,324.9 1643.8,326.0 1644.6,327.4 1645.4,328.2 1646.2,329.2 1647.0,328.8 1647.8,329.5 1648.6,330.2 1649.4,330.3 1650.2,330.6 1651.0,331.4 1651.8,331.1 1652.6,331.1 1653.4,331.3 1654.2,331.9 1655.0,332.1 1655.8,331.8 1656.6,332.1 1657.4,332.6 1658.2,332.7 1659.0,332.5 1659.8,332.9 1660.6,333.0 1661.4,332.5 1662.2,333.0 1663.0,333.3 1663.8,333.1 1664.6,332.8 1665.4,333.3 1666.2,333.7 1667.0,334.0 1667.8,333.1 1668.6,334.4 1669.4,333.6 1670.2,334.2 1671.0,334.3 1671.8,334.3 1672.6,334.2 1673.4,333.9 1674.2,334.4 1675.0,334.1 1675.8,333.7 1676.6,335.1 1677.4,334.6 1678.2,335.0 1679.0,334.3 1679.8,334.9 1680.6,335.0 1681.4,335.0 1682.2,334.7 1683.0,334.4 1683.8,334.7 1684.6,334.2 1685.4,334.4 1686.2,334.8 1687.0,334.6 1687.8,334.8 1688.6,334.8 1689.4,335.4 1690.2,335.2 1691.0,334.9 1691.8,335.2 1692.6,334.7 1693.4,334.8 1694.2,335.0 1695.0,334.4 1695.8,334.6 1696.6,334.3 1697.4,334.6 1698.2,334.9 1699.0,334.2 1699.8,334.3 1700.6,333.9 1701.4,333.7 1702.2,333.5 1703.0,334.2 1703.8,334.5 1704.6,334.3 1705.4,334.3 1706.2,335.1 1707.0,335.4 1707.8,336.1 1708.6,336.4 1709.4,337.0 1710.2,337.8 1711.0,338.2 1711.8,338.8 1712.6,339.1 1713.4,339.8 1714.2,339.7 1715.0,340.1 1715.8,340.0 1716.6,340.3 1717.4,340.5 1718.2,340.1 1719.0,340.3 1719.8,340.3 1720.6,340.8 1721.4,341.0 1722.2,340.9 1723.0,340.6 1723.8,341.1 1724.6,340.3 1725.4,341.1 1726.2,340.6 1727.0,340.1 1727.8,341.5 1728.6,341.2 1729.4,340.5 1730.2,340.8 1731.0,340.7 1731.8,340.8 1732.6,340.4 1733.4,340.6 1734.2,340.9 1735.0,340.9 1735.8,341.1 1736.6,340.8 1737.4,341.4 1738.2,340.6 1739.0,340.9 1739.8,340.3 1740.6,340.5 1741.4,341.1 1742.2,340.6 1743.0,340.9 1743.8,340.8 1744.6,340.5 1745.4,340.7 1746.2,340.7 1747.0,340.7 1747.8,341.0 1748.6,341.0 1749.4,340.7 1750.2,340.6 1751.0,341.0 1751.8,341.0 1752.6,341.3 1753.4,341.8 1754.2,341.5 1755.0,341.4 1755.8,341.4 1756.6,341.4 1757.4,341.5 1758.2,341.7 1759.0,342.1 1759.8,342.4 1760.6,342.9 1761.4,342.9 1762.2,343.2 1763.0,343.1 1763.8,343.9 1764.6,343.7 1765.4,344.0 1766.2,343.8 1767.0,344.0 1767.8,343.7 1768.6,343.9 1769.4,344.5 1770.2,343.5 1771.0,344.1 1771.8,344.3 1772.6,344.0 1773.4,344.1 1774.2,344.3 1775.0,343.8 1775.8,344.1 1776.6,343.8 1777.4,343.9 1778.2,343.9 1779.0,344.1 1779.8,344.1 1780.6,344.2 1781.4,343.8 1782.2,344.7 1783.0,344.5 1783.8,344.4 1784.6,344.1 1785.4,344.2 1786.2,344.4 1787.0,344.4 1787.8,343.8 1788.6,344.5 1789.4,345.0 1790.2,343.8 1791.0,344.6 1791.8,344.4 1792.6,344.3 1793.4,344.7 1794.2,344.1 1795.0,344.4 1795.8,344.8 1796.6,344.4 1797.4,344.3 1798.2,344.5 1799.0,344.3 1799.8,344.9 1800.6,344.3 1801.4,344.7 1802.2,344.2 1803.0,344.7 1803.8,344.5 1804.6,343.9 1805.4,344.6 1806.2,344.3 1807.0,344.5 1807.8,345.0 1808.6,344.3 1809.4,344.3 1810.2,345.0 1811.0,344.7 1811.8,345.0 1812.6,344.7 1813.4,344.4 1814.2,344.6 1815.0,345.0 1815.8,344.9 1816.6,344.7 1817.4,344.7 1818.2,344.7 1819.0,344.5 1819.8,345.2 1820.6,344.7" fill="none" stroke="#7312e6" stroke-width="1.9" stroke-linejoin="round" stroke-linecap="round" />
<text x="0.0" y="519.0" font-size="50" fill="#000" text-anchor="start" font-family="'Liberation Sans', Arial, sans-serif" >D</text>
<line x1="151.5" y1="493.0" x2="151.5" y2="631.0" stroke="#000" stroke-width="2.6" />
<line x1="133.0" y1="493.7" x2="151.5" y2="493.7" stroke="#000" stroke-width="2.6" />
<text x="123.5" y="502.3" font-size="25" fill="#000" text-anchor="end" font-family="'Liberation Sans', Arial, sans-serif" >740</text>
<line x1="133.0" y1="556.3" x2="151.5" y2="556.3" stroke="#000" stroke-width="2.6" />
<text x="123.5" y="564.9" font-size="25" fill="#000" text-anchor="end" font-family="'Liberation Sans', Arial, sans-serif" >720</text>
<line x1="133.0" y1="618.9" x2="151.5" y2="618.9" stroke="#000" stroke-width="2.6" />
<text x="123.5" y="627.5" font-size="25" fill="#000" text-anchor="end" font-family="'Liberation Sans', Arial, sans-serif" >700</text>
<line x1="151.5" y1="655.5" x2="151.5" y2="790.5" stroke="#000" stroke-width="2.6" />
<line x1="133.0" y1="679.1" x2="151.5" y2="679.1" stroke="#000" stroke-width="2.6" />
<text x="123.5" y="687.7" font-size="25" fill="#000" text-anchor="end" font-family="'Liberation Sans', Arial, sans-serif" >720</text>
<line x1="133.0" y1="725.6" x2="151.5" y2="725.6" stroke="#000" stroke-width="2.6" />
<text x="123.5" y="734.2" font-size="25" fill="#000" text-anchor="end" font-family="'Liberation Sans', Arial, sans-serif" >710</text>
<line x1="133.0" y1="772.1" x2="151.5" y2="772.1" stroke="#000" stroke-width="2.6" />
<text x="123.5" y="780.7" font-size="25" fill="#000" text-anchor="end" font-family="'Liberation Sans', Arial, sans-serif" >700</text>
<line x1="149.4" y1="800.3" x2="563.6" y2="800.3" stroke="#000" stroke-width="2.6" />
<line x1="160.8" y1="800.3" x2="160.8" y2="809.8" stroke="#000" stroke-width="2.6" />
<line x1="184.0" y1="800.3" x2="184.0" y2="818.6" stroke="#000" stroke-width="2.6" />
<text x="184.0" y="851.0" font-size="25" fill="#000" text-anchor="middle" font-family="'Liberation Sans', Arial, sans-serif" >-3000</text>
<line x1="207.2" y1="800.3" x2="207.2" y2="809.8" stroke="#000" stroke-width="2.6" />
<line x1="230.5" y1="800.3" x2="230.5" y2="809.8" stroke="#000" stroke-width="2.6" />
<line x1="253.7" y1="800.3" x2="253.7" y2="809.8" stroke="#000" stroke-width="2.6" />
<line x1="277.0" y1="800.3" x2="277.0" y2="809.8" stroke="#000" stroke-width="2.6" />
<line x1="300.2" y1="800.3" x2="300.2" y2="818.6" stroke="#000" stroke-width="2.6" />
<text x="300.2" y="851.0" font-size="25" fill="#000" text-anchor="middle" font-family="'Liberation Sans', Arial, sans-serif" >-2900</text>
<line x1="323.4" y1="800.3" x2="323.4" y2="809.8" stroke="#000" stroke-width="2.6" />
<line x1="346.7" y1="800.3" x2="346.7" y2="809.8" stroke="#000" stroke-width="2.6" />
<line x1="369.9" y1="800.3" x2="369.9" y2="809.8" stroke="#000" stroke-width="2.6" />
<line x1="393.2" y1="800.3" x2="393.2" y2="809.8" stroke="#000" stroke-width="2.6" />
<line x1="416.4" y1="800.3" x2="416.4" y2="818.6" stroke="#000" stroke-width="2.6" />
<text x="416.4" y="851.0" font-size="25" fill="#000" text-anchor="middle" font-family="'Liberation Sans', Arial, sans-serif" >-2800</text>
<line x1="439.6" y1="800.3" x2="439.6" y2="809.8" stroke="#000" stroke-width="2.6" />
<line x1="462.9" y1="800.3" x2="462.9" y2="809.8" stroke="#000" stroke-width="2.6" />
<line x1="486.1" y1="800.3" x2="486.1" y2="809.8" stroke="#000" stroke-width="2.6" />
<line x1="509.4" y1="800.3" x2="509.4" y2="809.8" stroke="#000" stroke-width="2.6" />
<line x1="532.6" y1="800.3" x2="532.6" y2="818.6" stroke="#000" stroke-width="2.6" />
<text x="532.6" y="851.0" font-size="25" fill="#000" text-anchor="middle" font-family="'Liberation Sans', Arial, sans-serif" >-2700</text>
<line x1="555.8" y1="800.3" x2="555.8" y2="809.8" stroke="#000" stroke-width="2.6" />
<text x="251.5" y="892.0" font-size="25.2" fill="#000" text-anchor="start" font-family="'Liberation Sans', Arial, sans-serif" >Raman Shift (cm<tspan dx="1.5" dy="-16.5" font-size="15.5">-1</tspan><tspan dx="0.5" dy="16.5">)</tspan></text>
<text x="55.5" y="641.0" font-size="24.5" fill="#000" text-anchor="middle" font-family="'Liberation Sans', Arial, sans-serif" transform="rotate(-90 55.5 641)">Intensity (a.u.)</text>
<text x="567.0" y="516.0" font-size="29.5" fill="#000" text-anchor="end" font-family="'Liberation Sans', Arial, sans-serif" >Exp</text>
<text x="549.5" y="551.0" font-size="29.5" fill="#ec7c30" text-anchor="end" font-family="'Liberation Sans', Arial, sans-serif" >Fit</text>
<polyline points="150.7,616.7 151.8,619.2 153.0,622.3 154.2,622.6 155.3,619.9 156.5,618.3 157.6,618.9 158.8,614.5 159.9,615.9 161.1,621.8 162.2,619.9 163.4,622.2 164.5,624.0 165.7,618.5 166.8,621.6 168.0,627.8 169.1,624.1 170.3,620.8 171.4,623.8 172.6,624.4 173.7,619.5 174.9,621.1 176.0,620.0 177.2,615.7 178.3,620.2 179.5,621.1 180.6,620.0 181.8,617.3 182.9,620.9 184.1,623.1 185.2,622.4 186.4,617.0 187.5,623.7 188.7,621.0 189.8,624.1 191.0,628.3 192.1,622.2 193.3,617.5 194.4,627.2 195.6,625.6 196.7,625.6 197.9,628.1 199.0,629.1 200.2,620.9 201.3,623.2 202.5,623.9 203.6,624.0 204.8,625.0 205.9,626.2 207.1,629.1 208.2,627.0 209.4,629.3 210.5,629.7 211.7,626.5 212.8,628.7 214.0,632.3 215.1,626.5 216.3,617.0 217.4,621.9 218.6,620.9 219.7,623.4 220.9,623.8 222.0,618.4 223.2,618.9 224.3,621.1 225.5,616.4 226.6,615.6 227.8,611.4 228.9,610.3 230.1,611.8 231.2,616.9 232.4,608.9 233.5,604.6 234.7,602.2 235.8,601.1 237.0,600.5 238.1,597.4 239.3,597.7 240.4,589.9 241.6,586.4 242.7,578.2 243.9,571.3 245.0,560.4 246.2,557.0 247.3,551.3 248.5,542.5 249.6,531.4 250.8,531.5 251.9,522.8 253.1,515.3 254.2,510.9 255.4,510.7 256.5,501.9 257.7,492.7 258.8,491.6 260.0,494.2 261.1,493.5 262.3,492.2 263.4,492.9 264.6,494.7 265.7,500.5 266.9,506.6 268.0,506.3 269.2,516.8 270.3,520.4 271.5,521.5 272.6,527.6 273.8,526.1 274.9,528.6 276.1,534.8 277.2,542.1 278.4,546.9 279.5,550.9 280.7,555.2 281.8,554.3 283.0,562.8 284.1,562.0 285.3,565.7 286.4,568.7 287.6,568.5 288.7,569.5 289.9,572.9 291.0,578.1 292.2,581.8 293.3,582.2 294.5,578.6 295.6,579.0 296.8,580.8 297.9,585.9 299.1,579.7 300.2,586.6 301.4,583.3 302.5,580.8 303.7,586.0 304.8,588.9 306.0,587.8 307.1,589.0 308.3,587.6 309.4,590.3 310.6,590.3 311.7,587.3 312.9,590.3 314.0,585.9 315.2,578.7 316.3,581.6 317.5,585.0 318.6,587.3 319.8,583.0 320.9,587.3 322.1,587.6 323.2,585.6 324.4,579.5 325.5,584.6 326.7,587.3 327.8,584.2 329.0,584.9 330.1,582.4 331.3,587.0 332.4,585.5 333.6,587.7 334.7,582.4 335.9,587.8 337.0,587.6 338.2,589.2 339.3,585.1 340.5,586.9 341.6,593.9 342.8,586.9 343.9,587.0 345.1,592.4 346.2,587.9 347.4,593.4 348.5,595.2 349.7,588.0 350.8,585.5 352.0,593.8 353.1,595.7 354.3,595.4 355.4,595.3 356.6,590.3 357.7,590.8 358.9,588.0 360.0,589.0 361.2,595.5 362.3,594.4 363.5,601.2 364.6,596.5 365.8,592.5 366.9,591.8 368.1,604.9 369.2,599.6 370.4,594.3 371.5,599.0 372.7,599.0 373.8,582.7 375.0,593.8 376.1,602.0 377.3,600.1 378.4,596.7 379.6,598.2 380.7,598.5 381.9,601.6 383.0,602.7 384.2,605.7 385.3,602.8 386.5,593.2 387.6,602.3 388.8,606.1 389.9,607.0 391.1,612.5 392.2,603.4 393.4,601.3 394.5,605.6 395.7,600.4 396.8,598.1 398.0,605.9 399.1,603.2 400.3,602.8 401.4,600.1 402.6,599.9 403.7,601.1 404.9,604.2 406.0,605.3 407.2,600.0 408.3,606.3 409.5,602.7 410.6,603.1 411.8,608.0 412.9,606.1 414.1,603.5 415.2,611.0 416.4,606.0 417.5,607.6 418.7,609.0 419.8,611.5 421.0,607.7 422.1,609.9 423.3,606.9 424.4,610.2 425.6,606.1 426.7,607.6 427.9,613.7 429.0,610.3 430.2,610.2 431.3,615.2 432.5,610.3 433.6,606.7 434.8,609.4 435.9,606.2 437.1,612.0 438.2,612.6 439.4,605.6 440.5,598.2 441.7,607.2 442.8,608.5 444.0,606.5 445.1,608.9 446.3,603.2 447.4,606.5 448.6,609.7 449.7,616.0 450.9,611.0 452.0,606.5 453.2,610.5 454.3,609.1 455.5,606.8 456.6,604.6 457.8,605.7 458.9,610.2 460.1,609.9 461.2,610.8 462.4,614.0 463.5,614.9 464.7,615.4 465.8,609.4 467.0,606.2 468.1,612.7 469.3,612.8 470.4,614.1 471.6,612.1 472.7,614.8 473.9,614.5 475.0,613.8 476.2,613.1 477.3,612.6 478.5,612.1 479.6,612.5 480.8,611.6 481.9,602.4 483.1,621.4 484.2,614.3 485.4,614.1 486.5,611.6 487.7,611.9 488.8,617.2 490.0,610.4 491.1,604.1 492.3,607.9 493.4,611.7 494.6,618.1 495.7,614.4 496.9,614.2 498.0,609.0 499.2,609.1 500.3,614.6 501.5,617.5 502.6,611.6 503.8,613.8 504.9,612.9 506.1,611.9 507.2,622.6 508.4,612.5 509.5,605.3 510.7,611.0 511.8,613.9 513.0,610.9 514.1,609.4 515.3,616.5 516.4,615.2 517.6,617.0 518.7,617.5 519.9,611.7 521.0,610.8 522.2,617.9 523.3,614.1 524.5,613.1 525.6,614.5 526.8,616.9 527.9,614.4 529.1,612.9 530.2,612.9 531.4,613.9 532.5,611.6 533.7,615.0 534.8,613.7 536.0,612.1 537.1,612.8 538.3,613.4 539.4,620.4 540.6,619.6 541.7,616.3 542.9,615.7 544.0,621.0 545.2,616.6 546.3,614.5 547.5,615.5 548.6,616.5 549.8,618.9 550.9,616.8 552.1,620.4 553.2,613.4 554.4,614.4 555.5,617.0 556.7,620.3 557.8,615.1 559.0,615.3 560.1,618.2 561.3,616.8 562.4,612.9 563.6,613.7" fill="none" stroke="#000" stroke-width="4.2" stroke-linejoin="round" stroke-linecap="round" />
<polyline points="150.7,620.3 151.8,620.3 153.0,620.3 154.2,620.3 155.3,620.3 156.5,620.4 157.6,620.4 158.8,620.4 159.9,620.5 161.1,620.5 162.2,620.6 163.4,620.6 164.5,620.7 165.7,620.7 166.8,620.8 168.0,620.8 169.1,620.9 170.3,621.0 171.4,621.1 172.6,621.2 173.7,621.4 174.9,621.6 176.0,621.8 177.2,622.0 178.3,622.2 179.5,622.4 180.6,622.6 181.8,622.9 182.9,623.1 184.1,623.4 185.2,623.6 186.4,623.9 187.5,624.2 188.7,624.4 189.8,624.7 191.0,625.0 192.1,625.2 193.3,625.6 194.4,625.9 195.6,626.2 196.7,626.6 197.9,626.9 199.0,627.2 200.2,627.5 201.3,627.9 202.5,628.2 203.6,628.5 204.8,628.9 205.9,629.1 207.1,629.3 208.2,629.4 209.4,629.3 210.5,628.9 211.7,628.3 212.8,627.7 214.0,627.0 215.1,626.3 216.3,625.5 217.4,624.6 218.6,623.6 219.7,622.6 220.9,621.6 222.0,620.5 223.2,619.4 224.3,618.2 225.5,617.1 226.6,616.0 227.8,614.9 228.9,613.8 230.1,612.5 231.2,611.0 232.4,609.1 233.5,606.8 234.7,604.3 235.8,601.5 237.0,598.5 238.1,595.1 239.3,591.3 240.4,587.0 241.6,581.8 242.7,576.0 243.9,570.3 245.0,564.4 246.2,558.3 247.3,551.8 248.5,544.7 249.6,537.4 250.8,530.5 251.9,523.6 253.1,517.0 254.2,510.7 255.4,504.7 256.5,500.2 257.7,496.8 258.8,495.0 260.0,493.8 261.1,493.2 262.3,493.6 263.4,495.4 264.6,497.6 265.7,500.4 266.9,503.8 268.0,507.7 269.2,512.4 270.3,517.2 271.5,521.8 272.6,526.5 273.8,531.0 274.9,535.5 276.1,540.0 277.2,544.3 278.4,548.5 279.5,552.5 280.7,556.6 281.8,560.3 283.0,563.6 284.1,566.3 285.3,568.8 286.4,571.1 287.6,573.1 288.7,575.0 289.9,576.8 291.0,578.4 292.2,579.6 293.3,580.7 294.5,581.7 295.6,582.5 296.8,583.2 297.9,583.7 299.1,584.1 300.2,584.5 301.4,584.8 302.5,585.1 303.7,585.2 304.8,585.4 306.0,585.5 307.1,585.6 308.3,585.7 309.4,585.8 310.6,585.9 311.7,585.9 312.9,586.0 314.0,586.0 315.2,586.0 316.3,586.0 317.5,586.0 318.6,586.0 319.8,586.0 320.9,585.9 322.1,585.9 323.2,585.9 324.4,585.9 325.5,585.9 326.7,585.9 327.8,586.0 329.0,586.1 330.1,586.2 331.3,586.3 332.4,586.5 333.6,586.7 334.7,586.9 335.9,587.1 337.0,587.3 338.2,587.5 339.3,587.7 340.5,587.9 341.6,588.1 342.8,588.4 343.9,588.6 345.1,588.9 346.2,589.2 347.4,589.5 348.5,589.7 349.7,590.1 350.8,590.4 352.0,590.7 353.1,591.1 354.3,591.5 355.4,591.9 356.6,592.3 357.7,592.7 358.9,593.1 360.0,593.5 361.2,593.9 362.3,594.3 363.5,594.8 364.6,595.2 365.8,595.6 366.9,596.1 368.1,596.5 369.2,596.9 370.4,597.4 371.5,597.8 372.7,598.2 373.8,598.6 375.0,599.0 376.1,599.4 377.3,599.7 378.4,600.1 379.6,600.5 380.7,600.8 381.9,601.2 383.0,601.5 384.2,601.8 385.3,602.1 386.5,602.4 387.6,602.6 388.8,602.9 389.9,603.2 391.1,603.4 392.2,603.6 393.4,603.9 394.5,604.1 395.7,604.3 396.8,604.5 398.0,604.7 399.1,604.9 400.3,605.1 401.4,605.3 402.6,605.4 403.7,605.6 404.9,605.8 406.0,605.9 407.2,606.1 408.3,606.2 409.5,606.4 410.6,606.5 411.8,606.7 412.9,606.8 414.1,606.9 415.2,607.1 416.4,607.2 417.5,607.3 418.7,607.4 419.8,607.5 421.0,607.6 422.1,607.7 423.3,607.7 424.4,607.8 425.6,607.9 426.7,608.0 427.9,608.0 429.0,608.1 430.2,608.2 431.3,608.3 432.5,608.3 433.6,608.4 434.8,608.5 435.9,608.5 437.1,608.6 438.2,608.7 439.4,608.8 440.5,608.8 441.7,608.9 442.8,609.0 444.0,609.0 445.1,609.1 446.3,609.2 447.4,609.3 448.6,609.3 449.7,609.4 450.9,609.5 452.0,609.5 453.2,609.6 454.3,609.7 455.5,609.7 456.6,609.8 457.8,609.9 458.9,609.9 460.1,610.0 461.2,610.1 462.4,610.1 463.5,610.2 464.7,610.3 465.8,610.3 467.0,610.4 468.1,610.4 469.3,610.5 470.4,610.6 471.6,610.6 472.7,610.7 473.9,610.7 475.0,610.8 476.2,610.9 477.3,610.9 478.5,611.0 479.6,611.0 480.8,611.1 481.9,611.1 483.1,611.2 484.2,611.3 485.4,611.3 486.5,611.4 487.7,611.4 488.8,611.5 490.0,611.5 491.1,611.6 492.3,611.7 493.4,611.7 494.6,611.8 495.7,611.8 496.9,611.9 498.0,611.9 499.2,612.0 500.3,612.1 501.5,612.1 502.6,612.2 503.8,612.2 504.9,612.3 506.1,612.3 507.2,612.4 508.4,612.5 509.5,612.5 510.7,612.6 511.8,612.6 513.0,612.7 514.1,612.7 515.3,612.8 516.4,612.9 517.6,612.9 518.7,613.0 519.9,613.0 521.0,613.1 522.2,613.2 523.3,613.2 524.5,613.3 525.6,613.3 526.8,613.4 527.9,613.4 529.1,613.5 530.2,613.6 531.4,613.6 532.5,613.7 533.7,613.7 534.8,613.8 536.0,613.8 537.1,613.9 538.3,614.0 539.4,614.0 540.6,614.1 541.7,614.1 542.9,614.2 544.0,614.3 545.2,614.3 546.3,614.4 547.5,614.4 548.6,614.5 549.8,614.6 550.9,614.6 552.1,614.7 553.2,614.7 554.4,614.8 555.5,614.9 556.7,614.9 557.8,615.0 559.0,615.0 560.1,615.1 561.3,615.2 562.4,615.2 563.6,615.3" fill="none" stroke="#f6a620" stroke-width="2.6" stroke-linejoin="round" stroke-linecap="round" />
<polyline points="149.1,763.8 150.2,763.7 151.2,763.6 152.3,763.5 153.3,763.4 154.3,763.3 155.4,763.3 156.4,763.2 157.4,763.1 158.5,763.0 159.5,762.9 160.5,762.8 161.6,762.8 162.6,762.7 163.7,762.6 164.7,762.5 165.7,762.4 166.8,762.4 167.8,762.3 168.8,762.2 169.9,762.1 170.9,762.1 171.9,762.0 173.0,761.9 174.0,761.8 175.1,761.8 176.1,761.7 177.1,761.6 178.2,761.5 179.2,761.5 180.2,761.4 181.3,761.3 182.3,761.2 183.4,761.2 184.4,761.1 185.4,761.0 186.5,761.0 187.5,760.9 188.5,760.8 189.6,760.8 190.6,760.7 191.6,760.6 192.7,760.5 193.7,760.5 194.8,760.4 195.8,760.3 196.8,760.3 197.9,760.2 198.9,760.2 199.9,760.1 201.0,760.0 202.0,760.0 203.1,759.9 204.1,759.8 205.1,759.8 206.2,759.7 207.2,759.6 208.2,759.6 209.3,759.5 210.3,759.5 211.3,759.4 212.4,759.3 213.4,759.3 214.5,759.2 215.5,759.2 216.5,759.1 217.6,759.1 218.6,759.0 219.6,758.9 220.7,758.9 221.7,758.8 222.8,758.8 223.8,758.7 224.8,758.7 225.9,758.6 226.9,758.6 227.9,758.5 229.0,758.5 230.0,758.4 231.0,758.4 232.1,758.3 233.1,758.3 234.2,758.2 235.2,758.2 236.2,758.1 237.3,758.1 238.3,758.0 239.3,758.0 240.4,757.9 241.4,757.9 242.4,757.8 243.5,757.8 244.5,757.7 245.6,757.7 246.6,757.6 247.6,757.6 248.7,757.6 249.7,757.5 250.7,757.5 251.8,757.4 252.8,757.4 253.9,757.3 254.9,757.3 255.9,757.3 257.0,757.2 258.0,757.2 259.0,757.1 260.1,757.1 261.1,757.1 262.1,757.0 263.2,757.0 264.2,756.9 265.3,756.9 266.3,756.9 267.3,756.8 268.4,756.8 269.4,756.8 270.4,756.7 271.5,756.7 272.5,756.7 273.6,756.6 274.6,756.6 275.6,756.6 276.7,756.5 277.7,756.5 278.7,756.5 279.8,756.4 280.8,756.4 281.8,756.4 282.9,756.3 283.9,756.3 285.0,756.3 286.0,756.3 287.0,756.2 288.1,756.2 289.1,756.2 290.1,756.1 291.2,756.1 292.2,756.1 293.3,756.1 294.3,756.0 295.3,756.0 296.4,756.0 297.4,756.0 298.4,756.0 299.5,755.9 300.5,755.9 301.5,755.9 302.6,755.9 303.6,755.8 304.7,755.8 305.7,755.8 306.7,755.8 307.8,755.8 308.8,755.7 309.8,755.7 310.9,755.7 311.9,755.7 312.9,755.7 314.0,755.7 315.0,755.6 316.1,755.6 317.1,755.6 318.1,755.6 319.2,755.6 320.2,755.6 321.2,755.6 322.3,755.5 323.3,755.5 324.4,755.5 325.4,755.5 326.4,755.5 327.5,755.5 328.5,755.5 329.5,755.5 330.6,755.5 331.6,755.4 332.6,755.4 333.7,755.4 334.7,755.4 335.8,755.4 336.8,755.4 337.8,755.4 338.9,755.4 339.9,755.4 340.9,755.4 342.0,755.4 343.0,755.4 344.1,755.4 345.1,755.4 346.1,755.4 347.2,755.4 348.2,755.4 349.2,755.4 350.3,755.4 351.3,755.4 352.3,755.4 353.4,755.4 354.4,755.4 355.5,755.4 356.5,755.4 357.5,755.4 358.6,755.4 359.6,755.4 360.6,755.4 361.7,755.4 362.7,755.4 363.8,755.4 364.8,755.4 365.8,755.4 366.9,755.4 367.9,755.4 368.9,755.4 370.0,755.4 371.0,755.4 372.0,755.4 373.1,755.4 374.1,755.5 375.2,755.5 376.2,755.5 377.2,755.5 378.3,755.5 379.3,755.5 380.3,755.5 381.4,755.5 382.4,755.5 383.5,755.6 384.5,755.6 385.5,755.6 386.6,755.6 387.6,755.6 388.6,755.6 389.7,755.6 390.7,755.7 391.7,755.7 392.8,755.7 393.8,755.7 394.9,755.7 395.9,755.7 396.9,755.8 398.0,755.8 399.0,755.8 400.0,755.8 401.1,755.8 402.1,755.9 403.1,755.9 404.2,755.9 405.2,755.9 406.3,755.9 407.3,756.0 408.3,756.0 409.4,756.0 410.4,756.0 411.4,756.1 412.5,756.1 413.5,756.1 414.6,756.1 415.6,756.2 416.6,756.2 417.7,756.2 418.7,756.3 419.7,756.3 420.8,756.3 421.8,756.3 422.8,756.4 423.9,756.4 424.9,756.4 426.0,756.5 427.0,756.5 428.0,756.5 429.1,756.6 430.1,756.6 431.1,756.6 432.2,756.7 433.2,756.7 434.3,756.7 435.3,756.8 436.3,756.8 437.4,756.8 438.4,756.9 439.4,756.9 440.5,756.9 441.5,757.0 442.5,757.0 443.6,757.0 444.6,757.1 445.7,757.1 446.7,757.2 447.7,757.2 448.8,757.2 449.8,757.3 450.8,757.3 451.9,757.4 452.9,757.4 454.0,757.5 455.0,757.5 456.0,757.5 457.1,757.6 458.1,757.6 459.1,757.7 460.2,757.7 461.2,757.8 462.2,757.8 463.3,757.9 464.3,757.9 465.4,757.9 466.4,758.0 467.4,758.0 468.5,758.1 469.5,758.1 470.5,758.2 471.6,758.2 472.6,758.3 473.6,758.3 474.7,758.4 475.7,758.4 476.8,758.5 477.8,758.6 478.8,758.6 479.9,758.7 480.9,758.7 481.9,758.8 483.0,758.8 484.0,758.9 485.1,758.9 486.1,759.0 487.1,759.0 488.2,759.1 489.2,759.2 490.2,759.2 491.3,759.3 492.3,759.3 493.3,759.4 494.4,759.5 495.4,759.5 496.5,759.6 497.5,759.6 498.5,759.7 499.6,759.8 500.6,759.8 501.6,759.9 502.7,759.9 503.7,760.0 504.8,760.1 505.8,760.1 506.8,760.2 507.9,760.3 508.9,760.3 509.9,760.4 511.0,760.5 512.0,760.5 513.0,760.6 514.1,760.7 515.1,760.7 516.2,760.8 517.2,760.9 518.2,760.9 519.3,761.0 520.3,761.1 521.3,761.2 522.4,761.2 523.4,761.3 524.5,761.4 525.5,761.4 526.5,761.5 527.6,761.6 528.6,761.7 529.6,761.7 530.7,761.8 531.7,761.9 532.7,762.0 533.8,762.0 534.8,762.1 535.9,762.2 536.9,762.3 537.9,762.3 539.0,762.4 540.0,762.5 541.0,762.6 542.1,762.7 543.1,762.7 544.2,762.8 545.2,762.9 546.2,763.0 547.3,763.1 548.3,763.2 549.3,763.2 550.4,763.3 551.4,763.4 552.4,763.5 553.5,763.6 554.5,763.7 555.6,763.7 556.6,763.8 557.6,763.9 558.7,764.0 559.7,764.1 560.7,764.2 561.8,764.3 562.8,764.3" fill="none" stroke="#128c1e" stroke-width="3.6" stroke-linejoin="round" stroke-linecap="round" />
<polyline points="149.1,790.2 150.2,790.2 151.2,790.2 152.3,790.2 153.3,790.2 154.3,790.2 155.4,790.1 156.4,790.1 157.4,790.1 158.5,790.1 159.5,790.1 160.5,790.0 161.6,790.0 162.6,790.0 163.7,790.0 164.7,790.0 165.7,790.0 166.8,789.9 167.8,789.9 168.8,789.9 169.9,789.9 170.9,789.8 171.9,789.8 173.0,789.8 174.0,789.8 175.1,789.8 176.1,789.7 177.1,789.7 178.2,789.7 179.2,789.7 180.2,789.6 181.3,789.6 182.3,789.6 183.4,789.6 184.4,789.5 185.4,789.5 186.5,789.5 187.5,789.4 188.5,789.4 189.6,789.4 190.6,789.3 191.6,789.3 192.7,789.3 193.7,789.3 194.8,789.2 195.8,789.2 196.8,789.1 197.9,789.1 198.9,789.1 199.9,789.0 201.0,789.0 202.0,789.0 203.1,788.9 204.1,788.9 205.1,788.8 206.2,788.8 207.2,788.8 208.2,788.7 209.3,788.7 210.3,788.6 211.3,788.6 212.4,788.5 213.4,788.5 214.5,788.4 215.5,788.4 216.5,788.3 217.6,788.3 218.6,788.2 219.6,788.2 220.7,788.1 221.7,788.0 222.8,788.0 223.8,787.9 224.8,787.9 225.9,787.8 226.9,787.7 227.9,787.7 229.0,787.6 230.0,787.5 231.0,787.5 232.1,787.4 233.1,787.3 234.2,787.2 235.2,787.2 236.2,787.1 237.3,787.0 238.3,786.9 239.3,786.8 240.4,786.7 241.4,786.6 242.4,786.5 243.5,786.4 244.5,786.3 245.6,786.2 246.6,786.1 247.6,786.0 248.7,785.9 249.7,785.8 250.7,785.7 251.8,785.6 252.8,785.5 253.9,785.3 254.9,785.2 255.9,785.1 257.0,784.9 258.0,784.8 259.0,784.7 260.1,784.5 261.1,784.4 262.1,784.2 263.2,784.1 264.2,783.9 265.3,783.7 266.3,783.6 267.3,783.4 268.4,783.2 269.4,783.0 270.4,782.9 271.5,782.7 272.5,782.5 273.6,782.3 274.6,782.1 275.6,781.9 276.7,781.6 277.7,781.4 278.7,781.2 279.8,781.0 280.8,780.8 281.8,780.5 282.9,780.3 283.9,780.0 285.0,779.8 286.0,779.5 287.0,779.3 288.1,779.0 289.1,778.8 290.1,778.5 291.2,778.2 292.2,777.9 293.3,777.7 294.3,777.4 295.3,777.1 296.4,776.8 297.4,776.6 298.4,776.3 299.5,776.0 300.5,775.7 301.5,775.4 302.6,775.2 303.6,774.9 304.7,774.6 305.7,774.4 306.7,774.1 307.8,773.9 308.8,773.7 309.8,773.4 310.9,773.2 311.9,773.0 312.9,772.8 314.0,772.6 315.0,772.4 316.1,772.3 317.1,772.2 318.1,772.0 319.2,771.9 320.2,771.8 321.2,771.8 322.3,771.7 323.3,771.7 324.4,771.6 325.4,771.6 326.4,771.7 327.5,771.7 328.5,771.7 329.5,771.8 330.6,771.9 331.6,772.0 332.6,772.1 333.7,772.3 334.7,772.4 335.8,772.6 336.8,772.8 337.8,773.0 338.9,773.2 339.9,773.4 340.9,773.6 342.0,773.9 343.0,774.1 344.1,774.3 345.1,774.6 346.1,774.9 347.2,775.1 348.2,775.4 349.2,775.7 350.3,776.0 351.3,776.2 352.3,776.5 353.4,776.8 354.4,777.1 355.5,777.4 356.5,777.6 357.5,777.9 358.6,778.2 359.6,778.4 360.6,778.7 361.7,779.0 362.7,779.2 363.8,779.5 364.8,779.7 365.8,780.0 366.9,780.2 367.9,780.5 368.9,780.7 370.0,780.9 371.0,781.2 372.0,781.4 373.1,781.6 374.1,781.8 375.2,782.0 376.2,782.2 377.2,782.4 378.3,782.6 379.3,782.8 380.3,783.0 381.4,783.2 382.4,783.4 383.5,783.5 384.5,783.7 385.5,783.9 386.6,784.0 387.6,784.2 388.6,784.3 389.7,784.5 390.7,784.6 391.7,784.8 392.8,784.9 393.8,785.1 394.9,785.2 395.9,785.3 396.9,785.4 398.0,785.6 399.0,785.7 400.0,785.8 401.1,785.9 402.1,786.0 403.1,786.1 404.2,786.2 405.2,786.3 406.3,786.4 407.3,786.5 408.3,786.6 409.4,786.7 410.4,786.8 411.4,786.9 412.5,787.0 413.5,787.1 414.6,787.1 415.6,787.2 416.6,787.3 417.7,787.4 418.7,787.4 419.7,787.5 420.8,787.6 421.8,787.7 422.8,787.7 423.9,787.8 424.9,787.9 426.0,787.9 427.0,788.0 428.0,788.0 429.1,788.1 430.1,788.2 431.1,788.2 432.2,788.3 433.2,788.3 434.3,788.4 435.3,788.4 436.3,788.5 437.4,788.5 438.4,788.6 439.4,788.6 440.5,788.7 441.5,788.7 442.5,788.8 443.6,788.8 444.6,788.8 445.7,788.9 446.7,788.9 447.7,789.0 448.8,789.0 449.8,789.0 450.8,789.1 451.9,789.1 452.9,789.1 454.0,789.2 455.0,789.2 456.0,789.2 457.1,789.3 458.1,789.3 459.1,789.3 460.2,789.4 461.2,789.4 462.2,789.4 463.3,789.5 464.3,789.5 465.4,789.5 466.4,789.5 467.4,789.6 468.5,789.6 469.5,789.6 470.5,789.7 471.6,789.7 472.6,789.7 473.6,789.7 474.7,789.8 475.7,789.8 476.8,789.8 477.8,789.8 478.8,789.8 479.9,789.9 480.9,789.9 481.9,789.9 483.0,789.9 484.0,789.9 485.1,790.0 486.1,790.0 487.1,790.0 488.2,790.0 489.2,790.0 490.2,790.1 491.3,790.1 492.3,790.1 493.3,790.1 494.4,790.1 495.4,790.1 496.5,790.2 497.5,790.2 498.5,790.2 499.6,790.2 500.6,790.2 501.6,790.2 502.7,790.3 503.7,790.3 504.8,790.3 505.8,790.3 506.8,790.3 507.9,790.3 508.9,790.3 509.9,790.4 511.0,790.4 512.0,790.4 513.0,790.4 514.1,790.4 515.1,790.4 516.2,790.4 517.2,790.4 518.2,790.5 519.3,790.5 520.3,790.5 521.3,790.5 522.4,790.5 523.4,790.5 524.5,790.5 525.5,790.5 526.5,790.5 527.6,790.6 528.6,790.6 529.6,790.6 530.7,790.6 531.7,790.6 532.7,790.6 533.8,790.6 534.8,790.6 535.9,790.6 536.9,790.6 537.9,790.7 539.0,790.7 540.0,790.7 541.0,790.7 542.1,790.7 543.1,790.7 544.2,790.7 545.2,790.7 546.2,790.7 547.3,790.7 548.3,790.7 549.3,790.7 550.4,790.8 551.4,790.8 552.4,790.8 553.5,790.8 554.5,790.8 555.6,790.8 556.6,790.8 557.6,790.8 558.7,790.8 559.7,790.8 560.7,790.8 561.8,790.8 562.8,790.8" fill="none" stroke="#e8141c" stroke-width="3.6" stroke-linejoin="round" stroke-linecap="round" />
<polyline points="149.1,787.7 150.2,787.6 151.2,787.6 152.3,787.5 153.3,787.4 154.3,787.3 155.4,787.3 156.4,787.2 157.4,787.1 158.5,787.0 159.5,787.0 160.5,786.9 161.6,786.8 162.6,786.7 163.7,786.6 164.7,786.5 165.7,786.4 166.8,786.3 167.8,786.2 168.8,786.1 169.9,786.0 170.9,785.9 171.9,785.7 173.0,785.6 174.0,785.5 175.1,785.3 176.1,785.2 177.1,785.1 178.2,784.9 179.2,784.8 180.2,784.6 181.3,784.4 182.3,784.3 183.4,784.1 184.4,783.9 185.4,783.7 186.5,783.5 187.5,783.3 188.5,783.1 189.6,782.9 190.6,782.6 191.6,782.4 192.7,782.1 193.7,781.9 194.8,781.6 195.8,781.3 196.8,781.0 197.9,780.7 198.9,780.4 199.9,780.0 201.0,779.7 202.0,779.3 203.1,778.9 204.1,778.5 205.1,778.1 206.2,777.6 207.2,777.1 208.2,776.6 209.3,776.1 210.3,775.5 211.3,774.9 212.4,774.3 213.4,773.7 214.5,773.0 215.5,772.2 216.5,771.5 217.6,770.6 218.6,769.8 219.6,768.9 220.7,767.9 221.7,766.8 222.8,765.7 223.8,764.6 224.8,763.3 225.9,762.0 226.9,760.5 227.9,759.0 229.0,757.4 230.0,755.7 231.0,753.8 232.1,751.8 233.1,749.7 234.2,747.4 235.2,745.0 236.2,742.4 237.3,739.6 238.3,736.6 239.3,733.4 240.4,730.0 241.4,726.4 242.4,722.6 243.5,718.5 244.5,714.3 245.6,709.8 246.6,705.1 247.6,700.2 248.7,695.2 249.7,690.1 250.7,685.1 251.8,680.0 252.8,675.2 253.9,670.6 254.9,666.4 255.9,662.6 257.0,659.6 258.0,657.2 259.0,655.6 260.1,655.0 261.1,655.2 262.1,656.3 263.2,658.2 264.2,661.0 265.3,664.4 266.3,668.3 267.3,672.7 268.4,677.5 269.4,682.4 270.4,687.5 271.5,692.6 272.5,697.6 273.6,702.6 274.6,707.4 275.6,712.0 276.7,716.3 277.7,720.5 278.7,724.5 279.8,728.2 280.8,731.7 281.8,735.0 282.9,738.1 283.9,741.0 285.0,743.7 286.0,746.2 287.0,748.5 288.1,750.7 289.1,752.8 290.1,754.7 291.2,756.5 292.2,758.2 293.3,759.8 294.3,761.2 295.3,762.6 296.4,763.9 297.4,765.1 298.4,766.3 299.5,767.3 300.5,768.4 301.5,769.3 302.6,770.2 303.6,771.0 304.7,771.8 305.7,772.6 306.7,773.3 307.8,774.0 308.8,774.6 309.8,775.2 310.9,775.8 311.9,776.4 312.9,776.9 314.0,777.4 315.0,777.8 316.1,778.3 317.1,778.7 318.1,779.1 319.2,779.5 320.2,779.9 321.2,780.2 322.3,780.5 323.3,780.9 324.4,781.2 325.4,781.5 326.4,781.7 327.5,782.0 328.5,782.3 329.5,782.5 330.6,782.8 331.6,783.0 332.6,783.2 333.7,783.4 334.7,783.6 335.8,783.8 336.8,784.0 337.8,784.2 338.9,784.4 339.9,784.5 340.9,784.7 342.0,784.8 343.0,785.0 344.1,785.1 345.1,785.3 346.1,785.4 347.2,785.5 348.2,785.7 349.2,785.8 350.3,785.9 351.3,786.0 352.3,786.1 353.4,786.2 354.4,786.3 355.5,786.4 356.5,786.5 357.5,786.6 358.6,786.7 359.6,786.8 360.6,786.9 361.7,787.0 362.7,787.1 363.8,787.2 364.8,787.2 365.8,787.3 366.9,787.4 367.9,787.4 368.9,787.5 370.0,787.6 371.0,787.6 372.0,787.7 373.1,787.8 374.1,787.8 375.2,787.9 376.2,787.9 377.2,788.0 378.3,788.1 379.3,788.1 380.3,788.2 381.4,788.2 382.4,788.3 383.5,788.3 384.5,788.4 385.5,788.4 386.6,788.4 387.6,788.5 388.6,788.5 389.7,788.6 390.7,788.6 391.7,788.7 392.8,788.7 393.8,788.7 394.9,788.8 395.9,788.8 396.9,788.8 398.0,788.9 399.0,788.9 400.0,788.9 401.1,789.0 402.1,789.0 403.1,789.0 404.2,789.1 405.2,789.1 406.3,789.1 407.3,789.1 408.3,789.2 409.4,789.2 410.4,789.2 411.4,789.3 412.5,789.3 413.5,789.3 414.6,789.3 415.6,789.4 416.6,789.4 417.7,789.4 418.7,789.4 419.7,789.4 420.8,789.5 421.8,789.5 422.8,789.5 423.9,789.5 424.9,789.6 426.0,789.6 427.0,789.6 428.0,789.6 429.1,789.6 430.1,789.6 431.1,789.7 432.2,789.7 433.2,789.7 434.3,789.7 435.3,789.7 436.3,789.8 437.4,789.8 438.4,789.8 439.4,789.8 440.5,789.8 441.5,789.8 442.5,789.8 443.6,789.9 444.6,789.9 445.7,789.9 446.7,789.9 447.7,789.9 448.8,789.9 449.8,789.9 450.8,790.0 451.9,790.0 452.9,790.0 454.0,790.0 455.0,790.0 456.0,790.0 457.1,790.0 458.1,790.0 459.1,790.1 460.2,790.1 461.2,790.1 462.2,790.1 463.3,790.1 464.3,790.1 465.4,790.1 466.4,790.1 467.4,790.1 468.5,790.2 469.5,790.2 470.5,790.2 471.6,790.2 472.6,790.2 473.6,790.2 474.7,790.2 475.7,790.2 476.8,790.2 477.8,790.2 478.8,790.2 479.9,790.3 480.9,790.3 481.9,790.3 483.0,790.3 484.0,790.3 485.1,790.3 486.1,790.3 487.1,790.3 488.2,790.3 489.2,790.3 490.2,790.3 491.3,790.3 492.3,790.3 493.3,790.4 494.4,790.4 495.4,790.4 496.5,790.4 497.5,790.4 498.5,790.4 499.6,790.4 500.6,790.4 501.6,790.4 502.7,790.4 503.7,790.4 504.8,790.4 505.8,790.4 506.8,790.4 507.9,790.4 508.9,790.5 509.9,790.5 511.0,790.5 512.0,790.5 513.0,790.5 514.1,790.5 515.1,790.5 516.2,790.5 517.2,790.5 518.2,790.5 519.3,790.5 520.3,790.5 521.3,790.5 522.4,790.5 523.4,790.5 524.5,790.5 525.5,790.5 526.5,790.5 527.6,790.5 528.6,790.6 529.6,790.6 530.7,790.6 531.7,790.6 532.7,790.6 533.8,790.6 534.8,790.6 535.9,790.6 536.9,790.6 537.9,790.6 539.0,790.6 540.0,790.6 541.0,790.6 542.1,790.6 543.1,790.6 544.2,790.6 545.2,790.6 546.2,790.6 547.3,790.6 548.3,790.6 549.3,790.6 550.4,790.6 551.4,790.6 552.4,790.6 553.5,790.7 554.5,790.7 555.6,790.7 556.6,790.7 557.6,790.7 558.7,790.7 559.7,790.7 560.7,790.7 561.8,790.7 562.8,790.7" fill="none" stroke="#162a9c" stroke-width="3.6" stroke-linejoin="round" stroke-linecap="round" />
<text font-family="'DejaVu Serif', 'Liberation Serif', serif" fill="#1c1ce0"><tspan x="359.5" y="702" font-size="27" font-style="italic">χ</tspan><tspan x="379.5" y="686" font-size="19">(3)</tspan><tspan x="380.0" y="708" font-size="16.5" font-style="italic">CH<tspan dy="2.5" font-style="normal" font-size="15.5">3</tspan><tspan dy="-2.5">;</tspan></tspan></text>
<text font-family="'DejaVu Serif', 'Liberation Serif', serif" fill="#e41c1c"><tspan x="435.5" y="702" font-size="27" font-style="italic">χ</tspan><tspan x="455.5" y="686" font-size="19">(3)</tspan><tspan x="456.0" y="708" font-size="16.5" font-style="italic">CH<tspan dy="2.5" font-style="normal" font-size="15.5">2</tspan><tspan dy="-2.5">;</tspan></tspan></text>
<text font-family="'DejaVu Serif', 'Liberation Serif', serif" fill="#1e8c1e"><tspan x="511.5" y="702" font-size="27" font-style="italic">χ</tspan><tspan x="531.5" y="686" font-size="19">(3)</tspan><tspan x="532.0" y="708" font-size="16.5" font-style="italic">NR</tspan></text>
<text x="648.0" y="519.0" font-size="50" fill="#000" text-anchor="start" font-family="'Liberation Sans', Arial, sans-serif" >E</text>
<line x1="789.7" y1="505.0" x2="789.7" y2="801.9" stroke="#262626" stroke-width="1.3" />
<line x1="789.7" y1="801.9" x2="1232.2" y2="801.9" stroke="#262626" stroke-width="1.3" />
<line x1="789.7" y1="801.9" x2="793.7" y2="801.9" stroke="#262626" stroke-width="1.2" />
<text x="778.5" y="811.7" font-size="24.5" fill="#404040" text-anchor="end" font-family="'Liberation Sans', Arial, sans-serif" >0</text>
<line x1="789.7" y1="727.6" x2="793.7" y2="727.6" stroke="#262626" stroke-width="1.2" />
<text x="778.5" y="737.4" font-size="24.5" fill="#404040" text-anchor="end" font-family="'Liberation Sans', Arial, sans-serif" >500</text>
<line x1="789.7" y1="653.4" x2="793.7" y2="653.4" stroke="#262626" stroke-width="1.2" />
<text x="778.5" y="663.2" font-size="24.5" fill="#404040" text-anchor="end" font-family="'Liberation Sans', Arial, sans-serif" >1000</text>
<line x1="789.7" y1="579.1" x2="793.7" y2="579.1" stroke="#262626" stroke-width="1.2" />
<text x="778.5" y="588.9" font-size="24.5" fill="#404040" text-anchor="end" font-family="'Liberation Sans', Arial, sans-serif" >1500</text>
<line x1="789.7" y1="504.9" x2="793.7" y2="504.9" stroke="#262626" stroke-width="1.2" />
<text x="778.5" y="514.7" font-size="24.5" fill="#404040" text-anchor="end" font-family="'Liberation Sans', Arial, sans-serif" >2000</text>
<line x1="789.7" y1="801.9" x2="789.7" y2="797.9" stroke="#262626" stroke-width="1.2" />
<text x="789.7" y="838.5" font-size="24.5" fill="#404040" text-anchor="middle" font-family="'Liberation Sans', Arial, sans-serif" >0</text>
<line x1="878.2" y1="801.9" x2="878.2" y2="797.9" stroke="#262626" stroke-width="1.2" />
<text x="878.2" y="838.5" font-size="24.5" fill="#404040" text-anchor="middle" font-family="'Liberation Sans', Arial, sans-serif" >200</text>
<line x1="966.7" y1="801.9" x2="966.7" y2="797.9" stroke="#262626" stroke-width="1.2" />
<text x="966.7" y="838.5" font-size="24.5" fill="#404040" text-anchor="middle" font-family="'Liberation Sans', Arial, sans-serif" >400</text>
<line x1="1055.2" y1="801.9" x2="1055.2" y2="797.9" stroke="#262626" stroke-width="1.2" />
<text x="1055.2" y="838.5" font-size="24.5" fill="#404040" text-anchor="middle" font-family="'Liberation Sans', Arial, sans-serif" >600</text>
<line x1="1143.7" y1="801.9" x2="1143.7" y2="797.9" stroke="#262626" stroke-width="1.2" />
<text x="1143.7" y="838.5" font-size="24.5" fill="#404040" text-anchor="middle" font-family="'Liberation Sans', Arial, sans-serif" >800</text>
<line x1="1232.2" y1="801.9" x2="1232.2" y2="797.9" stroke="#262626" stroke-width="1.2" />
<text x="1232.2" y="838.5" font-size="24.5" fill="#404040" text-anchor="middle" font-family="'Liberation Sans', Arial, sans-serif" >1000</text>
<text x="918.0" y="873.6" font-size="27" fill="#404040" text-anchor="start" font-family="'Liberation Sans', Arial, sans-serif" >CH<tspan dy="13" font-size="18.5">3</tspan><tspan dy="-13"> Peak Area</tspan></text>
<text x="696.5" y="654.0" font-size="27" fill="#404040" text-anchor="middle" font-family="'Liberation Sans', Arial, sans-serif" transform="rotate(-90 696.5 654)">CH<tspan dy="13" font-size="18.5">2</tspan><tspan dy="-13"> Peak Area</tspan></text>
<path d="M949.2 779.6h0M918.9 760.5h0M873.7 792.9h0M907.1 756.8h0M967.9 782.3h0M836.3 800.7h0M1065.9 759.3h0M862.9 783.1h0M971.8 756.1h0M872.8 772.9h0M912.1 751.1h0M931.2 796.5h0M875.1 768.2h0M960.7 766.4h0M855.9 791.7h0M962.2 788.5h0M952.0 766.3h0M939.7 775.0h0M936.0 778.4h0M899.8 759.1h0M862.4 779.5h0M927.8 769.5h0M904.3 757.0h0M1051.0 784.9h0M1024.0 801.0h0M877.2 771.6h0M930.2 744.0h0M877.8 797.9h0M879.4 781.1h0M975.1 758.2h0M918.0 776.4h0M920.8 781.2h0M889.5 784.2h0M973.5 787.2h0M912.8 784.4h0M963.3 739.1h0M903.9 793.3h0M936.9 782.8h0M1034.4 788.2h0M977.6 756.3h0M981.7 760.5h0M960.7 778.2h0M836.7 793.9h0M898.9 789.6h0M995.8 776.5h0M846.2 776.8h0M904.2 783.6h0M912.7 772.2h0M860.2 774.1h0M847.6 795.4h0M988.1 756.4h0M952.6 760.2h0M995.2 755.4h0M908.6 780.3h0M1034.7 749.2h0M862.9 793.8h0M917.6 793.9h0M869.8 769.7h0M1041.5 769.4h0M976.8 793.5h0M827.2 800.5h0M878.7 755.0h0M864.5 791.9h0M851.5 778.5h0M1042.4 788.1h0M946.4 770.0h0M890.7 787.0h0M937.9 779.4h0M882.5 765.8h0M863.0 776.9h0M963.8 762.6h0M896.2 801.8h0M1016.4 778.3h0M1061.0 787.3h0M884.9 772.7h0M962.2 768.8h0M914.7 762.4h0M992.0 757.9h0M878.3 781.7h0M898.1 763.1h0M926.8 776.4h0M954.5 766.9h0M954.6 765.0h0M904.0 779.1h0M890.8 773.7h0M923.8 774.0h0M987.8 787.5h0M914.6 795.2h0M1009.7 781.1h0M860.2 789.8h0M895.2 776.1h0M984.7 771.4h0M913.7 766.0h0M971.6 792.1h0M882.2 782.7h0M887.1 771.4h0M878.6 775.6h0M1001.8 758.6h0M861.9 782.1h0M928.7 787.3h0M932.1 776.2h0M885.7 788.7h0M900.7 780.9h0M965.8 790.6h0M886.8 796.4h0M920.0 747.5h0M912.3 800.7h0M834.8 789.3h0M954.6 775.2h0M1049.2 734.2h0M901.8 771.4h0M1120.3 754.9h0M868.9 788.1h0M847.9 787.8h0M937.5 759.5h0M940.4 779.1h0M875.6 761.7h0M904.2 797.9h0M872.0 788.8h0M912.6 779.5h0M1006.5 758.8h0M858.9 798.2h0M905.0 773.6h0M1000.3 779.2h0M893.9 768.0h0M1029.8 790.7h0M863.7 785.2h0M873.4 797.6h0M956.3 770.5h0M883.9 776.0h0M1004.4 779.5h0M900.8 793.9h0M923.5 800.1h0M864.0 792.2h0M1013.4 762.4h0M882.7 795.5h0M912.4 751.8h0M1023.5 755.8h0M1045.1 749.9h0M878.7 772.6h0M920.7 759.9h0M961.0 780.4h0M1039.8 751.7h0M942.5 770.3h0M915.6 796.2h0M975.0 765.5h0M925.0 739.7h0M904.6 778.6h0M992.8 772.6h0M904.5 777.3h0M866.0 767.0h0M861.3 759.4h0M861.1 793.3h0M897.6 776.1h0M1007.2 772.0h0M993.8 787.3h0M1075.7 757.0h0M946.5 761.6h0M945.3 782.0h0M976.8 752.3h0M929.0 768.4h0M984.5 775.2h0M966.3 769.3h0M945.6 772.0h0M892.3 746.7h0M1051.9 744.0h0M897.9 768.2h0M899.7 789.9h0M895.1 790.3h0M868.1 784.8h0M986.5 767.5h0M1098.0 756.1h0M942.7 763.9h0M955.7 774.9h0M900.8 780.0h0M1034.8 735.6h0M958.4 778.7h0M815.4 790.3h0M946.4 784.1h0M859.9 798.3h0M1090.5 751.3h0M971.4 792.3h0M982.3 784.2h0M984.1 764.1h0M944.1 765.9h0M902.8 768.9h0M889.0 766.8h0M1052.9 750.8h0M985.0 766.1h0M858.7 793.1h0M899.5 774.6h0M855.9 784.8h0M1057.4 771.7h0M921.0 777.8h0M944.8 754.4h0M1083.7 754.3h0M965.4 777.2h0M929.6 765.6h0M1111.7 764.9h0M1094.4 786.3h0M999.6 750.5h0M859.7 794.8h0M940.7 798.6h0M931.9 778.9h0M824.6 795.4h0M853.3 792.7h0M832.0 793.6h0M968.9 771.6h0M916.0 795.1h0M857.7 764.0h0M853.4 776.9h0M997.9 781.8h0M1020.9 772.6h0M864.4 779.7h0M962.5 765.5h0M855.1 798.9h0M1049.0 790.2h0M907.1 777.9h0M922.7 781.8h0M991.2 772.6h0M927.5 791.2h0M873.2 771.8h0M959.3 767.2h0M965.6 759.7h0M1025.8 749.6h0M962.7 775.7h0M815.8 796.4h0M1048.0 794.9h0M944.9 767.2h0M934.0 755.0h0M864.1 779.0h0M1037.1 769.8h0M883.9 771.2h0M1010.7 751.9h0M910.6 757.7h0M992.0 767.0h0M913.8 785.5h0M1010.9 774.0h0M933.2 773.5h0M917.2 794.8h0M968.8 779.7h0M917.1 764.0h0M908.8 757.5h0M1032.5 743.2h0M860.7 799.2h0M902.2 762.6h0M943.5 762.0h0M915.2 791.4h0M837.7 782.5h0M969.2 759.1h0M852.1 792.0h0M1010.6 784.7h0M983.3 771.2h0M860.6 772.5h0M886.2 797.9h0M1011.5 781.9h0M864.9 789.5h0M1014.0 774.2h0M921.0 782.9h0M898.9 782.4h0M931.6 801.3h0M898.0 769.7h0M834.5 792.4h0M1051.3 763.0h0M972.9 760.7h0M972.0 769.6h0M941.1 777.7h0M862.1 763.4h0M1063.8 774.9h0M956.0 786.5h0M889.3 781.0h0M1020.7 764.2h0M903.8 779.1h0M825.6 795.7h0M898.8 795.8h0M1018.4 781.9h0M835.3 795.8h0M861.4 758.3h0M896.4 768.0h0M982.0 767.3h0M928.8 792.2h0M926.5 785.1h0M899.3 792.8h0M884.3 788.3h0M905.3 801.7h0M1007.8 750.0h0M849.7 796.5h0M840.6 777.8h0M1071.2 777.6h0M852.7 774.5h0M966.1 778.8h0M928.2 788.8h0M848.4 789.6h0M958.3 765.7h0M908.8 770.0h0M884.7 777.3h0M984.7 748.6h0M865.4 790.5h0M888.0 792.6h0M923.2 752.0h0M876.4 794.7h0M920.5 781.9h0M920.6 781.2h0M1079.8 761.4h0M1049.2 772.6h0M965.9 769.5h0M915.8 764.2h0M883.0 793.9h0M861.0 769.7h0M890.5 792.7h0M1029.7 744.8h0M871.4 777.1h0M896.3 784.7h0M877.1 779.7h0M885.6 781.7h0M999.6 791.5h0M917.8 773.3h0M1007.1 754.8h0M870.4 791.1h0M853.1 780.0h0M946.2 784.3h0M953.9 770.7h0M1038.4 740.2h0M991.8 781.9h0M873.0 783.4h0M897.9 787.7h0M1029.5 794.4h0M994.3 801.2h0M1062.6 775.2h0M953.4 775.3h0M934.0 783.9h0M835.6 785.0h0M946.4 767.9h0M862.0 783.8h0M937.7 786.6h0M873.7 772.6h0M988.4 790.4h0M957.2 776.0h0M903.2 793.0h0M1095.9 772.1h0M899.6 786.8h0M945.9 783.3h0M939.5 771.0h0M864.7 782.4h0M913.8 795.0h0M1040.8 761.0h0M915.1 766.3h0M967.3 775.8h0M891.3 771.8h0M914.8 797.4h0M984.7 753.5h0M893.2 783.9h0M879.3 786.4h0M869.1 800.4h0M950.6 759.0h0M874.3 786.7h0M1021.1 746.3h0M864.6 798.1h0M1086.2 756.9h0M927.6 789.5h0M977.8 780.3h0M913.8 780.1h0M949.2 773.4h0M1044.9 777.6h0M907.3 798.0h0M1008.1 773.3h0M937.3 794.8h0M886.0 760.4h0M953.2 773.0h0M914.9 769.6h0M851.6 792.5h0M891.5 784.7h0M1049.7 734.7h0M970.3 779.3h0M901.0 791.9h0M847.2 788.6h0M931.8 765.2h0M969.9 754.8h0M1003.8 775.1h0M886.8 772.8h0M875.9 774.1h0M1066.8 787.2h0M846.0 767.6h0M951.0 778.6h0M885.6 766.0h0M1027.5 754.5h0M909.2 786.6h0M993.6 740.9h0M831.6 791.2h0M849.8 800.8h0M1018.0 745.0h0M934.5 778.5h0M1007.4 785.7h0M865.7 789.9h0M953.5 760.8h0M829.4 797.4h0M1094.4 765.8h0M906.9 774.5h0M1021.2 746.0h0M952.1 790.8h0M937.2 790.2h0M928.8 783.0h0M1004.4 775.4h0M934.3 788.4h0M857.7 772.5h0M984.7 780.7h0M921.9 773.7h0M870.8 778.0h0M916.2 799.1h0M931.5 762.8h0M1036.1 766.9h0M968.0 769.9h0M877.3 782.4h0M934.9 800.9h0M836.8 795.9h0M936.7 752.2h0M878.3 785.0h0M916.5 793.1h0M829.2 785.3h0M1071.0 764.1h0M879.5 783.9h0M854.7 794.0h0M1060.5 761.9h0M1035.6 786.2h0M1048.1 796.6h0M1059.1 778.0h0M922.8 785.8h0M897.9 761.9h0M1050.3 792.5h0M989.6 775.4h0M946.6 740.7h0M853.5 768.3h0M836.3 784.6h0M909.7 783.3h0M866.2 781.6h0M1014.5 759.6h0M858.6 774.8h0M1008.9 773.3h0M995.9 799.1h0M902.3 791.9h0M930.4 798.5h0M1039.7 762.3h0M1082.4 777.1h0M877.3 782.6h0M877.3 801.1h0M947.4 768.1h0M891.3 784.5h0M886.0 798.1h0M923.0 801.9h0M849.0 789.5h0M926.3 762.0h0M905.9 791.8h0M972.7 770.1h0M1019.7 772.5h0M967.0 782.6h0M952.9 786.2h0M945.6 771.5h0M1015.3 773.0h0M876.5 782.8h0M915.1 773.2h0M922.8 771.6h0M873.0 774.9h0M925.2 785.9h0M915.8 800.5h0M909.5 792.1h0M924.1 762.1h0M957.1 794.9h0M1016.1 766.9h0M1005.0 760.0h0M834.1 789.8h0M835.8 780.2h0M924.1 757.1h0M903.4 767.5h0M986.0 745.7h0M948.5 769.4h0M1089.5 768.7h0M844.9 790.9h0M905.8 800.5h0M962.7 793.5h0M843.9 776.3h0M915.3 776.7h0M962.7 773.6h0M875.5 780.7h0M1023.5 773.5h0M859.7 801.1h0M869.1 767.9h0M904.2 788.9h0M892.0 794.3h0M898.2 786.9h0M933.3 774.2h0M910.6 763.3h0M903.0 792.3h0M910.4 778.8h0M873.2 769.5h0M1035.9 773.6h0M978.6 748.0h0M915.2 781.5h0M856.9 783.5h0M945.4 792.5h0M844.6 770.6h0M943.2 764.9h0M980.3 772.1h0M970.8 785.9h0M855.0 782.5h0M982.3 774.3h0M897.5 793.6h0M928.1 771.6h0M1006.1 790.2h0M865.3 783.4h0M862.1 759.7h0M863.3 781.3h0M930.8 798.6h0M963.8 783.0h0M859.4 775.3h0M942.6 784.8h0M890.9 774.4h0M924.7 789.9h0M983.1 775.0h0M971.9 775.6h0M853.6 798.4h0M958.1 757.9h0M918.6 763.8h0M857.7 795.0h0M876.4 800.7h0M987.5 792.0h0M949.5 755.9h0M902.4 789.9h0M859.1 800.9h0M875.9 793.4h0M929.0 749.3h0M879.4 758.6h0M951.7 780.0h0M982.0 771.7h0M890.7 763.8h0M1004.6 763.7h0M863.2 795.9h0M924.4 776.4h0M862.5 796.2h0M914.5 774.8h0M893.3 779.5h0M1014.2 775.3h0M942.0 795.3h0M855.9 770.8h0M934.0 770.9h0M981.8 791.7h0M986.9 770.3h0M990.7 782.4h0M884.5 783.6h0M837.2 793.5h0M837.9 781.7h0M1092.2 756.7h0M1009.1 785.5h0M887.2 783.5h0M1007.1 774.2h0M880.6 791.2h0M1058.2 770.3h0M1084.6 771.8h0M904.6 758.8h0M885.6 791.3h0M928.5 775.6h0M856.2 786.1h0M923.4 769.6h0M1016.1 770.6h0M937.7 792.5h0M847.2 796.4h0M877.6 794.6h0M887.7 774.6h0M945.0 780.6h0M851.3 782.7h0M943.9 776.6h0M926.4 791.5h0M893.2 774.0h0M851.3 771.9h0M923.1 788.2h0M877.9 777.0h0M938.7 779.2h0M1031.1 798.8h0M847.9 780.6h0M828.7 801.3h0M1034.5 777.7h0M918.7 755.4h0M859.9 783.1h0M867.0 788.2h0M968.1 775.7h0M1039.7 773.6h0M958.8 785.0h0M918.0 770.7h0M983.7 765.7h0M921.7 771.9h0M859.8 780.0h0M938.3 781.0h0M855.1 775.5h0M856.3 780.4h0M985.6 759.9h0M910.1 777.5h0M861.4 787.7h0M888.4 778.2h0M899.6 784.2h0M967.5 756.5h0M894.7 779.9h0M949.4 775.6h0M926.9 788.1h0M815.4 799.6h0M880.4 786.2h0M866.5 801.6h0M980.7 787.8h0M861.7 790.2h0M883.1 764.4h0M961.8 761.6h0M994.0 762.4h0M866.8 798.9h0M916.9 801.6h0M1015.2 797.0h0M935.0 759.7h0M892.2 760.0h0M845.4 793.8h0M955.8 762.2h0M939.2 779.3h0M898.4 794.7h0M957.2 795.2h0M892.1 794.1h0M910.1 776.3h0M1026.6 747.8h0M875.4 801.0h0M885.2 787.6h0M881.3 789.0h0M909.9 794.2h0M871.9 776.7h0M923.9 749.1h0M938.9 800.5h0M940.3 796.9h0M912.6 769.5h0M945.8 791.3h0M822.8 794.2h0M917.7 784.3h0M952.8 773.5h0M1005.9 792.0h0M900.3 772.7h0M845.2 779.7h0M910.5 793.6h0M873.0 798.6h0M827.3 795.0h0M868.8 777.4h0M1039.7 792.2h0M955.0 767.1h0M852.4 782.8h0M1039.8 751.7h0M877.2 789.2h0M931.2 791.5h0M944.7 793.1h0M982.6 784.7h0M963.2 768.5h0M806.4 794.6h0M869.0 768.9h0M968.7 763.4h0M859.1 794.3h0M938.6 793.6h0M946.7 766.0h0M939.1 800.3h0M877.8 790.2h0M858.7 797.2h0M916.5 777.4h0M1066.2 776.4h0M953.8 771.1h0M851.9 774.5h0M1020.0 773.0h0M889.7 784.0h0M979.1 782.4h0M952.2 780.7h0M954.2 777.6h0M957.0 773.7h0M1018.6 781.5h0M895.7 800.8h0M873.4 767.1h0M938.7 757.9h0M973.5 789.8h0M888.8 800.1h0M909.9 775.1h0M962.2 782.8h0M962.9 761.7h0M874.8 789.4h0M873.0 795.4h0M970.1 784.4h0M909.3 792.3h0M912.9 781.1h0M939.2 773.5h0M841.9 793.8h0M913.8 798.2h0M867.1 798.0h0M1027.6 774.2h0M850.9 771.7h0M895.8 787.7h0M959.5 767.9h0M922.4 780.0h0M886.8 765.2h0M891.2 792.4h0M1040.4 790.6h0M875.8 754.3h0M879.0 747.6h0M929.7 770.3h0M883.4 791.5h0M980.0 770.7h0M913.1 785.6h0M898.3 800.9h0M864.0 778.9h0M879.5 772.8h0M874.2 760.2h0M1083.7 798.6h0M840.6 800.6h0M955.8 788.5h0M973.6 793.2h0M866.7 778.6h0M839.3 788.4h0M1015.0 776.1h0M946.5 763.8h0M917.8 751.8h0M1030.1 771.7h0M1067.3 772.3h0M923.7 800.8h0M1008.1 784.2h0M999.2 774.9h0M959.3 774.0h0M899.4 791.1h0M919.7 787.4h0M957.8 775.0h0M882.9 791.1h0M894.8 762.1h0M910.6 800.5h0M899.3 763.3h0M937.5 789.5h0M971.5 784.2h0M836.1 777.7h0M1012.7 767.3h0M873.3 800.3h0M813.9 789.1h0M889.8 773.6h0M1022.5 750.2h0M862.2 787.4h0M867.9 773.7h0M944.1 767.1h0M916.4 769.9h0M935.7 773.1h0M1016.4 768.7h0M903.0 764.7h0M911.5 786.3h0M910.5 778.8h0M976.4 759.4h0M1068.8 752.5h0M974.1 771.1h0M982.5 756.4h0M868.8 766.5h0M865.6 769.2h0M954.9 789.8h0M881.8 785.4h0M1017.9 765.9h0M946.7 752.4h0M1056.1 773.0h0M957.4 785.0h0M1076.1 781.0h0M947.5 787.3h0M963.2 780.3h0M1015.4 746.6h0M1080.4 767.3h0M982.5 786.4h0M899.9 765.5h0M908.5 794.3h0M892.4 787.0h0M836.7 783.4h0M991.4 766.2h0M1003.6 745.8h0M983.3 798.3h0M923.8 751.8h0M903.5 769.3h0M978.4 777.4h0M947.0 763.9h0M884.8 760.2h0M906.3 784.4h0M869.1 785.1h0M914.8 757.9h0M911.5 765.5h0M962.9 773.5h0M937.8 770.3h0M928.5 800.9h0M910.9 777.0h0M916.6 790.7h0M994.9 771.8h0M855.0 796.2h0M956.3 771.7h0M936.6 793.3h0M998.1 760.9h0M946.0 795.0h0M866.2 799.0h0M881.9 792.4h0M858.0 790.7h0M909.2 798.7h0M981.9 791.5h0M974.4 754.6h0M874.3 789.2h0M955.2 787.9h0M1048.4 755.6h0M935.4 791.6h0M1055.4 757.7h0M846.7 793.2h0M956.3 773.1h0M977.5 759.0h0M854.7 772.4h0M878.1 784.7h0M888.6 757.9h0M1017.0 793.9h0M829.5 791.5h0M874.8 786.2h0M1067.6 752.4h0M1000.7 763.0h0M972.4 771.1h0M855.1 784.3h0M945.4 786.2h0M931.8 781.0h0M1025.8 771.0h0M961.7 771.7h0M955.1 754.0h0M917.1 767.4h0M832.7 786.4h0M909.1 794.8h0M861.3 789.1h0M852.7 796.1h0M875.2 794.9h0M966.6 789.9h0M898.2 784.6h0M1036.0 767.1h0M1059.2 753.7h0M966.7 793.8h0M848.7 779.6h0M905.5 798.0h0M981.8 795.4h0M926.0 764.6h0M859.1 792.2h0M989.2 755.2h0M976.3 776.1h0M930.3 790.3h0M904.9 798.2h0M934.4 799.3h0M955.8 768.2h0M956.4 771.2h0M899.2 780.8h0M883.9 800.5h0M994.6 760.6h0M919.3 734.6h0M1027.1 754.4h0M973.7 778.9h0M901.5 780.0h0M910.2 783.2h0M863.3 763.2h0M874.2 779.2h0M911.5 791.6h0M879.4 779.6h0M883.5 794.5h0M911.3 760.7h0M934.5 765.0h0M913.5 786.1h0M914.6 769.3h0M904.3 786.2h0M975.7 762.1h0M970.5 784.0h0M1002.9 773.4h0M939.4 773.6h0M1090.2 766.2h0M921.1 780.3h0M956.1 759.7h0M919.7 772.7h0M1078.5 753.2h0M913.9 795.1h0M1014.9 761.6h0M961.8 786.1h0M1082.0 765.3h0M961.6 764.4h0M918.2 778.4h0M1072.4 774.0h0M993.8 775.2h0M868.4 792.4h0M884.6 790.5h0M852.3 787.8h0M984.3 752.5h0M965.4 766.5h0M868.6 793.5h0M883.8 755.5h0M853.3 772.9h0M999.2 751.0h0M854.4 788.3h0M984.5 766.2h0M874.0 771.6h0M889.1 799.4h0M917.1 767.6h0M895.6 799.7h0M855.1 789.1h0M945.9 785.6h0M860.0 772.1h0M1043.6 779.0h0M973.5 764.3h0M895.4 781.4h0M845.3 796.1h0M856.8 787.7h0M957.6 781.4h0M861.0 795.0h0M905.9 761.3h0M828.2 783.4h0M996.8 753.6h0M887.9 799.6h0M954.1 776.5h0M984.4 768.9h0M959.7 795.7h0M957.0 775.9h0M900.9 775.1h0M909.5 783.8h0M1107.4 757.0h0M984.5 771.1h0M933.2 757.6h0M831.0 778.9h0M954.5 780.8h0M845.3 791.6h0M972.5 767.0h0M949.2 789.1h0M876.1 787.8h0M909.0 786.2h0M936.1 756.6h0M1015.9 743.3h0M827.3 788.8h0M843.5 774.3h0M904.6 780.4h0M859.6 771.1h0M875.8 801.5h0M954.5 779.4h0M913.8 753.8h0M884.6 757.4h0M966.5 767.6h0M986.7 767.7h0M881.4 799.0h0M948.0 773.6h0M931.0 776.4h0M936.4 774.8h0M912.1 784.9h0M983.5 787.3h0M926.1 785.3h0M1074.3 762.0h0M1041.6 756.0h0M912.5 796.0h0M1041.1 769.5h0M1093.9 777.1h0M937.6 778.7h0M861.1 779.5h0M868.6 795.9h0M944.7 778.4h0M823.5 797.8h0M987.2 791.0h0M892.7 771.6h0M944.4 787.7h0M1016.0 763.7h0M886.7 785.3h0M1108.1 751.1h0M834.3 796.8h0M903.6 769.2h0M1001.5 775.1h0M924.2 762.4h0M923.6 775.9h0M950.1 783.6h0M876.7 785.1h0M981.0 798.9h0M885.7 789.7h0M890.4 773.2h0M907.1 787.4h0M996.9 762.4h0M1030.8 766.6h0M905.7 799.8h0M958.0 787.7h0M830.5 791.2h0M998.8 788.4h0M937.0 789.5h0M901.0 758.9h0M844.6 784.1h0M831.8 782.9h0M1095.7 752.5h0M878.1 760.3h0M909.5 769.5h0M962.4 779.5h0M871.5 789.3h0M989.9 750.8h0M898.2 782.8h0M840.5 779.2h0M987.3 797.8h0M1040.6 758.2h0M922.9 762.2h0M870.2 782.5h0M841.6 789.4h0M1027.7 757.2h0M1083.7 757.1h0M950.0 750.9h0M994.4 774.0h0M911.5 790.3h0M925.1 799.9h0M878.5 774.7h0M856.1 798.7h0M1069.6 801.1h0M1052.4 742.1h0M902.8 801.3h0M949.6 779.6h0M899.8 780.4h0M874.9 795.4h0M1040.2 766.3h0M931.9 800.0h0M867.1 781.9h0M962.4 784.0h0M982.5 748.1h0M977.2 780.6h0M955.8 745.7h0M949.2 755.3h0M910.9 792.5h0M971.8 769.8h0M881.8 791.5h0M872.5 795.9h0M971.7 781.3h0M1001.5 789.1h0M944.1 800.5h0M999.7 775.7h0M1039.4 750.2h0M883.2 789.3h0M1044.9 786.9h0M819.4 798.8h0M889.4 784.3h0M900.8 769.4h0M874.6 780.8h0M980.0 765.0h0M1057.4 758.3h0M978.7 788.7h0M956.9 764.8h0M898.6 800.5h0M917.7 783.2h0M924.0 776.6h0M925.1 785.0h0M999.3 778.9h0M937.9 794.3h0M1032.1 800.1h0M918.8 785.7h0M985.1 772.0h0M1006.0 769.5h0M919.8 787.6h0M985.1 770.5h0M849.1 790.1h0M936.2 796.1h0M859.5 790.6h0M867.1 792.1h0M929.7 786.6h0M1018.8 754.8h0M976.6 764.1h0M967.8 797.9h0M1034.0 776.7h0M973.6 760.4h0M912.9 797.7h0M922.6 783.4h0M909.2 796.0h0M935.8 794.5h0M1058.3 778.3h0M968.4 762.7h0M1025.4 765.3h0M875.4 791.1h0M949.0 773.7h0M999.5 772.6h0M1002.8 729.9h0M964.1 785.4h0M933.5 792.6h0M952.9 785.4h0M953.8 766.6h0M923.1 773.2h0M1088.9 759.3h0M974.6 784.0h0M908.4 790.2h0M936.6 764.8h0M903.6 781.3h0M853.2 770.0h0M968.4 789.0h0M939.4 770.8h0M935.2 792.6h0M884.5 794.6h0M875.3 777.9h0M1038.0 777.7h0M895.7 772.4h0M851.5 794.8h0M962.8 751.5h0M872.1 787.4h0M983.0 781.5h0M972.9 752.5h0M971.5 765.0h0M971.6 772.0h0M913.1 780.2h0M880.0 787.2h0M927.6 781.2h0M885.9 782.0h0M847.2 778.8h0M849.4 770.1h0M929.2 768.2h0M931.6 789.1h0M852.5 794.0h0M913.2 768.7h0M870.0 791.5h0M926.0 763.9h0M946.8 768.4h0M860.0 792.4h0M942.2 787.3h0M993.2 766.4h0M883.3 799.0h0M934.7 783.4h0M909.9 788.4h0M872.3 797.2h0M813.9 796.9h0M1051.9 764.9h0M1022.4 777.5h0M857.1 776.5h0M915.0 785.9h0M859.8 796.1h0M901.2 786.1h0M870.1 776.1h0M1034.9 772.6h0M940.6 795.2h0M834.1 793.7h0M942.9 770.5h0M852.1 789.2h0M880.3 795.7h0M823.9 782.9h0M1007.4 751.2h0M939.8 799.3h0M930.8 778.4h0M982.7 771.9h0M837.3 792.3h0M1024.4 786.6h0M964.5 756.9h0M946.0 780.2h0M975.1 757.3h0M930.3 799.4h0M870.6 788.4h0M909.1 798.6h0M1082.9 774.1h0M865.6 795.8h0M921.6 776.6h0M1000.8 750.1h0M869.4 754.7h0M937.0 795.2h0M927.9 789.4h0M875.4 780.6h0M942.3 771.7h0M861.5 795.1h0M859.2 787.2h0M961.2 801.8h0M890.8 794.8h0M841.5 793.5h0M968.3 768.2h0M889.0 786.7h0M964.4 759.8h0M964.5 769.3h0M844.7 773.5h0M938.8 779.8h0M830.6 797.6h0M1044.9 765.9h0M891.5 793.4h0M996.1 768.6h0M850.2 798.6h0M874.1 771.3h0M871.3 767.6h0M984.9 763.4h0M854.4 765.9h0M876.1 754.3h0M938.4 759.9h0M1060.8 774.8h0M901.2 800.7h0M879.1 778.2h0M994.4 758.0h0M848.1 777.2h0M856.9 786.9h0M882.7 789.5h0M908.2 771.9h0M984.1 767.6h0M947.1 795.4h0M961.2 776.8h0M942.7 785.9h0M892.8 789.7h0M1040.2 778.9h0M1025.4 777.9h0M1027.8 765.1h0M908.4 760.2h0M916.8 790.9h0M879.6 790.1h0M1003.7 796.4h0M905.9 767.6h0M982.5 746.0h0M906.2 783.1h0M847.7 788.2h0M1123.6 755.6h0M887.6 790.3h0M956.0 796.2h0M953.8 763.1h0M922.4 789.9h0M961.8 787.0h0M925.0 797.7h0M926.2 790.3h0M924.2 776.3h0M892.3 789.6h0M943.8 787.8h0M1056.7 761.2h0M901.5 774.4h0M818.7 796.6h0M1074.8 768.7h0M908.6 795.6h0M957.6 747.0h0M915.8 799.1h0M944.2 784.7h0M994.5 801.6h0M883.3 792.3h0M870.1 801.2h0M954.4 775.4h0M1045.2 752.8h0M908.7 793.7h0M986.1 756.5h0M962.3 780.0h0M868.0 797.1h0M843.1 786.4h0M856.9 771.3h0M905.2 784.1h0M939.3 789.7h0M927.8 756.2h0M968.6 759.1h0M852.6 796.6h0M940.4 758.7h0M944.9 767.4h0M888.7 779.3h0M1048.5 769.2h0M880.7 787.8h0M913.6 791.8h0M996.3 770.4h0M876.3 775.0h0M963.5 796.4h0M957.4 791.9h0M980.4 755.4h0M878.7 798.7h0M966.6 790.2h0M927.4 791.1h0M909.2 779.0h0M908.4 777.4h0M856.4 789.1h0M900.9 761.5h0M986.3 759.6h0M875.9 771.2h0M1019.5 759.7h0M884.6 799.8h0M834.6 784.5h0M923.9 796.2h0M1073.7 790.7h0M957.0 799.7h0M882.9 801.7h0M828.8 781.7h0M978.2 778.8h0M910.9 787.2h0M928.2 776.1h0M888.6 764.6h0M839.8 771.8h0M900.0 775.5h0M859.9 789.9h0M868.9 774.8h0M1005.9 781.0h0M947.1 795.3h0M897.8 800.5h0M913.9 778.4h0M861.1 794.6h0M936.6 771.4h0M915.7 773.0h0M855.0 795.8h0M982.5 778.6h0M942.5 765.0h0M976.1 781.5h0M906.6 770.3h0M936.7 784.6h0M871.7 799.1h0M960.0 788.2h0M1028.8 745.4h0M921.6 792.6h0M892.7 801.3h0M1052.0 732.5h0M989.5 759.8h0M894.3 773.3h0M1070.1 751.6h0M920.3 759.3h0M880.3 763.0h0M926.9 766.4h0M873.5 785.4h0M825.2 793.0h0M875.2 759.3h0M1031.1 785.0h0M1029.3 761.3h0M880.4 768.2h0M848.3 785.9h0M1003.1 766.0h0M892.4 758.5h0M827.5 800.6h0M1056.6 755.2h0M994.6 760.0h0M943.6 795.5h0M903.8 765.7h0M903.1 786.4h0M865.9 799.3h0M910.3 751.0h0M1007.7 770.5h0M845.9 797.3h0M1013.2 772.8h0M864.7 786.7h0M910.3 765.8h0M874.3 775.1h0M848.3 776.4h0M880.1 800.9h0M885.4 779.9h0M987.7 786.8h0M1010.7 764.7h0M885.2 800.0h0M898.4 789.6h0M884.4 790.8h0M906.4 801.5h0M936.6 798.3h0M913.1 794.1h0M925.9 772.7h0M881.6 789.5h0M904.3 780.5h0M910.5 760.4h0M953.5 758.6h0M1055.9 762.2h0M990.5 754.7h0M927.7 763.5h0M1049.3 765.8h0M889.8 762.6h0M900.4 765.3h0M959.7 781.5h0M885.1 757.9h0M920.2 780.6h0M960.1 774.3h0M963.3 773.1h0M971.8 795.9h0M859.5 787.7h0M999.2 763.8h0M1083.6 750.1h0M914.4 793.3h0M1038.7 770.1h0M919.4 780.9h0M1057.0 781.2h0M890.1 785.5h0M899.9 789.1h0M949.6 782.4h0M891.0 797.7h0M902.9 785.0h0M899.9 792.0h0M1022.4 780.9h0M854.5 791.9h0M929.0 751.9h0M867.6 778.8h0M888.3 778.6h0M957.2 767.5h0M912.4 792.5h0M1004.3 763.1h0M887.8 789.4h0M893.8 801.8h0M985.9 757.0h0M858.1 768.5h0M898.1 793.5h0M940.4 795.3h0M880.7 781.2h0M941.6 768.3h0M1018.1 790.4h0M854.5 796.5h0M919.1 766.2h0M930.0 768.6h0M967.3 774.4h0M1024.0 762.8h0M1030.0 780.6h0M894.0 800.5h0M921.7 771.8h0M966.2 796.5h0M1013.6 774.4h0M945.6 776.0h0M884.1 778.6h0M946.2 779.5h0M987.1 773.2h0M939.3 759.5h0M969.9 764.5h0M992.2 797.2h0M877.3 779.4h0M876.4 770.1h0M938.6 745.1h0M944.5 779.0h0M879.4 789.5h0M925.2 755.8h0M932.9 787.9h0M839.9 795.0h0M966.5 788.0h0M934.6 777.0h0M906.7 788.3h0M965.7 778.8h0M1011.4 772.2h0M1039.7 774.3h0M866.6 801.3h0M939.7 784.6h0M915.4 794.7h0M843.8 792.0h0M950.6 783.7h0M911.7 762.9h0M1015.7 765.9h0M857.6 763.9h0M1019.2 770.9h0M994.5 778.4h0M893.5 786.9h0M909.7 780.2h0M950.1 753.9h0M912.9 770.6h0M903.2 770.7h0M944.1 795.0h0M873.1 785.6h0M944.6 770.1h0M876.4 776.0h0M1017.8 782.6h0M1011.0 780.0h0M879.4 784.0h0M867.3 756.6h0M973.6 792.6h0M915.9 780.8h0M930.4 789.5h0M874.1 767.7h0M917.3 793.9h0M920.1 800.6h0M969.9 748.4h0M831.2 786.3h0M865.7 784.2h0M1105.8 758.4h0M921.5 787.5h0M951.9 774.4h0M909.8 801.7h0M863.5 786.1h0M870.1 790.6h0M975.9 769.5h0M832.6 787.9h0M986.3 778.4h0M855.4 767.1h0M907.9 795.6h0M950.7 757.2h0M898.0 766.0h0M997.9 739.9h0M887.9 772.7h0M1022.8 767.1h0M908.6 799.7h0M970.9 784.1h0M1009.6 752.7h0M872.8 793.8h0M875.4 792.6h0M874.7 774.6h0M845.3 778.4h0M1094.1 758.7h0M996.9 792.6h0M927.5 771.0h0M900.9 797.2h0M890.1 764.6h0M961.7 761.8h0M985.9 790.6h0M822.3 795.7h0M917.6 778.1h0M871.3 773.8h0M936.6 762.5h0M931.2 796.6h0M866.9 765.3h0M941.5 791.1h0M893.1 790.9h0M865.4 799.9h0M946.3 762.6h0M943.3 778.6h0M916.5 778.5h0M907.5 779.3h0M889.9 774.0h0M919.6 794.5h0M935.3 801.1h0M896.1 798.6h0M849.6 795.0h0M990.8 751.0h0M1011.7 772.5h0M918.9 780.3h0M897.5 755.3h0M892.4 785.9h0M979.3 791.6h0M908.5 787.6h0M907.2 770.3h0M1002.6 786.6h0M821.6 800.5h0M977.7 762.6h0M955.8 783.0h0M1013.1 747.6h0M900.1 767.9h0M932.2 780.9h0M946.4 793.0h0M907.6 774.0h0M947.6 776.8h0M972.5 763.0h0M877.4 781.6h0M952.6 774.3h0M949.6 788.5h0M1004.3 755.5h0M907.0 791.1h0M1016.0 753.4h0M1083.2 754.4h0M961.8 767.6h0M877.9 786.8h0M876.5 772.0h0M919.5 800.3h0M948.8 800.2h0M918.9 769.8h0M879.3 800.5h0M835.7 778.7h0M1009.4 784.7h0M857.6 785.2h0M940.6 786.3h0M1027.8 765.8h0M936.7 755.4h0M941.4 790.0h0M872.6 796.8h0M849.2 779.2h0M858.4 798.5h0M844.8 798.7h0M901.4 789.1h0M897.1 779.8h0M868.0 771.8h0M853.0 782.2h0M938.1 767.4h0M975.4 781.4h0M914.3 781.0h0M1057.7 760.9h0M893.5 794.3h0M892.9 800.9h0M903.1 793.7h0M935.5 788.8h0M933.9 790.6h0M846.5 790.1h0M836.3 792.4h0M985.8 776.4h0M930.2 786.5h0M925.5 785.0h0M943.0 791.0h0M910.6 779.9h0M984.2 759.6h0M913.8 794.5h0M1094.7 778.1h0M893.7 780.3h0M1026.7 749.9h0M973.2 782.5h0M950.1 795.5h0M891.1 778.3h0M932.9 770.8h0M847.1 786.9h0M869.0 768.2h0M937.3 752.8h0M1006.6 765.3h0M926.6 783.0h0M977.9 789.4h0M1072.0 756.9h0M884.7 784.1h0M867.2 772.9h0M907.7 792.7h0M979.1 798.6h0M962.2 780.0h0M893.2 782.5h0M840.7 787.0h0M930.6 795.4h0M891.4 796.2h0M976.7 772.6h0M876.3 781.5h0M891.7 780.5h0M905.6 790.8h0M915.4 782.5h0M857.3 774.3h0M941.5 773.2h0M971.9 771.4h0M881.6 781.0h0M907.3 775.3h0M969.0 799.6h0M1049.4 748.1h0M875.1 781.3h0M893.5 787.5h0M894.7 798.0h0M874.1 788.3h0M842.2 795.8h0M900.6 781.8h0M909.5 743.2h0M844.7 796.0h0M960.5 759.6h0M1021.8 779.6h0M826.6 798.3h0M1051.1 761.1h0M968.3 781.3h0M881.3 772.9h0M833.4 794.3h0M930.7 787.9h0M890.2 771.0h0M967.3 767.9h0M860.3 794.1h0M839.8 793.4h0M864.5 792.0h0M890.0 780.8h0M889.1 774.2h0M898.5 757.5h0M931.5 786.7h0M878.5 796.6h0M831.9 786.6h0M867.2 791.4h0M938.9 796.0h0M938.3 774.8h0M900.4 785.7h0M859.6 787.4h0M943.0 753.0h0M936.4 763.5h0M929.9 794.8h0M864.7 779.7h0M971.5 784.7h0M1010.9 775.5h0M893.7 781.9h0M865.5 765.9h0M916.3 793.3h0M926.8 791.9h0M1088.0 787.9h0M930.9 783.7h0M1001.3 779.4h0M1048.1 785.9h0M936.4 775.9h0M1024.1 773.3h0M851.6 775.2h0M914.6 763.5h0M895.6 768.7h0M875.8 797.3h0M888.5 796.5h0M866.0 774.5h0M887.5 798.9h0M918.7 789.4h0M1016.9 800.4h0M994.1 764.3h0M896.8 794.0h0M843.9 790.7h0M814.3 793.9h0M1071.8 766.8h0M1048.2 778.5h0M864.0 801.0h0M843.0 788.5h0M959.7 776.3h0M858.8 786.3h0M854.2 796.1h0M926.3 791.6h0M1058.5 761.2h0M898.3 769.0h0M906.0 789.3h0M939.2 785.0h0M926.7 771.8h0M957.7 771.5h0M1006.5 774.1h0M897.3 793.7h0M857.3 795.1h0M883.8 799.5h0M978.4 784.5h0M908.8 798.8h0M954.3 782.8h0M956.5 774.2h0M920.5 779.4h0M1013.9 764.7h0M958.9 798.0h0M891.1 765.6h0M877.5 791.0h0M872.7 798.7h0M942.1 775.1h0M945.0 795.1h0M942.3 786.4h0M917.5 762.8h0M953.0 790.4h0M1039.5 730.9h0M828.4 783.6h0M847.5 766.9h0M1037.3 774.7h0M1013.4 771.2h0M939.0 776.5h0M934.3 761.5h0M946.7 776.4h0M936.3 778.8h0M1071.2 755.7h0M994.0 758.3h0M844.4 772.6h0M925.6 756.2h0M885.5 784.6h0M965.5 785.1h0M894.4 755.1h0M975.4 761.6h0M953.4 748.5h0M833.2 784.2h0M1041.4 771.0h0M1010.0 783.4h0M1003.2 778.1h0M849.4 796.1h0M943.5 768.6h0M890.1 784.3h0M886.0 774.9h0M840.3 786.9h0M901.9 778.8h0M860.0 763.0h0M904.4 784.5h0M950.8 799.0h0M1000.3 753.5h0M1030.7 767.5h0M914.8 789.8h0M963.0 752.3h0M882.5 791.3h0M931.3 754.9h0M898.4 790.1h0M965.5 774.7h0M923.3 769.7h0M912.7 750.2h0M871.0 794.2h0M996.1 798.2h0M961.5 749.8h0M1049.0 774.5h0M926.8 797.8h0M906.6 776.8h0M899.3 794.8h0M889.8 796.1h0M1049.7 754.4h0M903.5 738.4h0M962.4 765.7h0M912.1 772.9h0M845.3 788.5h0M972.8 760.1h0M919.5 788.0h0M845.1 794.3h0M845.0 800.7h0M976.1 769.2h0M863.0 795.4h0M1016.5 778.6h0M987.0 767.9h0M910.5 769.3h0M896.4 801.7h0M948.6 786.5h0M817.6 791.9h0M883.5 786.8h0M909.4 766.7h0M882.9 779.5h0M1007.0 783.8h0M1029.1 782.2h0M881.2 760.2h0M931.8 801.3h0M879.7 772.9h0M880.8 760.1h0M947.9 767.4h0M853.5 791.7h0M888.2 767.4h0M892.0 792.9h0M957.8 763.0h0M937.8 749.4h0M906.2 765.9h0M917.1 750.3h0M848.6 785.3h0M958.7 785.7h0M852.9 776.8h0M944.7 783.0h0M978.7 751.8h0M957.0 738.2h0M952.7 766.4h0M852.6 796.6h0M866.0 767.1h0M858.9 787.8h0M879.5 788.0h0M1024.2 745.8h0M936.8 756.3h0M898.1 787.4h0M839.6 798.9h0M983.2 752.6h0M947.6 798.3h0M891.2 780.4h0M903.9 761.0h0M1025.3 771.2h0M856.3 774.9h0M849.0 787.0h0M884.7 791.3h0M820.7 795.2h0M910.6 764.7h0M1015.9 766.4h0M876.7 787.6h0M928.8 788.7h0M853.9 790.4h0M833.8 785.5h0M897.7 781.1h0M860.3 786.2h0M873.5 782.4h0M948.7 766.3h0M986.9 767.4h0M884.4 799.3h0M851.9 787.3h0M858.3 793.6h0M947.5 792.4h0M875.5 763.5h0M929.8 740.8h0M938.5 780.5h0M807.3 799.1h0M828.1 787.6h0M927.4 800.0h0M1036.8 744.7h0M863.1 792.3h0M897.0 769.4h0M873.0 776.3h0M886.1 779.7h0M942.2 770.1h0M849.6 787.6h0M965.0 767.0h0M915.4 771.2h0M984.5 789.6h0M1023.3 775.6h0M1067.8 781.3h0M874.4 801.3h0M877.3 795.2h0M937.7 790.7h0M875.4 784.7h0M853.1 784.8h0M987.1 753.6h0M930.4 767.9h0M856.7 769.3h0M867.1 798.5h0M1091.3 757.4h0M928.7 762.6h0M915.6 765.1h0M867.4 798.3h0M838.8 781.6h0M868.9 783.4h0M867.8 793.6h0M923.8 800.3h0M959.4 776.3h0M1047.9 779.0h0M906.5 757.0h0M932.3 776.6h0M814.3 792.5h0M921.5 787.0h0M933.2 786.2h0M869.0 781.3h0M887.6 774.8h0M873.2 762.6h0M944.3 779.0h0M956.1 781.9h0M987.8 767.6h0M937.5 800.2h0M973.7 747.5h0M922.8 795.4h0M911.8 787.6h0M899.4 790.5h0M948.9 780.2h0M881.7 787.1h0M994.5 759.9h0M940.2 785.3h0M993.0 768.1h0M907.3 783.3h0M836.0 778.8h0M909.7 789.8h0M875.9 798.6h0M921.6 767.8h0M961.7 784.1h0M959.3 797.2h0M858.4 800.3h0M882.0 799.8h0M856.0 784.3h0M1026.6 753.8h0M968.1 775.1h0M1063.0 767.3h0M908.5 791.8h0M1072.7 790.4h0M950.2 790.1h0M962.1 800.2h0M867.6 781.3h0M916.6 766.6h0M908.8 773.9h0M869.0 788.6h0M966.0 778.0h0M907.5 771.6h0M890.3 788.7h0M891.6 787.2h0M914.6 754.3h0M876.7 764.3h0M883.4 794.8h0M909.9 767.2h0M952.8 795.8h0M977.5 767.1h0M957.4 760.8h0M888.3 801.0h0M894.8 787.0h0M1015.6 792.2h0M922.6 773.1h0M1052.6 740.1h0M1064.6 795.5h0M993.0 783.4h0M939.8 747.5h0M844.7 799.7h0M1026.1 772.7h0M892.5 773.8h0M919.4 791.2h0M868.1 782.7h0M892.6 777.9h0M904.5 792.1h0M848.8 784.6h0M1022.6 783.4h0M822.8 801.6h0M889.3 792.4h0M885.2 801.5h0M840.7 796.0h0M991.1 758.6h0M882.8 783.8h0M1042.9 751.8h0M978.8 786.3h0M945.2 778.0h0M873.9 801.6h0M965.9 779.4h0M1044.5 776.0h0M862.4 770.8h0M835.1 797.9h0M1054.7 763.6h0M909.6 792.1h0M934.8 771.6h0M977.8 759.0h0M926.7 798.4h0M903.7 763.5h0M994.9 780.7h0M858.7 786.4h0M860.9 773.8h0M846.4 787.3h0M985.3 762.7h0M893.4 773.2h0M1009.4 776.1h0M907.2 767.3h0M881.1 800.6h0M919.4 775.4h0M1042.8 781.7h0M966.1 768.1h0M975.7 794.1h0M938.8 763.1h0M1082.5 776.8h0M906.1 797.4h0M931.1 768.8h0M898.1 779.3h0M855.5 790.1h0M847.7 789.9h0M897.8 784.0h0M940.4 770.1h0M841.9 800.5h0M845.7 782.0h0M935.2 799.7h0M892.9 778.1h0M1004.5 761.7h0M900.7 778.2h0M1068.1 769.9h0M1000.2 791.1h0M958.8 769.6h0M947.2 777.3h0M946.1 771.2h0M954.6 747.4h0M953.5 799.4h0M991.2 755.2h0M968.5 754.1h0M950.4 795.3h0M887.4 798.4h0M871.0 774.7h0M951.4 779.2h0M852.3 776.8h0M932.4 757.8h0M878.4 798.6h0M914.2 774.5h0M1051.9 792.6h0M857.7 781.5h0M906.1 773.5h0M894.0 759.1h0M827.9 778.6h0M896.8 790.0h0M874.4 762.0h0M913.0 770.2h0M1081.1 773.8h0M885.9 760.4h0M946.1 776.1h0M821.3 794.4h0M971.8 786.2h0M1052.2 764.0h0M986.1 760.6h0M998.2 775.5h0M862.1 787.8h0M905.8 782.7h0M899.3 772.1h0M893.0 795.1h0M852.8 787.8h0M1015.1 781.2h0M856.7 780.0h0M935.0 787.4h0M855.1 783.9h0M932.7 792.3h0M856.4 791.6h0M899.2 771.3h0M850.9 796.0h0M962.2 739.7h0M856.4 786.6h0M962.2 755.7h0M1035.2 791.7h0M1018.9 753.7h0M939.2 748.9h0M873.2 778.8h0M959.3 762.0h0M981.6 794.3h0M1047.6 768.6h0M832.1 777.2h0M853.5 797.6h0M937.6 756.4h0M858.2 770.2h0M921.8 780.7h0M936.2 757.3h0M1008.4 749.3h0M850.3 791.4h0M976.1 785.8h0M861.3 783.7h0M915.0 780.5h0M901.5 763.2h0M1010.8 765.8h0M860.6 801.4h0M855.6 782.8h0M872.0 785.8h0M908.8 772.9h0M838.5 801.1h0M1004.6 772.0h0M918.2 776.7h0M1004.2 774.7h0M863.8 779.4h0M929.0 773.2h0M1086.9 760.0h0M964.0 754.0h0M853.5 774.2h0M1004.1 767.2h0M958.4 778.9h0M960.4 786.8h0M1043.9 778.2h0M838.9 801.0h0M882.4 799.0h0M862.4 793.2h0M995.0 750.8h0M827.5 788.5h0M1026.1 787.7h0M965.5 777.5h0M943.1 774.7h0M863.5 788.8h0M980.1 771.7h0M841.3 776.0h0M918.8 785.0h0M894.1 784.6h0M875.9 780.2h0M885.3 774.9h0M909.4 787.2h0M845.0 792.3h0M916.2 751.1h0M917.9 770.5h0M952.1 789.6h0M935.7 761.1h0M949.9 745.7h0M878.6 791.7h0M911.5 775.5h0M906.8 786.1h0M870.6 759.1h0M962.5 795.9h0M953.6 772.4h0M875.2 778.5h0M929.5 782.6h0M1096.4 771.6h0M931.9 770.2h0M992.5 772.7h0M896.8 792.2h0M907.6 764.0h0M971.5 772.1h0M947.9 776.1h0M862.6 767.5h0M879.8 769.7h0M903.4 790.2h0M850.4 786.5h0M910.8 770.3h0M1056.7 749.7h0M923.1 797.7h0M859.4 783.3h0M1042.6 775.5h0M972.3 791.1h0M880.8 786.4h0M899.1 781.9h0M929.2 784.1h0M943.1 765.3h0M975.1 784.7h0M988.6 758.9h0M923.5 794.1h0M994.4 768.4h0M938.4 754.7h0M894.1 778.1h0M907.2 791.1h0M908.6 796.4h0M905.7 790.2h0M849.7 794.7h0M920.3 777.8h0M1058.5 792.6h0M830.2 801.3h0M919.8 775.3h0M1034.7 788.4h0M863.0 787.5h0M862.4 796.3h0M864.9 777.6h0M867.3 801.9h0M868.0 767.3h0M885.2 780.4h0M955.9 762.8h0M972.5 772.5h0M908.5 793.5h0M919.3 752.5h0M884.2 788.7h0M930.6 775.2h0M831.8 801.5h0M922.9 780.4h0M867.1 800.3h0M994.5 781.8h0M912.3 792.1h0M1022.3 736.1h0M1074.4 761.2h0M987.4 762.3h0M881.1 801.7h0M837.4 786.1h0M863.5 760.9h0M978.9 775.9h0M882.9 789.6h0M969.5 769.4h0M838.1 798.5h0M1072.5 757.3h0M905.6 768.7h0M911.5 774.9h0M952.3 795.7h0M897.6 782.9h0M937.7 748.6h0M1031.8 762.7h0M1003.3 749.1h0M915.8 776.9h0M859.7 785.4h0M860.4 771.7h0M879.0 794.1h0M1004.1 751.2h0M838.5 789.5h0M825.5 785.4h0M949.9 783.7h0M966.0 771.2h0M985.7 764.9h0M887.8 798.0h0M1013.9 749.0h0M912.2 758.2h0M939.8 784.2h0M853.8 782.3h0M882.2 795.2h0M913.2 767.0h0M904.0 772.2h0M1026.9 765.6h0M865.3 770.3h0M877.6 766.9h0M887.0 776.6h0M896.0 800.2h0M1076.0 777.4h0M920.7 776.1h0M932.6 797.2h0M977.0 785.5h0M891.5 766.8h0M860.3 790.4h0M932.2 782.3h0M1053.5 755.9h0M914.8 774.6h0M917.2 770.9h0M956.0 795.7h0M907.1 750.3h0M922.5 765.3h0M894.1 791.0h0M1010.4 760.8h0M1018.2 775.9h0M879.2 763.5h0M948.5 790.2h0M1010.2 776.4h0M894.5 756.8h0M888.9 774.0h0M848.1 793.2h0M886.2 793.3h0M938.7 777.2h0M934.0 774.3h0M922.4 783.2h0M983.0 755.6h0M947.3 771.0h0M845.9 793.0h0M982.5 766.4h0M1068.0 780.2h0M898.9 797.6h0M968.3 751.4h0M962.9 777.9h0M875.1 775.4h0M858.9 779.7h0M977.9 781.3h0M940.7 786.4h0M963.2 777.2h0M856.0 789.9h0M856.1 781.9h0M884.5 798.9h0M879.9 786.2h0M947.3 768.8h0M1083.2 763.8h0M1029.7 773.9h0M906.6 795.3h0M861.2 801.1h0M933.4 787.2h0M1003.9 783.8h0M845.7 795.9h0M992.2 769.3h0M1024.8 784.6h0M995.9 789.7h0M848.0 791.9h0M860.2 783.8h0M944.0 766.2h0M870.7 783.7h0M1052.8 760.1h0M849.9 799.0h0M883.0 766.0h0M970.5 767.6h0M905.1 796.8h0M866.8 778.3h0M857.5 790.3h0M887.9 777.8h0M1039.6 788.5h0M830.2 786.0h0M902.5 783.2h0M878.3 768.5h0M936.1 781.8h0M955.4 793.7h0M984.2 770.7h0M925.7 779.1h0M844.0 783.2h0M826.2 788.1h0M1002.8 795.4h0M910.2 771.3h0M883.8 790.5h0M961.6 755.5h0M987.1 769.5h0M871.1 794.5h0M850.4 771.8h0M1078.2 746.0h0M852.2 795.9h0M954.7 774.2h0M860.2 783.9h0M866.4 799.1h0M944.1 780.0h0M867.6 801.0h0M949.7 756.6h0M939.1 780.2h0M836.3 794.2h0M907.3 765.9h0M945.1 793.5h0M901.9 765.7h0M906.0 791.9h0M1014.3 766.3h0M865.0 787.2h0M1098.5 767.2h0M926.5 764.1h0M991.5 768.1h0M914.0 790.6h0M1021.9 776.0h0M880.6 759.3h0M1047.4 761.1h0M871.2 800.2h0M970.0 765.6h0M854.6 783.0h0M958.6 794.8h0M886.2 794.6h0M887.9 773.5h0M934.2 774.2h0M919.4 764.8h0M942.3 791.1h0M986.0 760.4h0M886.2 750.6h0M946.8 765.1h0M922.3 775.8h0M1059.7 748.8h0M908.5 788.1h0M940.3 791.1h0M939.5 785.2h0M856.3 778.4h0M850.6 778.4h0M872.8 770.5h0M836.7 798.9h0M841.2 796.2h0M958.1 777.6h0M906.0 783.8h0M955.0 780.9h0M903.0 790.8h0M1035.6 788.5h0M1035.3 783.7h0M1052.0 785.6h0M921.5 782.6h0M895.5 768.3h0M878.3 792.7h0M911.5 780.3h0M924.0 801.6h0M900.6 794.6h0M863.6 782.3h0M956.1 797.0h0M888.4 793.5h0M981.6 756.0h0M1069.8 765.7h0M950.2 795.3h0M917.5 766.7h0M919.2 783.6h0M1031.9 785.0h0M909.2 790.6h0M926.9 780.1h0M870.2 766.1h0M961.3 779.6h0M950.3 786.1h0M856.9 784.0h0M909.9 791.1h0M874.8 800.1h0M1006.4 773.6h0M920.8 792.2h0M840.6 790.9h0M1061.2 763.5h0M884.1 792.1h0M841.0 800.0h0M936.4 777.2h0M982.9 774.4h0M927.2 784.0h0M937.7 776.0h0M920.3 765.2h0M907.4 765.4h0M871.1 795.4h0M926.0 784.1h0M896.5 772.2h0M1069.3 767.0h0M918.1 777.5h0M1045.3 756.1h0M978.7 779.5h0M948.7 772.9h0M936.6 784.8h0M946.5 763.9h0M899.3 769.3h0M952.1 754.6h0M890.6 788.3h0M992.7 770.5h0M1056.7 748.1h0M979.0 799.7h0M895.5 755.6h0M968.0 788.5h0M931.0 760.7h0M1010.3 733.3h0M897.3 766.2h0M837.5 792.2h0M846.3 782.6h0M854.4 772.2h0M829.2 797.6h0M1021.0 768.3h0M1072.8 767.0h0M835.9 790.7h0M964.3 774.7h0M919.7 766.5h0M1040.1 777.3h0M883.7 795.2h0M1067.3 784.0h0M938.2 758.8h0M889.5 782.8h0M867.7 775.9h0M941.0 775.6h0M847.5 788.6h0M889.8 773.1h0M948.3 768.6h0M979.6 773.6h0M941.7 776.7h0M963.4 770.6h0M937.9 774.9h0M827.4 796.8h0M845.8 779.4h0M933.6 791.3h0M889.3 778.2h0M906.7 778.0h0M1009.2 760.2h0M832.5 777.7h0M856.2 796.7h0M963.0 738.0h0M895.3 790.7h0M849.6 774.0h0M962.1 800.1h0M881.8 801.2h0M900.2 795.6h0M828.9 787.6h0M902.3 776.2h0M929.1 790.0h0M934.8 775.9h0M977.7 784.6h0M840.8 793.9h0M843.1 784.2h0M934.9 745.8h0M956.6 745.7h0M1017.4 748.8h0M952.1 769.8h0M959.5 748.5h0M953.9 755.9h0M935.4 800.2h0M887.2 801.5h0M859.8 786.9h0M968.1 785.3h0M1010.2 764.6h0M973.0 750.8h0M898.6 779.2h0M891.3 785.5h0M819.1 789.9h0M1006.9 772.8h0M913.0 801.1h0M841.9 801.6h0M874.0 774.8h0M964.5 775.6h0M1079.8 758.7h0M855.4 791.9h0M865.3 787.7h0M1088.4 759.2h0M950.4 794.8h0M874.1 783.4h0M975.4 784.8h0M937.5 777.6h0M972.5 750.5h0M912.0 800.9h0M921.6 774.9h0M950.4 775.9h0M918.8 755.3h0M1030.5 738.3h0M1006.8 760.5h0M926.3 792.2h0M1051.5 780.1h0M890.4 792.4h0M981.4 772.5h0M1023.8 757.8h0M893.8 780.4h0M984.0 744.0h0M867.0 759.1h0M897.5 759.4h0M956.1 789.0h0M858.7 763.4h0M960.4 791.7h0M936.8 780.8h0M893.6 787.3h0M944.9 776.8h0M927.5 770.1h0M901.5 794.7h0M878.7 800.8h0M935.7 775.9h0M943.0 757.0h0M983.1 776.7h0M846.2 800.1h0M1005.8 787.3h0M1063.2 799.4h0M855.1 796.8h0M898.6 786.8h0M928.1 801.0h0M909.0 780.7h0M878.4 798.2h0M904.2 779.0h0M929.0 776.3h0M889.8 771.4h0M1094.2 764.9h0M916.9 798.2h0M896.6 793.5h0M968.8 749.2h0M891.7 791.3h0M937.4 785.0h0M957.4 750.4h0M830.0 798.1h0M1091.5 781.3h0M1014.1 784.4h0M1016.4 778.6h0M946.7 791.2h0M877.9 801.1h0M1005.8 764.1h0M966.3 773.7h0M885.7 800.3h0M816.9 788.9h0M818.6 789.9h0M886.1 796.1h0M975.7 797.9h0M915.6 765.1h0M881.7 777.3h0M796.5 799.2h0M819.3 791.0h0M816.8 786.9h0M808.4 794.1h0M815.7 791.5h0M840.1 790.5h0M820.5 787.3h0M825.5 782.3h0M820.9 789.1h0M818.1 789.1h0M808.7 791.4h0M804.3 793.0h0M826.4 787.5h0M822.1 783.2h0M802.8 795.9h0M804.0 793.5h0M805.2 793.1h0M820.2 789.1h0M812.7 796.0h0M819.7 793.3h0M825.2 793.1h0M832.4 787.4h0M1099.5 757.4h0M1103.9 760.3h0M1095.0 770.7h0M1108.3 778.1h0M1126.0 778.1h0M1112.7 779.6h0M1011.0 724.7h0" fill="none" stroke="#0a0aff" stroke-width="5.2" stroke-linecap="round"/>
<path d="M833.4 758.3h0M848.3 758.6h0M830.0 776.8h0M825.8 756.6h0M825.5 775.5h0M810.9 761.4h0M824.3 771.9h0M816.9 772.8h0M826.8 769.8h0M824.8 773.5h0M810.4 755.0h0M820.4 771.9h0M846.2 748.9h0M827.3 778.0h0M840.0 765.6h0M833.7 752.7h0M802.5 784.8h0M825.2 776.2h0M839.0 765.1h0M803.9 780.0h0M866.2 752.5h0M831.7 755.5h0M815.0 777.9h0M848.7 763.4h0M841.8 763.9h0M858.9 754.9h0M870.0 751.8h0M822.2 772.3h0M836.8 747.7h0M828.5 774.4h0M811.8 784.8h0M813.8 778.3h0M867.2 748.4h0M830.9 765.7h0M812.5 782.4h0M842.1 760.1h0M846.4 764.0h0M845.4 758.6h0M858.8 752.9h0M882.6 734.0h0M844.0 758.0h0M824.3 770.5h0M822.3 762.5h0M843.2 767.7h0M829.6 758.2h0M829.2 777.4h0M792.5 768.1h0M800.2 763.3h0M790.2 704.2h0M798.2 755.3h0M801.2 763.2h0M811.3 787.0h0M794.2 776.1h0M794.1 745.5h0M810.9 786.4h0M807.1 712.0h0M816.7 781.3h0M806.3 778.1h0M799.1 749.2h0M815.8 783.0h0M790.6 776.1h0M795.1 755.2h0M800.8 744.5h0M798.6 709.1h0M792.6 727.0h0M809.1 779.3h0M798.9 652.2h0M813.0 714.6h0M827.8 731.1h0M822.9 715.8h0M808.2 771.4h0M798.2 765.7h0M793.7 750.3h0M796.6 764.8h0M802.9 782.0h0M816.0 728.4h0M816.5 783.0h0M833.2 768.4h0M795.2 740.5h0M803.6 749.8h0M794.4 777.2h0M813.1 769.4h0M796.4 768.1h0M830.6 717.2h0M811.5 757.0h0M791.8 785.6h0M840.5 710.2h0M815.2 757.0h0M807.9 742.1h0M806.1 740.2h0M818.1 755.0h0M796.7 748.9h0M801.7 757.8h0M812.4 786.2h0M818.6 755.4h0M803.6 787.1h0M802.3 733.8h0M793.5 747.2h0M798.9 745.2h0M795.1 667.9h0M802.6 749.1h0M791.2 727.2h0M798.1 761.6h0M791.7 775.8h0M823.3 726.6h0M825.0 748.5h0M796.0 761.4h0M823.3 732.1h0M835.9 747.0h0M797.2 781.1h0M797.5 743.3h0M791.6 729.2h0M793.7 728.1h0M841.4 760.7h0M804.7 700.6h0M797.8 792.2h0M794.4 740.4h0M790.2 773.8h0M802.7 793.5h0M793.9 729.8h0M803.5 746.2h0M792.4 768.4h0M790.8 700.3h0M792.9 736.5h0M791.2 740.4h0M840.2 670.9h0M810.2 702.4h0M839.5 663.6h0M853.7 757.4h0M846.9 758.9h0M796.9 784.1h0M814.2 786.0h0M805.1 764.1h0M794.8 783.0h0M810.5 740.0h0M815.5 744.1h0M812.8 714.6h0M806.4 750.4h0M800.9 728.5h0M816.2 751.2h0M790.2 744.6h0M810.9 751.3h0M818.6 762.0h0M800.5 776.3h0M823.4 776.0h0M811.4 768.0h0M823.7 765.5h0M814.6 774.4h0M790.9 758.2h0M808.1 753.2h0M804.1 698.4h0M812.7 766.6h0M819.2 698.8h0M793.1 753.5h0M802.9 780.8h0M801.8 692.9h0M803.9 787.5h0M801.2 730.7h0M820.9 656.9h0M810.7 770.3h0M795.3 709.5h0M812.3 773.9h0M801.2 746.8h0M799.7 732.3h0M792.0 717.0h0M816.5 678.6h0M812.6 767.2h0M830.3 743.5h0M797.0 787.5h0M800.4 768.7h0M803.9 634.2h0M808.8 787.8h0M790.8 688.7h0M801.3 673.8h0M800.3 724.2h0M813.9 745.8h0M807.2 758.8h0M800.9 749.5h0M845.2 766.9h0M798.4 683.9h0M796.1 743.1h0M801.3 769.0h0M805.5 713.2h0M814.8 723.9h0M799.6 772.8h0M796.3 792.7h0M798.7 754.3h0M797.0 781.9h0M828.8 717.5h0M824.2 748.2h0M799.1 776.7h0M792.1 760.4h0M806.4 750.3h0M804.2 670.6h0M810.6 666.7h0M799.7 750.4h0M795.0 781.8h0M812.6 742.6h0M815.0 772.0h0M791.3 769.5h0M790.7 714.8h0M793.9 741.3h0M803.3 705.3h0M790.9 672.0h0M802.3 764.8h0M801.3 784.4h0M793.2 740.7h0M795.5 749.3h0M796.4 711.7h0M807.2 686.9h0M825.2 678.5h0M790.5 784.9h0M790.4 732.2h0M798.9 763.1h0M803.9 685.9h0M807.1 767.9h0M796.9 731.0h0M806.1 691.5h0M814.1 769.5h0M828.1 752.0h0M795.0 720.4h0M802.7 750.6h0M806.3 763.0h0M807.5 734.7h0M792.1 725.4h0M791.2 640.8h0M794.3 790.7h0M797.5 766.8h0M795.7 672.1h0M789.8 708.7h0M817.9 744.1h0M793.3 784.5h0M805.4 746.0h0M824.4 756.4h0M789.8 789.5h0M798.1 736.1h0M801.7 730.4h0M791.9 767.9h0M794.1 792.6h0M816.7 731.7h0M812.1 741.9h0M792.3 753.3h0M806.3 733.7h0M805.2 731.0h0M803.1 772.1h0M802.0 737.1h0M797.0 752.8h0M808.3 731.3h0M841.8 704.8h0M796.7 763.2h0M799.1 705.6h0M803.9 790.1h0M803.9 749.9h0M809.1 697.8h0M840.4 624.0h0M792.6 763.1h0M810.6 730.3h0M793.0 712.4h0M790.4 717.5h0M808.9 777.7h0M804.1 678.0h0M806.9 786.8h0M804.3 721.5h0M794.4 767.4h0M790.2 787.4h0M817.8 736.2h0M816.9 753.2h0M812.6 726.0h0M811.2 689.7h0M802.0 736.5h0M794.5 754.1h0M815.9 768.2h0M801.9 781.6h0M793.4 736.2h0M806.9 719.5h0M791.8 780.3h0M800.5 721.6h0M793.4 755.0h0M794.2 745.6h0M797.1 680.3h0M825.5 649.5h0M790.2 749.1h0M812.8 768.0h0M812.7 698.4h0M838.4 769.3h0M795.4 765.1h0M809.7 764.4h0M801.1 759.0h0M804.4 760.0h0M812.5 742.1h0M804.2 725.6h0M814.8 725.1h0M794.3 699.1h0M794.7 782.4h0M811.0 749.5h0M810.7 744.7h0M796.5 741.0h0M799.8 749.4h0M808.8 694.9h0M805.6 766.1h0M811.7 786.7h0M833.8 654.7h0M806.3 715.0h0M798.1 730.7h0M797.0 707.6h0M813.9 742.3h0M823.4 728.9h0M806.5 752.7h0M797.6 781.6h0M801.7 750.1h0M800.7 786.0h0M794.0 703.5h0M825.3 745.9h0M809.2 647.3h0M816.2 682.9h0M804.1 762.0h0M801.3 717.4h0M802.8 761.9h0M833.3 774.5h0M821.7 724.0h0M799.8 704.7h0M797.5 789.8h0M790.3 719.4h0M802.2 781.9h0M790.3 778.5h0M794.0 793.4h0M800.3 759.5h0M819.2 736.9h0M809.9 762.2h0M812.8 737.8h0M808.5 782.2h0M831.9 710.4h0M790.5 763.9h0M797.6 742.9h0M804.5 730.8h0M812.3 765.8h0M833.7 691.2h0M796.3 786.5h0M802.8 747.2h0M814.6 716.3h0M792.2 749.1h0M804.1 756.6h0M795.4 770.6h0M790.6 781.9h0M832.6 715.9h0M800.7 710.3h0M798.7 760.0h0M829.2 730.1h0M794.1 785.5h0M801.1 718.1h0M808.3 772.7h0M813.7 716.0h0M792.4 734.5h0M795.7 752.5h0M808.2 787.7h0M813.4 725.2h0M798.6 776.6h0M793.0 779.3h0M812.1 751.6h0M812.8 759.2h0M795.6 771.3h0M820.3 702.0h0M805.7 779.1h0M807.0 760.4h0M805.5 687.2h0M821.2 704.6h0M798.0 747.5h0M831.9 716.6h0M822.5 661.1h0M834.8 723.6h0M795.3 778.8h0M793.3 771.3h0M817.1 654.5h0M799.9 732.9h0M834.7 742.5h0M793.4 748.7h0M826.6 736.6h0M807.1 776.0h0M816.4 757.6h0M791.1 689.1h0M796.1 717.0h0M795.9 782.3h0M806.2 789.2h0M796.5 778.8h0M810.4 779.5h0M791.8 743.1h0M813.5 771.1h0M809.4 708.1h0M808.3 755.6h0M820.3 756.1h0M794.9 766.7h0M798.6 776.3h0M810.4 756.2h0M820.5 776.0h0M793.1 732.7h0M807.6 773.6h0M801.0 762.7h0M823.8 760.4h0M800.8 772.1h0M806.8 752.3h0M801.9 783.7h0M808.4 768.0h0M833.0 673.9h0M796.9 784.8h0M794.2 761.9h0M809.4 729.4h0M790.3 782.2h0M797.7 741.1h0M809.7 783.5h0M831.5 614.5h0M823.0 757.1h0M804.9 713.2h0M797.8 785.3h0M806.6 767.3h0M807.6 719.5h0M805.5 768.9h0M797.3 778.2h0M798.4 771.6h0M816.2 536.1h0M817.1 586.6h0M812.7 589.5h0M822.9 614.8h0M817.1 626.7h0M830.4 650.4h0M880.4 724.7h0M891.5 732.1h0M878.2 718.7h0" fill="none" stroke="#ff0a0a" stroke-width="5.2" stroke-linecap="round"/>
<clipPath id="clipE"><rect x="789.7" y="400" width="500" height="401.9"/></clipPath>
<path d="M824.6,607.6 L824.1,607.5 L823.7,607.4 L823.3,607.3 L822.8,607.3 L822.4,607.2 L821.9,607.2 L821.5,607.1 L821.0,607.1 L820.6,607.1 L820.1,607.0 L819.7,607.0 L819.2,607.0 L818.7,607.0 L818.3,607.0 L817.8,607.0 L817.4,607.0 L816.9,607.1 L816.4,607.1 L816.0,607.2 L815.5,607.2 L815.0,607.3 L814.6,607.3 L814.1,607.4 L813.6,607.5 L813.2,607.6 L812.7,607.7 L812.2,607.8 L811.8,607.9 L811.3,608.0 L810.8,608.1 L810.4,608.2 L809.9,608.4 L809.4,608.5 L808.9,608.7 L808.5,608.8 L808.0,609.0 L807.5,609.2 L807.1,609.4 L806.6,609.6 L806.1,609.8 L805.6,610.0 L805.2,610.2 L804.7,610.4 L804.2,610.6 L803.7,610.8 L803.3,611.1 L802.8,611.3 L802.3,611.6 L801.8,611.8 L801.4,612.1 L800.9,612.4 L800.4,612.6 L799.9,612.9 L799.5,613.2 L799.0,613.5 L798.5,613.8 L798.1,614.2 L797.6,614.5 L797.1,614.8 L796.7,615.1 L796.2,615.5 L795.7,615.8 L795.3,616.2 L794.8,616.5 L794.3,616.9 L793.9,617.3 L793.4,617.7 L792.9,618.0 L792.5,618.4 L792.0,618.8 L791.5,619.2 L791.1,619.7 L790.6,620.1 L790.2,620.5 L789.7,620.9 L789.3,621.4 L788.8,621.8 L788.4,622.3 L787.9,622.7 L787.5,623.2 L787.0,623.7 L786.6,624.1 L786.1,624.6 L785.7,625.1 L785.2,625.6 L784.8,626.1 L784.3,626.6 L783.9,627.1 L783.5,627.6 L783.0,628.1 L782.6,628.7 L782.2,629.2 L781.7,629.7 L781.3,630.3 L780.9,630.8 L780.5,631.4 L780.0,632.0 L779.6,632.5 L779.2,633.1 L778.8,633.7 L778.4,634.3 L778.0,634.8 L777.5,635.4 L777.1,636.0 L776.7,636.6 L776.3,637.3 L775.9,637.9 L775.5,638.5 L775.1,639.1 L774.7,639.7 L774.3,640.4 L773.9,641.0 L773.6,641.6 L773.2,642.3 L772.8,642.9 L772.4,643.6 L772.0,644.3 L771.6,644.9 L771.3,645.6 L770.9,646.3 L770.5,647.0 L770.2,647.6 L769.8,648.3 L769.4,649.0 L769.1,649.7 L768.7,650.4 L768.4,651.1 L768.0,651.8 L767.7,652.5 L767.3,653.2 L767.0,654.0 L766.7,654.7 L766.3,655.4 L766.0,656.1 L765.7,656.9 L765.3,657.6 L765.0,658.4 L764.7,659.1 L764.4,659.8 L764.1,660.6 L763.7,661.4 L763.4,662.1 L763.1,662.9 L762.8,663.6 L762.5,664.4 L762.2,665.2 L761.9,665.9 L761.6,666.7 L761.4,667.5 L761.1,668.3 L760.8,669.1 L760.5,669.8 L760.3,670.6 L760.0,671.4 L759.7,672.2 L759.5,673.0 L759.2,673.8 L758.9,674.6 L758.7,675.4 L758.4,676.2 L758.2,677.0 L758.0,677.8 L757.7,678.6 L757.5,679.4 L757.3,680.3 L757.0,681.1 L756.8,681.9 L756.6,682.7 L756.4,683.5 L756.2,684.4 L755.9,685.2 L755.7,686.0 L755.5,686.8 L755.3,687.7 L755.1,688.5 L755.0,689.3 L754.8,690.1 L754.6,691.0 L754.4,691.8 L754.2,692.6 L754.1,693.5 L753.9,694.3 L753.7,695.1 L753.6,696.0 L753.4,696.8 L753.3,697.6 L753.1,698.5 L753.0,699.3 L752.8,700.2 L752.7,701.0 L752.6,701.8 L752.5,702.7 L752.3,703.5 L752.2,704.4 L752.1,705.2 L752.0,706.0 L751.9,706.9 L751.8,707.7 L751.7,708.5 L751.6,709.4 L751.5,710.2 L751.4,711.0 L751.3,711.9 L751.2,712.7 L751.2,713.6 L751.1,714.4 L751.0,715.2 L751.0,716.0 L750.9,716.9 L750.9,717.7 L750.8,718.5 L750.8,719.4 L750.7,720.2 L750.7,721.0 L750.6,721.8 L750.6,722.7 L750.6,723.5 L750.6,724.3 L750.6,725.1 L750.5,725.9 L750.5,726.7 L750.5,727.5 L750.5,728.4 L750.5,729.2 L750.5,730.0 L750.5,730.8 L750.6,731.6 L750.6,732.4 L750.6,733.2 L750.6,734.0 L750.7,734.8 L750.7,735.5 L750.7,736.3 L750.8,737.1 L750.8,737.9 L750.9,738.7 L751.0,739.5 L751.0,740.2 L751.1,741.0 L751.2,741.8 L751.2,742.5 L751.3,743.3 L751.4,744.0 L751.5,744.8 L751.6,745.6 L751.7,746.3 L751.8,747.1 L751.9,747.8 L752.0,748.5 L752.1,749.3 L752.2,750.0 L752.3,750.7 L752.4,751.5 L752.6,752.2 L752.7,752.9 L752.8,753.6 L753.0,754.3 L753.1,755.0 L753.2,755.7 L753.4,756.4 L753.5,757.1 L753.7,757.8 L753.9,758.5 L754.0,759.2 L754.2,759.9 L754.4,760.5 L754.6,761.2 L754.7,761.9 L754.9,762.5 L755.1,763.2 L755.3,763.8 L755.5,764.5 L755.7,765.1 L755.9,765.7 L756.1,766.4 L756.3,767.0 L756.5,767.6 L756.8,768.2 L757.0,768.8 L757.2,769.5 L757.4,770.1 L757.7,770.7 L757.9,771.2 L758.1,771.8 L758.4,772.4 L758.6,773.0 L758.9,773.6 L759.1,774.1 L759.4,774.7 L759.7,775.2 L759.9,775.8 L760.2,776.3 L760.5,776.9 L760.7,777.4 L761.0,777.9 L761.3,778.4 L761.6,778.9 L761.9,779.5 L762.2,780.0 L762.5,780.5 L762.8,780.9 L763.1,781.4 L763.4,781.9 L763.7,782.4 L764.0,782.8 L764.3,783.3 L764.6,783.8 L764.9,784.2 L765.3,784.7 L765.6,785.1 L765.9,785.5 L766.2,785.9 L766.6,786.4 L766.9,786.8 L767.3,787.2 L767.6,787.6 L768.0,788.0 L768.3,788.3 L768.7,788.7 L769.0,789.1 L769.4,789.5 L769.7,789.8 L770.1,790.2 L770.5,790.5 L770.8,790.9 L771.2,791.2 L771.6,791.5 L771.9,791.8 L772.3,792.1 L772.7,792.4 L773.1,792.7 L773.5,793.0 L773.9,793.3 L774.3,793.6 L774.6,793.9 L775.0,794.1 L775.4,794.4 L775.8,794.6 L776.2,794.9 L776.6,795.1 L777.0,795.3 L777.5,795.6 L777.9,795.8 L778.3,796.0 L778.7,796.2 L779.1,796.4 L779.5,796.6 L780.0,796.7 L780.4,796.9 L780.8,797.1 L781.2,797.2 L781.7,797.4 L782.1,797.5 L782.5,797.7 L782.9,797.8 L783.4,797.9 L783.8,798.0 L784.3,798.1 L784.7,798.2 L785.1,798.3 L785.6,798.4 L786.0,798.5 L786.5,798.6 L786.9,798.6 L787.4,798.7 L787.8,798.7 L788.3,798.8 L788.7,798.8 L789.2,798.8 L789.6,798.8 L790.1,798.8 L790.5,798.9 L791.0,798.8 L791.5,798.8 L791.9,798.8 L792.4,798.8 L792.8,798.8 L793.3,798.7 L793.8,798.7 L794.2,798.6 L794.7,798.6 L795.2,798.5 L795.6,798.4 L796.1,798.3 L796.6,798.2 L797.0,798.1 L797.5,798.0 L798.0,797.9 L798.4,797.8 L798.9,797.7 L799.4,797.5 L799.8,797.4 L800.3,797.2 L800.8,797.1 L801.3,796.9 L801.7,796.8 L802.2,796.6 L802.7,796.4 L803.2,796.2 L803.6,796.0 L804.1,795.8 L804.6,795.6 L805.1,795.4 L805.5,795.1 L806.0,794.9 L806.5,794.7 L807.0,794.4 L807.4,794.2 L807.9,793.9 L808.4,793.6 L808.8,793.3 L809.3,793.1 L809.8,792.8 L810.3,792.5 L810.7,792.2 L811.2,791.9 L811.7,791.5 L812.1,791.2 L812.6,790.9 L813.1,790.6 L813.5,790.2 L814.0,789.9 L814.5,789.5 L814.9,789.1 L815.4,788.8 L815.9,788.4 L816.3,788.0 L816.8,787.6 L817.3,787.2 L817.7,786.8 L818.2,786.4 L818.6,786.0 L819.1,785.6 L819.6,785.1 L820.0,784.7 L820.5,784.3 L820.9,783.8 L821.4,783.4 L821.8,782.9 L822.3,782.4 L822.7,782.0 L823.2,781.5 L823.6,781.0 L824.1,780.5 L824.5,780.0 L824.9,779.5 L825.4,779.0 L825.8,778.5 L826.2,778.0 L826.7,777.4 L827.1,776.9 L827.5,776.4 L828.0,775.8 L828.4,775.3 L828.8,774.7 L829.2,774.2 L829.7,773.6 L830.1,773.0 L830.5,772.5 L830.9,771.9 L831.3,771.3 L831.8,770.7 L832.2,770.1 L832.6,769.5 L833.0,768.9 L833.4,768.3 L833.8,767.7 L834.2,767.1 L834.6,766.4 L835.0,765.8 L835.4,765.2 L835.8,764.5 L836.1,763.9 L836.5,763.2 L836.9,762.6 L837.3,761.9 L837.7,761.3 L838.0,760.6 L838.4,759.9 L838.8,759.2 L839.2,758.6 L839.5,757.9 L839.9,757.2 L840.2,756.5 L840.6,755.8 L840.9,755.1 L841.3,754.4 L841.6,753.7 L842.0,753.0 L842.3,752.2 L842.7,751.5 L843.0,750.8 L843.3,750.1 L843.7,749.3 L844.0,748.6 L844.3,747.9 L844.7,747.1 L845.0,746.4 L845.3,745.6 L845.6,744.9 L845.9,744.1 L846.2,743.4 L846.5,742.6 L846.8,741.8 L847.1,741.1 L847.4,740.3 L847.7,739.5 L848.0,738.8 L848.3,738.0 L848.6,737.2 L848.8,736.4 L849.1,735.6 L849.4,734.8 L849.7,734.0 L849.9,733.2 L850.2,732.4 L850.4,731.7 L850.7,730.9 L850.9,730.0 L851.2,729.2 L851.4,728.4 L851.7,727.6 L851.9,726.8 L852.1,726.0 L852.4,725.2 L852.6,724.4 L852.8,723.6 L853.0,722.7 L853.2,721.9 L853.5,721.1 L853.7,720.3 L853.9,719.4 L854.1,718.6 L854.3,717.8 L854.4,717.0 L854.6,716.1 L854.8,715.3 L855.0,714.5 L855.2,713.6 L855.3,712.8 L855.5,712.0 L855.7,711.1 L855.8,710.3 L856.0,709.5 L856.1,708.6 L856.3,707.8 L856.4,706.9 L856.6,706.1 L856.7,705.3 L856.9,704.4 L857.0,703.6 L857.1,702.8 L857.2,701.9 L857.3,701.1 L857.5,700.2 L857.6,699.4 L857.7,698.6 L857.8,697.7 L857.9,696.9 L858.0,696.1 L858.1,695.2 L858.1,694.4 L858.2,693.6 L858.3,692.7 L858.4,691.9 L858.4,691.1 L858.5,690.2 L858.6,689.4 L858.6,688.6 L858.7,687.7 L858.7,686.9 L858.8,686.1 L858.8,685.3 L858.8,684.4 L858.9,683.6 L858.9,682.8 L858.9,682.0 L858.9,681.2 L859.0,680.3 L859.0,679.5 L859.0,678.7 L859.0,677.9 L859.0,677.1 L859.0,676.3 L859.0,675.5 L858.9,674.7 L858.9,673.9 L858.9,673.1 L858.9,672.3 L858.8,671.5 L858.8,670.7 L858.8,669.9 L858.7,669.1 L858.7,668.3 L858.6,667.6 L858.6,666.8 L858.5,666.0 L858.5,665.2 L858.4,664.5 L858.3,663.7 L858.2,662.9 L858.2,662.2 L858.1,661.4 L858.0,660.7 L857.9,659.9 L857.8,659.2 L857.7,658.4 L857.6,657.7 L857.5,657.0 L857.4,656.2 L857.3,655.5 L857.1,654.8 L857.0,654.0 L856.9,653.3 L856.8,652.6 L856.6,651.9 L856.5,651.2 L856.3,650.5 L856.2,649.8 L856.0,649.1 L855.9,648.4 L855.7,647.7 L855.5,647.0 L855.4,646.3 L855.2,645.7 L855.0,645.0 L854.9,644.3 L854.7,643.7 L854.5,643.0 L854.3,642.4 L854.1,641.7 L853.9,641.1 L853.7,640.4 L853.5,639.8 L853.3,639.2 L853.1,638.5 L852.9,637.9 L852.6,637.3 L852.4,636.7 L852.2,636.1 L852.0,635.5 L851.7,634.9 L851.5,634.3 L851.2,633.7 L851.0,633.2 L850.7,632.6 L850.5,632.0 L850.2,631.5 L850.0,630.9 L849.7,630.3 L849.4,629.8 L849.2,629.3 L848.9,628.7 L848.6,628.2 L848.3,627.7 L848.1,627.2 L847.8,626.7 L847.5,626.1 L847.2,625.6 L846.9,625.2 L846.6,624.7 L846.3,624.2 L846.0,623.7 L845.7,623.2 L845.4,622.8 L845.0,622.3 L844.7,621.9 L844.4,621.4 L844.1,621.0 L843.8,620.5 L843.4,620.1 L843.1,619.7 L842.7,619.3 L842.4,618.9 L842.1,618.5 L841.7,618.1 L841.4,617.7 L841.0,617.3 L840.7,616.9 L840.3,616.6 L840.0,616.2 L839.6,615.9 L839.2,615.5 L838.9,615.2 L838.5,614.8 L838.1,614.5 L837.7,614.2 L837.4,613.9 L837.0,613.6 L836.6,613.3 L836.2,613.0 L835.8,612.7 L835.4,612.4 L835.1,612.1 L834.7,611.9 L834.3,611.6 L833.9,611.3 L833.5,611.1 L833.1,610.9 L832.7,610.6 L832.2,610.4 L831.8,610.2 L831.4,610.0 L831.0,609.8 L830.6,609.6 L830.2,609.4 L829.8,609.2 L829.3,609.0 L828.9,608.9 L828.5,608.7 L828.1,608.5 L827.6,608.4 L827.2,608.3 L826.8,608.1 L826.3,608.0 L825.9,607.9 L825.5,607.8 L825.0,607.7 L824.6,607.6Z" fill="none" stroke="#222" stroke-width="1.1" clip-path="url(#clipE)"/>
<path d="M911.5,818.9 L909.8,819.0 L908.1,819.1 L906.5,819.2 L904.8,819.3 L903.1,819.4 L901.5,819.6 L899.8,819.7 L898.1,819.8 L896.5,819.9 L894.8,820.0 L893.1,820.1 L891.5,820.2 L889.8,820.2 L888.2,820.3 L886.5,820.4 L884.8,820.5 L883.2,820.6 L881.5,820.6 L879.9,820.7 L878.2,820.8 L876.6,820.8 L874.9,820.9 L873.3,821.0 L871.7,821.0 L870.0,821.1 L868.4,821.1 L866.8,821.2 L865.1,821.2 L863.5,821.2 L861.9,821.3 L860.3,821.3 L858.7,821.3 L857.1,821.4 L855.5,821.4 L853.9,821.4 L852.3,821.4 L850.7,821.5 L849.1,821.5 L847.5,821.5 L845.9,821.5 L844.3,821.5 L842.8,821.5 L841.2,821.5 L839.6,821.5 L838.1,821.5 L836.5,821.5 L835.0,821.4 L833.5,821.4 L831.9,821.4 L830.4,821.4 L828.9,821.3 L827.4,821.3 L825.9,821.3 L824.4,821.2 L822.9,821.2 L821.4,821.2 L819.9,821.1 L818.4,821.1 L817.0,821.0 L815.5,821.0 L814.1,820.9 L812.6,820.8 L811.2,820.8 L809.7,820.7 L808.3,820.6 L806.9,820.6 L805.5,820.5 L804.1,820.4 L802.7,820.3 L801.3,820.2 L799.9,820.1 L798.6,820.1 L797.2,820.0 L795.9,819.9 L794.5,819.8 L793.2,819.7 L791.9,819.6 L790.5,819.4 L789.2,819.3 L787.9,819.2 L786.6,819.1 L785.4,819.0 L784.1,818.9 L782.8,818.7 L781.6,818.6 L780.3,818.5 L779.1,818.3 L777.9,818.2 L776.7,818.1 L775.5,817.9 L774.3,817.8 L773.1,817.6 L771.9,817.5 L770.8,817.3 L769.6,817.1 L768.5,817.0 L767.4,816.8 L766.2,816.7 L765.1,816.5 L764.0,816.3 L763.0,816.1 L761.9,816.0 L760.8,815.8 L759.8,815.6 L758.7,815.4 L757.7,815.2 L756.7,815.0 L755.7,814.8 L754.7,814.7 L753.7,814.5 L752.7,814.3 L751.8,814.1 L750.8,813.8 L749.9,813.6 L749.0,813.4 L748.1,813.2 L747.2,813.0 L746.3,812.8 L745.4,812.6 L744.5,812.3 L743.7,812.1 L742.9,811.9 L742.0,811.7 L741.2,811.4 L740.4,811.2 L739.7,811.0 L738.9,810.7 L738.1,810.5 L737.4,810.2 L736.6,810.0 L735.9,809.7 L735.2,809.5 L734.5,809.2 L733.9,809.0 L733.2,808.7 L732.5,808.5 L731.9,808.2 L731.3,807.9 L730.7,807.7 L730.1,807.4 L729.5,807.1 L728.9,806.9 L728.3,806.6 L727.8,806.3 L727.3,806.0 L726.8,805.8 L726.3,805.5 L725.8,805.2 L725.3,804.9 L724.8,804.6 L724.4,804.3 L724.0,804.1 L723.5,803.8 L723.1,803.5 L722.7,803.2 L722.4,802.9 L722.0,802.6 L721.7,802.3 L721.3,802.0 L721.0,801.7 L720.7,801.4 L720.4,801.1 L720.1,800.8 L719.9,800.5 L719.6,800.1 L719.4,799.8 L719.2,799.5 L719.0,799.2 L718.8,798.9 L718.6,798.6 L718.5,798.2 L718.3,797.9 L718.2,797.6 L718.1,797.3 L718.0,797.0 L717.9,796.6 L717.8,796.3 L717.8,796.0 L717.7,795.7 L717.7,795.3 L717.7,795.0 L717.7,794.7 L717.7,794.3 L717.7,794.0 L717.8,793.7 L717.8,793.3 L717.9,793.0 L718.0,792.6 L718.1,792.3 L718.2,792.0 L718.3,791.6 L718.5,791.3 L718.6,790.9 L718.8,790.6 L719.0,790.3 L719.2,789.9 L719.4,789.6 L719.7,789.2 L719.9,788.9 L720.2,788.5 L720.4,788.2 L720.7,787.8 L721.0,787.5 L721.4,787.1 L721.7,786.8 L722.0,786.4 L722.4,786.1 L722.8,785.7 L723.2,785.4 L723.6,785.0 L724.0,784.7 L724.4,784.3 L724.9,784.0 L725.3,783.6 L725.8,783.3 L726.3,782.9 L726.8,782.6 L727.3,782.2 L727.9,781.9 L728.4,781.5 L729.0,781.2 L729.5,780.8 L730.1,780.5 L730.7,780.1 L731.3,779.7 L732.0,779.4 L732.6,779.0 L733.3,778.7 L733.9,778.3 L734.6,778.0 L735.3,777.6 L736.0,777.3 L736.7,776.9 L737.5,776.6 L738.2,776.2 L739.0,775.9 L739.7,775.5 L740.5,775.2 L741.3,774.8 L742.1,774.5 L742.9,774.1 L743.8,773.8 L744.6,773.4 L745.5,773.1 L746.4,772.7 L747.3,772.4 L748.2,772.1 L749.1,771.7 L750.0,771.4 L750.9,771.0 L751.9,770.7 L752.8,770.3 L753.8,770.0 L754.8,769.7 L755.8,769.3 L756.8,769.0 L757.8,768.7 L758.8,768.3 L759.9,768.0 L760.9,767.6 L762.0,767.3 L763.1,767.0 L764.1,766.7 L765.2,766.3 L766.4,766.0 L767.5,765.7 L768.6,765.3 L769.7,765.0 L770.9,764.7 L772.1,764.4 L773.2,764.1 L774.4,763.7 L775.6,763.4 L776.8,763.1 L778.0,762.8 L779.2,762.5 L780.5,762.2 L781.7,761.8 L783.0,761.5 L784.2,761.2 L785.5,760.9 L786.8,760.6 L788.1,760.3 L789.4,760.0 L790.7,759.7 L792.0,759.4 L793.3,759.1 L794.6,758.8 L796.0,758.5 L797.3,758.2 L798.7,757.9 L800.1,757.6 L801.4,757.4 L802.8,757.1 L804.2,756.8 L805.6,756.5 L807.0,756.2 L808.5,756.0 L809.9,755.7 L811.3,755.4 L812.8,755.1 L814.2,754.9 L815.7,754.6 L817.1,754.3 L818.6,754.1 L820.1,753.8 L821.5,753.5 L823.0,753.3 L824.5,753.0 L826.0,752.8 L827.5,752.5 L829.0,752.3 L830.6,752.0 L832.1,751.8 L833.6,751.5 L835.2,751.3 L836.7,751.1 L838.3,750.8 L839.8,750.6 L841.4,750.4 L842.9,750.1 L844.5,749.9 L846.1,749.7 L847.7,749.5 L849.2,749.3 L850.8,749.0 L852.4,748.8 L854.0,748.6 L855.6,748.4 L857.2,748.2 L858.8,748.0 L860.4,747.8 L862.1,747.6 L863.7,747.4 L865.3,747.2 L866.9,747.0 L868.6,746.8 L870.2,746.6 L871.8,746.5 L873.5,746.3 L875.1,746.1 L876.8,745.9 L878.4,745.7 L880.1,745.6 L881.7,745.4 L883.4,745.2 L885.0,745.1 L886.7,744.9 L888.3,744.8 L890.0,744.6 L891.7,744.5 L893.3,744.3 L895.0,744.2 L896.6,744.0 L898.3,743.9 L900.0,743.8 L901.6,743.6 L903.3,743.5 L905.0,743.4 L906.7,743.2 L908.3,743.1 L910.0,743.0 L911.7,742.9 L913.3,742.8 L915.0,742.6 L916.7,742.5 L918.3,742.4 L920.0,742.3 L921.7,742.2 L923.3,742.1 L925.0,742.0 L926.7,742.0 L928.3,741.9 L930.0,741.8 L931.6,741.7 L933.3,741.6 L934.9,741.6 L936.6,741.5 L938.2,741.4 L939.9,741.3 L941.5,741.3 L943.2,741.2 L944.8,741.2 L946.5,741.1 L948.1,741.1 L949.7,741.0 L951.4,741.0 L953.0,740.9 L954.6,740.9 L956.2,740.9 L957.8,740.8 L959.4,740.8 L961.0,740.8 L962.7,740.7 L964.2,740.7 L965.8,740.7 L967.4,740.7 L969.0,740.7 L970.6,740.7 L972.2,740.7 L973.7,740.7 L975.3,740.7 L976.9,740.7 L978.4,740.7 L980.0,740.7 L981.5,740.7 L983.1,740.7 L984.6,740.7 L986.1,740.8 L987.7,740.8 L989.2,740.8 L990.7,740.9 L992.2,740.9 L993.7,740.9 L995.2,741.0 L996.7,741.0 L998.1,741.1 L999.6,741.1 L1001.1,741.2 L1002.5,741.2 L1004.0,741.3 L1005.4,741.3 L1006.9,741.4 L1008.3,741.5 L1009.7,741.6 L1011.1,741.6 L1012.5,741.7 L1013.9,741.8 L1015.3,741.9 L1016.7,742.0 L1018.1,742.1 L1019.4,742.1 L1020.8,742.2 L1022.1,742.3 L1023.5,742.4 L1024.8,742.5 L1026.1,742.7 L1027.4,742.8 L1028.7,742.9 L1030.0,743.0 L1031.3,743.1 L1032.6,743.2 L1033.8,743.4 L1035.1,743.5 L1036.3,743.6 L1037.6,743.8 L1038.8,743.9 L1040.0,744.0 L1041.2,744.2 L1042.4,744.3 L1043.6,744.5 L1044.8,744.6 L1046.0,744.8 L1047.1,744.9 L1048.3,745.1 L1049.4,745.3 L1050.5,745.4 L1051.6,745.6 L1052.7,745.8 L1053.8,745.9 L1054.9,746.1 L1056.0,746.3 L1057.0,746.5 L1058.1,746.6 L1059.1,746.8 L1060.1,747.0 L1061.1,747.2 L1062.1,747.4 L1063.1,747.6 L1064.1,747.8 L1065.1,748.0 L1066.0,748.2 L1066.9,748.4 L1067.9,748.6 L1068.8,748.8 L1069.7,749.0 L1070.6,749.3 L1071.5,749.5 L1072.3,749.7 L1073.2,749.9 L1074.0,750.2 L1074.9,750.4 L1075.7,750.6 L1076.5,750.8 L1077.3,751.1 L1078.0,751.3 L1078.8,751.6 L1079.6,751.8 L1080.3,752.0 L1081.0,752.3 L1081.7,752.5 L1082.4,752.8 L1083.1,753.0 L1083.8,753.3 L1084.4,753.6 L1085.1,753.8 L1085.7,754.1 L1086.3,754.3 L1086.9,754.6 L1087.5,754.9 L1088.1,755.1 L1088.7,755.4 L1089.2,755.7 L1089.8,756.0 L1090.3,756.2 L1090.8,756.5 L1091.3,756.8 L1091.8,757.1 L1092.2,757.4 L1092.7,757.7 L1093.1,757.9 L1093.6,758.2 L1094.0,758.5 L1094.4,758.8 L1094.7,759.1 L1095.1,759.4 L1095.5,759.7 L1095.8,760.0 L1096.1,760.3 L1096.4,760.6 L1096.7,760.9 L1097.0,761.2 L1097.3,761.5 L1097.5,761.9 L1097.8,762.2 L1098.0,762.5 L1098.2,762.8 L1098.4,763.1 L1098.6,763.4 L1098.8,763.7 L1098.9,764.1 L1099.1,764.4 L1099.2,764.7 L1099.3,765.0 L1099.4,765.4 L1099.5,765.7 L1099.5,766.0 L1099.6,766.3 L1099.6,766.7 L1099.6,767.0 L1099.6,767.3 L1099.6,767.7 L1099.6,768.0 L1099.6,768.3 L1099.5,768.7 L1099.5,769.0 L1099.4,769.3 L1099.3,769.7 L1099.2,770.0 L1099.0,770.4 L1098.9,770.7 L1098.7,771.0 L1098.6,771.4 L1098.4,771.7 L1098.2,772.1 L1098.0,772.4 L1097.8,772.8 L1097.5,773.1 L1097.3,773.4 L1097.0,773.8 L1096.7,774.1 L1096.4,774.5 L1096.1,774.8 L1095.8,775.2 L1095.4,775.5 L1095.1,775.9 L1094.7,776.2 L1094.3,776.6 L1093.9,776.9 L1093.5,777.3 L1093.1,777.6 L1092.6,778.0 L1092.2,778.3 L1091.7,778.7 L1091.2,779.1 L1090.7,779.4 L1090.2,779.8 L1089.7,780.1 L1089.2,780.5 L1088.6,780.8 L1088.1,781.2 L1087.5,781.5 L1086.9,781.9 L1086.3,782.2 L1085.7,782.6 L1085.0,782.9 L1084.4,783.3 L1083.7,783.6 L1083.0,784.0 L1082.4,784.3 L1081.7,784.7 L1080.9,785.1 L1080.2,785.4 L1079.5,785.8 L1078.7,786.1 L1078.0,786.5 L1077.2,786.8 L1076.4,787.2 L1075.6,787.5 L1074.8,787.8 L1073.9,788.2 L1073.1,788.5 L1072.2,788.9 L1071.4,789.2 L1070.5,789.6 L1069.6,789.9 L1068.7,790.3 L1067.8,790.6 L1066.9,791.0 L1065.9,791.3 L1065.0,791.6 L1064.0,792.0 L1063.0,792.3 L1062.0,792.7 L1061.0,793.0 L1060.0,793.3 L1059.0,793.7 L1058.0,794.0 L1056.9,794.3 L1055.9,794.7 L1054.8,795.0 L1053.7,795.3 L1052.6,795.7 L1051.5,796.0 L1050.4,796.3 L1049.3,796.6 L1048.1,797.0 L1047.0,797.3 L1045.8,797.6 L1044.7,797.9 L1043.5,798.3 L1042.3,798.6 L1041.1,798.9 L1039.9,799.2 L1038.7,799.5 L1037.5,799.8 L1036.2,800.2 L1035.0,800.5 L1033.7,800.8 L1032.4,801.1 L1031.2,801.4 L1029.9,801.7 L1028.6,802.0 L1027.3,802.3 L1026.0,802.6 L1024.7,802.9 L1023.3,803.2 L1022.0,803.5 L1020.6,803.8 L1019.3,804.1 L1017.9,804.4 L1016.5,804.6 L1015.2,804.9 L1013.8,805.2 L1012.4,805.5 L1011.0,805.8 L1009.6,806.1 L1008.1,806.3 L1006.7,806.6 L1005.3,806.9 L1003.8,807.2 L1002.4,807.4 L1000.9,807.7 L999.5,808.0 L998.0,808.2 L996.5,808.5 L995.0,808.7 L993.5,809.0 L992.0,809.2 L990.5,809.5 L989.0,809.7 L987.5,810.0 L986.0,810.2 L984.4,810.5 L982.9,810.7 L981.4,811.0 L979.8,811.2 L978.3,811.4 L976.7,811.7 L975.2,811.9 L973.6,812.1 L972.0,812.3 L970.4,812.6 L968.9,812.8 L967.3,813.0 L965.7,813.2 L964.1,813.4 L962.5,813.6 L960.9,813.9 L959.3,814.1 L957.7,814.3 L956.0,814.5 L954.4,814.7 L952.8,814.9 L951.2,815.0 L949.6,815.2 L947.9,815.4 L946.3,815.6 L944.7,815.8 L943.0,816.0 L941.4,816.1 L939.7,816.3 L938.1,816.5 L936.4,816.7 L934.8,816.8 L933.1,817.0 L931.5,817.2 L929.8,817.3 L928.1,817.5 L926.5,817.6 L924.8,817.8 L923.2,817.9 L921.5,818.1 L919.8,818.2 L918.2,818.3 L916.5,818.5 L914.8,818.6 L913.2,818.7 L911.5,818.9Z" fill="none" stroke="#222" stroke-width="1.1" clip-path="url(#clipE)"/>
<line x1="791.0" y1="800.0" x2="827.7" y2="608.3" stroke="#222" stroke-width="1.1" />
<line x1="796.7" y1="799.0" x2="1089.0" y2="759.5" stroke="#222" stroke-width="1.1" />
<path d="M811.0,694.3 L825.0,695.0 L841.0,697.7 L857.0,703.0 L867.7,709.7 L882.7,722.0 L894.9,741.6 L902.2,761.1 L907.1,783.1" fill="none" stroke="#000" stroke-width="2.4" stroke-linejoin="round"/>
<text x="877.0" y="728.0" font-size="41" fill="#000" text-anchor="middle" font-family="'DejaVu Serif', serif" >φ</text>
<text x="847.5" y="536.7" font-size="29" fill="#e60000" text-anchor="start" font-family="'Liberation Sans', Arial, sans-serif" >Lipids</text>
<text x="1110.6" y="725.6" font-size="30" fill="#0c1c62" text-anchor="start" font-family="'Liberation Sans', Arial, sans-serif" >Proteins</text>
<text x="1085.0" y="551.6" font-size="41" fill="#000" text-anchor="start" font-family="'DejaVu Serif', serif" textLength="164" lengthAdjust="spacingAndGlyphs">φ=62.8°</text>
<rect x="1425.2" y="494.0" width="406.0" height="320.0" fill="#fff"/>
<g transform="translate(1425.2 494.0) scale(7.9608 6.2745)" shape-rendering="crispEdges"><path fill="#0000ff" d="M1 0h41.04v1.04h-41.04zM0 1h1.04v1.04h-1.04zM2 1h1.04v1.04h-1.04zM4 1h4.04v1.04h-4.04zM9 1h28.04v1.04h-28.04zM38 1h2.04v1.04h-2.04zM41 1h1.04v1.04h-1.04zM1 2h2.04v1.04h-2.04zM5 2h36.04v1.04h-36.04zM0 3h1.04v1.04h-1.04zM2 3h40.04v1.04h-40.04zM1 4h6.04v1.04h-6.04zM8 4h34.04v1.04h-34.04zM0 5h1.04v1.04h-1.04zM2 5h2.04v1.04h-2.04zM5 5h1.04v1.04h-1.04zM7 5h31.04v1.04h-31.04zM39 5h2.04v1.04h-2.04zM45 5h1.04v1.04h-1.04zM1 6h1.04v1.04h-1.04zM3 6h38.04v1.04h-38.04zM45 6h1.04v1.04h-1.04zM0 7h6.04v1.04h-6.04zM7 7h37.04v1.04h-37.04zM45 7h1.04v1.04h-1.04zM1 8h3.04v1.04h-3.04zM5 8h37.04v1.04h-37.04zM46 8h1.04v1.04h-1.04zM0 9h39.04v1.04h-39.04zM40 9h2.04v1.04h-2.04zM45 9h1.04v1.04h-1.04zM47 9h1.04v1.04h-1.04zM0 10h21.04v1.04h-21.04zM22 10h22.04v1.04h-22.04zM45 10h1.04v1.04h-1.04zM0 11h40.04v1.04h-40.04zM42 11h4.04v1.04h-4.04zM47 11h1.04v1.04h-1.04zM0 12h36.04v1.04h-36.04zM39 12h3.04v1.04h-3.04zM43 12h3.04v1.04h-3.04zM48 12h1.04v1.04h-1.04zM0 13h42.04v1.04h-42.04zM43 13h1.04v1.04h-1.04zM48 13h1.04v1.04h-1.04zM1 14h27.04v1.04h-27.04zM29 14h8.04v1.04h-8.04zM38 14h1.04v1.04h-1.04zM42 14h4.04v1.04h-4.04zM47 14h1.04v1.04h-1.04zM49 14h1.04v1.04h-1.04zM0 15h35.04v1.04h-35.04zM36 15h3.04v1.04h-3.04zM40 15h1.04v1.04h-1.04zM44 15h3.04v1.04h-3.04zM48 15h1.04v1.04h-1.04zM0 16h34.04v1.04h-34.04zM35 16h5.04v1.04h-5.04zM41 16h4.04v1.04h-4.04zM46 16h1.04v1.04h-1.04zM48 16h2.04v1.04h-2.04zM0 17h32.04v1.04h-32.04zM33 17h11.04v1.04h-11.04zM46 17h1.04v1.04h-1.04zM48 17h1.04v1.04h-1.04zM0 18h36.04v1.04h-36.04zM37 18h1.04v1.04h-1.04zM41 18h1.04v1.04h-1.04zM43 18h1.04v1.04h-1.04zM45 18h3.04v1.04h-3.04zM0 19h41.04v1.04h-41.04zM42 19h2.04v1.04h-2.04zM0 20h42.04v1.04h-42.04zM43 20h1.04v1.04h-1.04zM45 20h2.04v1.04h-2.04zM49 20h1.04v1.04h-1.04zM0 21h41.04v1.04h-41.04zM42 21h2.04v1.04h-2.04zM45 21h1.04v1.04h-1.04zM47 21h2.04v1.04h-2.04zM0 22h44.04v1.04h-44.04zM46 22h3.04v1.04h-3.04zM0 23h23.04v1.04h-23.04zM24 23h9.04v1.04h-9.04zM34 23h6.04v1.04h-6.04zM42 23h2.04v1.04h-2.04zM45 23h2.04v1.04h-2.04zM0 24h35.04v1.04h-35.04zM36 24h2.04v1.04h-2.04zM41 24h1.04v1.04h-1.04zM43 24h5.04v1.04h-5.04zM0 25h37.04v1.04h-37.04zM38 25h2.04v1.04h-2.04zM42 25h1.04v1.04h-1.04zM45 25h3.04v1.04h-3.04zM0 26h40.04v1.04h-40.04zM42 26h2.04v1.04h-2.04zM45 26h3.04v1.04h-3.04zM0 27h34.04v1.04h-34.04zM35 27h6.04v1.04h-6.04zM42 27h2.04v1.04h-2.04zM45 27h1.04v1.04h-1.04zM47 27h1.04v1.04h-1.04zM0 28h1.04v1.04h-1.04zM2 28h21.04v1.04h-21.04zM24 28h3.04v1.04h-3.04zM28 28h13.04v1.04h-13.04zM42 28h2.04v1.04h-2.04zM45 28h3.04v1.04h-3.04zM0 29h38.04v1.04h-38.04zM40 29h2.04v1.04h-2.04zM43 29h4.04v1.04h-4.04zM0 30h13.04v1.04h-13.04zM14 30h13.04v1.04h-13.04zM28 30h12.04v1.04h-12.04zM41 30h6.04v1.04h-6.04zM0 31h29.04v1.04h-29.04zM30 31h3.04v1.04h-3.04zM34 31h5.04v1.04h-5.04zM41 31h3.04v1.04h-3.04zM45 31h4.04v1.04h-4.04zM0 32h32.04v1.04h-32.04zM33 32h3.04v1.04h-3.04zM38 32h1.04v1.04h-1.04zM40 32h4.04v1.04h-4.04zM46 32h1.04v1.04h-1.04zM0 33h5.04v1.04h-5.04zM6 33h21.04v1.04h-21.04zM28 33h3.04v1.04h-3.04zM32 33h3.04v1.04h-3.04zM37 33h3.04v1.04h-3.04zM41 33h1.04v1.04h-1.04zM45 33h1.04v1.04h-1.04zM47 33h1.04v1.04h-1.04zM0 34h8.04v1.04h-8.04zM9 34h4.04v1.04h-4.04zM14 34h7.04v1.04h-7.04zM22 34h12.04v1.04h-12.04zM36 34h2.04v1.04h-2.04zM39 34h6.04v1.04h-6.04zM46 34h1.04v1.04h-1.04zM0 35h25.04v1.04h-25.04zM26 35h1.04v1.04h-1.04zM28 35h1.04v1.04h-1.04zM30 35h4.04v1.04h-4.04zM35 35h4.04v1.04h-4.04zM41 35h2.04v1.04h-2.04zM45 35h2.04v1.04h-2.04zM0 36h10.04v1.04h-10.04zM11 36h3.04v1.04h-3.04zM17 36h5.04v1.04h-5.04zM24 36h7.04v1.04h-7.04zM34 36h4.04v1.04h-4.04zM40 36h7.04v1.04h-7.04zM0 37h11.04v1.04h-11.04zM13 37h2.04v1.04h-2.04zM16 37h4.04v1.04h-4.04zM21 37h19.04v1.04h-19.04zM41 37h3.04v1.04h-3.04zM0 38h10.04v1.04h-10.04zM12 38h1.04v1.04h-1.04zM14 38h1.04v1.04h-1.04zM16 38h11.04v1.04h-11.04zM28 38h3.04v1.04h-3.04zM32 38h5.04v1.04h-5.04zM39 38h1.04v1.04h-1.04zM42 38h1.04v1.04h-1.04zM45 38h1.04v1.04h-1.04zM0 39h9.04v1.04h-9.04zM14 39h1.04v1.04h-1.04zM18 39h1.04v1.04h-1.04zM22 39h3.04v1.04h-3.04zM26 39h2.04v1.04h-2.04zM29 39h4.04v1.04h-4.04zM34 39h4.04v1.04h-4.04zM39 39h2.04v1.04h-2.04zM43 39h2.04v1.04h-2.04zM0 40h8.04v1.04h-8.04zM12 40h1.04v1.04h-1.04zM14 40h1.04v1.04h-1.04zM16 40h1.04v1.04h-1.04zM19 40h1.04v1.04h-1.04zM25 40h1.04v1.04h-1.04zM27 40h6.04v1.04h-6.04zM34 40h3.04v1.04h-3.04zM38 40h1.04v1.04h-1.04zM41 40h1.04v1.04h-1.04zM43 40h1.04v1.04h-1.04zM1 41h8.04v1.04h-8.04zM12 41h2.04v1.04h-2.04zM17 41h1.04v1.04h-1.04zM19 41h1.04v1.04h-1.04zM29 41h3.04v1.04h-3.04zM33 41h1.04v1.04h-1.04zM35 41h1.04v1.04h-1.04zM37 41h1.04v1.04h-1.04zM39 41h1.04v1.04h-1.04zM41 41h1.04v1.04h-1.04zM0 42h7.04v1.04h-7.04zM9 42h1.04v1.04h-1.04zM12 42h1.04v1.04h-1.04zM14 42h3.04v1.04h-3.04zM18 42h1.04v1.04h-1.04zM27 42h1.04v1.04h-1.04zM29 42h3.04v1.04h-3.04zM34 42h3.04v1.04h-3.04zM39 42h1.04v1.04h-1.04zM41 42h1.04v1.04h-1.04zM0 43h2.04v1.04h-2.04zM3 43h4.04v1.04h-4.04zM8 43h1.04v1.04h-1.04zM10 43h1.04v1.04h-1.04zM12 43h1.04v1.04h-1.04zM14 43h5.04v1.04h-5.04zM30 43h1.04v1.04h-1.04zM32 43h4.04v1.04h-4.04zM39 43h4.04v1.04h-4.04zM1 44h7.04v1.04h-7.04zM9 44h2.04v1.04h-2.04zM12 44h1.04v1.04h-1.04zM15 44h1.04v1.04h-1.04zM19 44h1.04v1.04h-1.04zM33 44h2.04v1.04h-2.04zM41 44h1.04v1.04h-1.04zM0 45h2.04v1.04h-2.04zM4 45h6.04v1.04h-6.04zM11 45h1.04v1.04h-1.04zM18 45h3.04v1.04h-3.04zM30 45h1.04v1.04h-1.04zM32 45h2.04v1.04h-2.04zM6 46h3.04v1.04h-3.04zM10 46h2.04v1.04h-2.04zM15 46h1.04v1.04h-1.04zM17 46h1.04v1.04h-1.04zM34 46h1.04v1.04h-1.04zM6 47h1.04v1.04h-1.04zM8 47h7.04v1.04h-7.04zM9 48h1.04v1.04h-1.04zM12 48h2.04v1.04h-2.04zM15 48h3.04v1.04h-3.04zM11 49h2.04v1.04h-2.04zM14 49h3.04v1.04h-3.04zM18 49h2.04v1.04h-2.04zM15 50h1.04v1.04h-1.04zM18 50h1.04v1.04h-1.04zM20 50h1.04v1.04h-1.04z"/><path fill="#ff0000" d="M0 0h1.04v1.04h-1.04zM1 1h1.04v1.04h-1.04zM3 1h1.04v1.04h-1.04zM8 1h1.04v1.04h-1.04zM37 1h1.04v1.04h-1.04zM40 1h1.04v1.04h-1.04zM49 1h1.04v1.04h-1.04zM0 2h1.04v1.04h-1.04zM3 2h2.04v1.04h-2.04zM41 2h1.04v1.04h-1.04zM1 3h1.04v1.04h-1.04zM0 4h1.04v1.04h-1.04zM7 4h1.04v1.04h-1.04zM1 5h1.04v1.04h-1.04zM4 5h1.04v1.04h-1.04zM6 5h1.04v1.04h-1.04zM38 5h1.04v1.04h-1.04zM41 5h1.04v1.04h-1.04zM0 6h1.04v1.04h-1.04zM2 6h1.04v1.04h-1.04zM41 6h3.04v1.04h-3.04zM49 6h1.04v1.04h-1.04zM6 7h1.04v1.04h-1.04zM49 7h1.04v1.04h-1.04zM0 8h1.04v1.04h-1.04zM4 8h1.04v1.04h-1.04zM42 8h2.04v1.04h-2.04zM45 8h1.04v1.04h-1.04zM47 8h1.04v1.04h-1.04zM39 9h1.04v1.04h-1.04zM42 9h2.04v1.04h-2.04zM46 9h1.04v1.04h-1.04zM21 10h1.04v1.04h-1.04zM44 10h1.04v1.04h-1.04zM46 10h2.04v1.04h-2.04zM40 11h2.04v1.04h-2.04zM46 11h1.04v1.04h-1.04zM36 12h3.04v1.04h-3.04zM42 12h1.04v1.04h-1.04zM46 12h2.04v1.04h-2.04zM42 13h1.04v1.04h-1.04zM44 13h4.04v1.04h-4.04zM0 14h1.04v1.04h-1.04zM28 14h1.04v1.04h-1.04zM37 14h1.04v1.04h-1.04zM39 14h3.04v1.04h-3.04zM46 14h1.04v1.04h-1.04zM48 14h1.04v1.04h-1.04zM35 15h1.04v1.04h-1.04zM39 15h1.04v1.04h-1.04zM41 15h3.04v1.04h-3.04zM47 15h1.04v1.04h-1.04zM49 15h1.04v1.04h-1.04zM34 16h1.04v1.04h-1.04zM40 16h1.04v1.04h-1.04zM45 16h1.04v1.04h-1.04zM47 16h1.04v1.04h-1.04zM32 17h1.04v1.04h-1.04zM44 17h2.04v1.04h-2.04zM47 17h1.04v1.04h-1.04zM36 18h1.04v1.04h-1.04zM38 18h3.04v1.04h-3.04zM42 18h1.04v1.04h-1.04zM44 18h1.04v1.04h-1.04zM48 18h1.04v1.04h-1.04zM41 19h1.04v1.04h-1.04zM44 19h1.04v1.04h-1.04zM46 19h3.04v1.04h-3.04zM42 20h1.04v1.04h-1.04zM44 20h1.04v1.04h-1.04zM47 20h2.04v1.04h-2.04zM41 21h1.04v1.04h-1.04zM44 21h1.04v1.04h-1.04zM46 21h1.04v1.04h-1.04zM44 22h2.04v1.04h-2.04zM23 23h1.04v1.04h-1.04zM33 23h1.04v1.04h-1.04zM40 23h2.04v1.04h-2.04zM44 23h1.04v1.04h-1.04zM47 23h2.04v1.04h-2.04zM35 24h1.04v1.04h-1.04zM38 24h3.04v1.04h-3.04zM42 24h1.04v1.04h-1.04zM48 24h1.04v1.04h-1.04zM37 25h1.04v1.04h-1.04zM40 25h2.04v1.04h-2.04zM43 25h2.04v1.04h-2.04zM48 25h1.04v1.04h-1.04zM40 26h2.04v1.04h-2.04zM44 26h1.04v1.04h-1.04zM48 26h1.04v1.04h-1.04zM34 27h1.04v1.04h-1.04zM41 27h1.04v1.04h-1.04zM44 27h1.04v1.04h-1.04zM46 27h1.04v1.04h-1.04zM48 27h1.04v1.04h-1.04zM1 28h1.04v1.04h-1.04zM23 28h1.04v1.04h-1.04zM27 28h1.04v1.04h-1.04zM41 28h1.04v1.04h-1.04zM44 28h1.04v1.04h-1.04zM48 28h1.04v1.04h-1.04zM38 29h2.04v1.04h-2.04zM42 29h1.04v1.04h-1.04zM47 29h2.04v1.04h-2.04zM13 30h1.04v1.04h-1.04zM27 30h1.04v1.04h-1.04zM40 30h1.04v1.04h-1.04zM47 30h2.04v1.04h-2.04zM29 31h1.04v1.04h-1.04zM33 31h1.04v1.04h-1.04zM39 31h2.04v1.04h-2.04zM44 31h1.04v1.04h-1.04zM32 32h1.04v1.04h-1.04zM36 32h2.04v1.04h-2.04zM39 32h1.04v1.04h-1.04zM44 32h2.04v1.04h-2.04zM47 32h2.04v1.04h-2.04zM5 33h1.04v1.04h-1.04zM27 33h1.04v1.04h-1.04zM31 33h1.04v1.04h-1.04zM35 33h2.04v1.04h-2.04zM40 33h1.04v1.04h-1.04zM42 33h3.04v1.04h-3.04zM46 33h1.04v1.04h-1.04zM48 33h1.04v1.04h-1.04zM8 34h1.04v1.04h-1.04zM13 34h1.04v1.04h-1.04zM21 34h1.04v1.04h-1.04zM34 34h2.04v1.04h-2.04zM38 34h1.04v1.04h-1.04zM47 34h1.04v1.04h-1.04zM25 35h1.04v1.04h-1.04zM27 35h1.04v1.04h-1.04zM29 35h1.04v1.04h-1.04zM34 35h1.04v1.04h-1.04zM39 35h2.04v1.04h-2.04zM43 35h2.04v1.04h-2.04zM10 36h1.04v1.04h-1.04zM14 36h3.04v1.04h-3.04zM22 36h2.04v1.04h-2.04zM31 36h3.04v1.04h-3.04zM38 36h2.04v1.04h-2.04zM11 37h2.04v1.04h-2.04zM15 37h1.04v1.04h-1.04zM20 37h1.04v1.04h-1.04zM40 37h1.04v1.04h-1.04zM44 37h2.04v1.04h-2.04zM10 38h2.04v1.04h-2.04zM13 38h1.04v1.04h-1.04zM15 38h1.04v1.04h-1.04zM27 38h1.04v1.04h-1.04zM31 38h1.04v1.04h-1.04zM37 38h2.04v1.04h-2.04zM40 38h2.04v1.04h-2.04zM43 38h2.04v1.04h-2.04zM9 39h4.04v1.04h-4.04zM15 39h3.04v1.04h-3.04zM19 39h1.04v1.04h-1.04zM25 39h1.04v1.04h-1.04zM28 39h1.04v1.04h-1.04zM33 39h1.04v1.04h-1.04zM38 39h1.04v1.04h-1.04zM41 39h2.04v1.04h-2.04zM45 39h1.04v1.04h-1.04zM8 40h4.04v1.04h-4.04zM15 40h1.04v1.04h-1.04zM26 40h1.04v1.04h-1.04zM33 40h1.04v1.04h-1.04zM37 40h1.04v1.04h-1.04zM39 40h2.04v1.04h-2.04zM42 40h1.04v1.04h-1.04zM44 40h2.04v1.04h-2.04zM0 41h1.04v1.04h-1.04zM9 41h2.04v1.04h-2.04zM14 41h2.04v1.04h-2.04zM25 41h4.04v1.04h-4.04zM32 41h1.04v1.04h-1.04zM34 41h1.04v1.04h-1.04zM38 41h1.04v1.04h-1.04zM40 41h1.04v1.04h-1.04zM42 41h2.04v1.04h-2.04zM7 42h2.04v1.04h-2.04zM10 42h1.04v1.04h-1.04zM13 42h1.04v1.04h-1.04zM17 42h1.04v1.04h-1.04zM19 42h1.04v1.04h-1.04zM28 42h1.04v1.04h-1.04zM32 42h2.04v1.04h-2.04zM37 42h2.04v1.04h-2.04zM40 42h1.04v1.04h-1.04zM42 42h1.04v1.04h-1.04zM2 43h1.04v1.04h-1.04zM7 43h1.04v1.04h-1.04zM9 43h1.04v1.04h-1.04zM13 43h1.04v1.04h-1.04zM29 43h1.04v1.04h-1.04zM31 43h1.04v1.04h-1.04zM37 43h1.04v1.04h-1.04zM0 44h1.04v1.04h-1.04zM8 44h1.04v1.04h-1.04zM11 44h1.04v1.04h-1.04zM14 44h1.04v1.04h-1.04zM16 44h3.04v1.04h-3.04zM20 44h1.04v1.04h-1.04zM29 44h4.04v1.04h-4.04zM35 44h1.04v1.04h-1.04zM40 44h1.04v1.04h-1.04zM2 45h2.04v1.04h-2.04zM10 45h1.04v1.04h-1.04zM12 45h4.04v1.04h-4.04zM17 45h1.04v1.04h-1.04zM29 45h1.04v1.04h-1.04zM34 45h1.04v1.04h-1.04zM3 46h3.04v1.04h-3.04zM9 46h1.04v1.04h-1.04zM12 46h3.04v1.04h-3.04zM18 46h1.04v1.04h-1.04zM32 46h1.04v1.04h-1.04zM7 47h1.04v1.04h-1.04zM15 47h3.04v1.04h-3.04zM32 47h1.04v1.04h-1.04zM8 48h1.04v1.04h-1.04zM10 48h2.04v1.04h-2.04zM14 48h1.04v1.04h-1.04zM18 48h1.04v1.04h-1.04zM13 49h1.04v1.04h-1.04zM17 49h1.04v1.04h-1.04zM14 50h1.04v1.04h-1.04zM17 50h1.04v1.04h-1.04zM19 50h1.04v1.04h-1.04zM21 50h1.04v1.04h-1.04zM32 50h2.04v1.04h-2.04z"/></g>
<rect x="1425.2" y="494.0" width="406.0" height="320.0" fill="none" stroke="#262626" stroke-width="1.2"/>
<text x="1429.2" y="852.1" font-size="24.5" fill="#404040" text-anchor="middle" font-family="'Liberation Sans', Arial, sans-serif" >0</text>
<text x="1413.0" y="505.9" font-size="24.5" fill="#404040" text-anchor="end" font-family="'Liberation Sans', Arial, sans-serif" >0</text>
<line x1="1429.2" y1="814.0" x2="1429.2" y2="810.0" stroke="#262626" stroke-width="1.2" />
<line x1="1429.2" y1="494.0" x2="1429.2" y2="498.0" stroke="#262626" stroke-width="1.2" />
<line x1="1425.2" y1="497.1" x2="1429.2" y2="497.1" stroke="#262626" stroke-width="1.2" />
<line x1="1831.2" y1="497.1" x2="1827.2" y2="497.1" stroke="#262626" stroke-width="1.2" />
<text x="1561.9" y="852.1" font-size="24.5" fill="#404040" text-anchor="middle" font-family="'Liberation Sans', Arial, sans-serif" >5</text>
<text x="1413.0" y="610.5" font-size="24.5" fill="#404040" text-anchor="end" font-family="'Liberation Sans', Arial, sans-serif" >5</text>
<line x1="1561.9" y1="814.0" x2="1561.9" y2="810.0" stroke="#262626" stroke-width="1.2" />
<line x1="1561.9" y1="494.0" x2="1561.9" y2="498.0" stroke="#262626" stroke-width="1.2" />
<line x1="1425.2" y1="601.7" x2="1429.2" y2="601.7" stroke="#262626" stroke-width="1.2" />
<line x1="1831.2" y1="601.7" x2="1827.2" y2="601.7" stroke="#262626" stroke-width="1.2" />
<text x="1694.5" y="852.1" font-size="24.5" fill="#404040" text-anchor="middle" font-family="'Liberation Sans', Arial, sans-serif" >10</text>
<text x="1413.0" y="715.1" font-size="24.5" fill="#404040" text-anchor="end" font-family="'Liberation Sans', Arial, sans-serif" >10</text>
<line x1="1694.5" y1="814.0" x2="1694.5" y2="810.0" stroke="#262626" stroke-width="1.2" />
<line x1="1694.5" y1="494.0" x2="1694.5" y2="498.0" stroke="#262626" stroke-width="1.2" />
<line x1="1425.2" y1="706.3" x2="1429.2" y2="706.3" stroke="#262626" stroke-width="1.2" />
<line x1="1831.2" y1="706.3" x2="1827.2" y2="706.3" stroke="#262626" stroke-width="1.2" />
<text x="1827.2" y="852.1" font-size="24.5" fill="#404040" text-anchor="middle" font-family="'Liberation Sans', Arial, sans-serif" >15</text>
<text x="1413.0" y="819.7" font-size="24.5" fill="#404040" text-anchor="end" font-family="'Liberation Sans', Arial, sans-serif" >15</text>
<line x1="1827.2" y1="814.0" x2="1827.2" y2="810.0" stroke="#262626" stroke-width="1.2" />
<line x1="1827.2" y1="494.0" x2="1827.2" y2="498.0" stroke="#262626" stroke-width="1.2" />
<line x1="1425.2" y1="810.9" x2="1429.2" y2="810.9" stroke="#262626" stroke-width="1.2" />
<line x1="1831.2" y1="810.9" x2="1827.2" y2="810.9" stroke="#262626" stroke-width="1.2" />
<text x="1629.2" y="890.9" font-size="26.5" fill="#404040" text-anchor="middle" font-family="'Liberation Sans', Arial, sans-serif" >Distance (um)</text>
<text x="1372.0" y="654.4" font-size="26.5" fill="#404040" text-anchor="middle" font-family="'Liberation Sans', Arial, sans-serif" transform="rotate(-90 1372 654.4)">Distance (um)</text>
<text x="1314.5" y="519.4" font-size="50" fill="#000" text-anchor="start" font-family="'Liberation Sans', Arial, sans-serif" >F</text>
</svg>
</body></html>
